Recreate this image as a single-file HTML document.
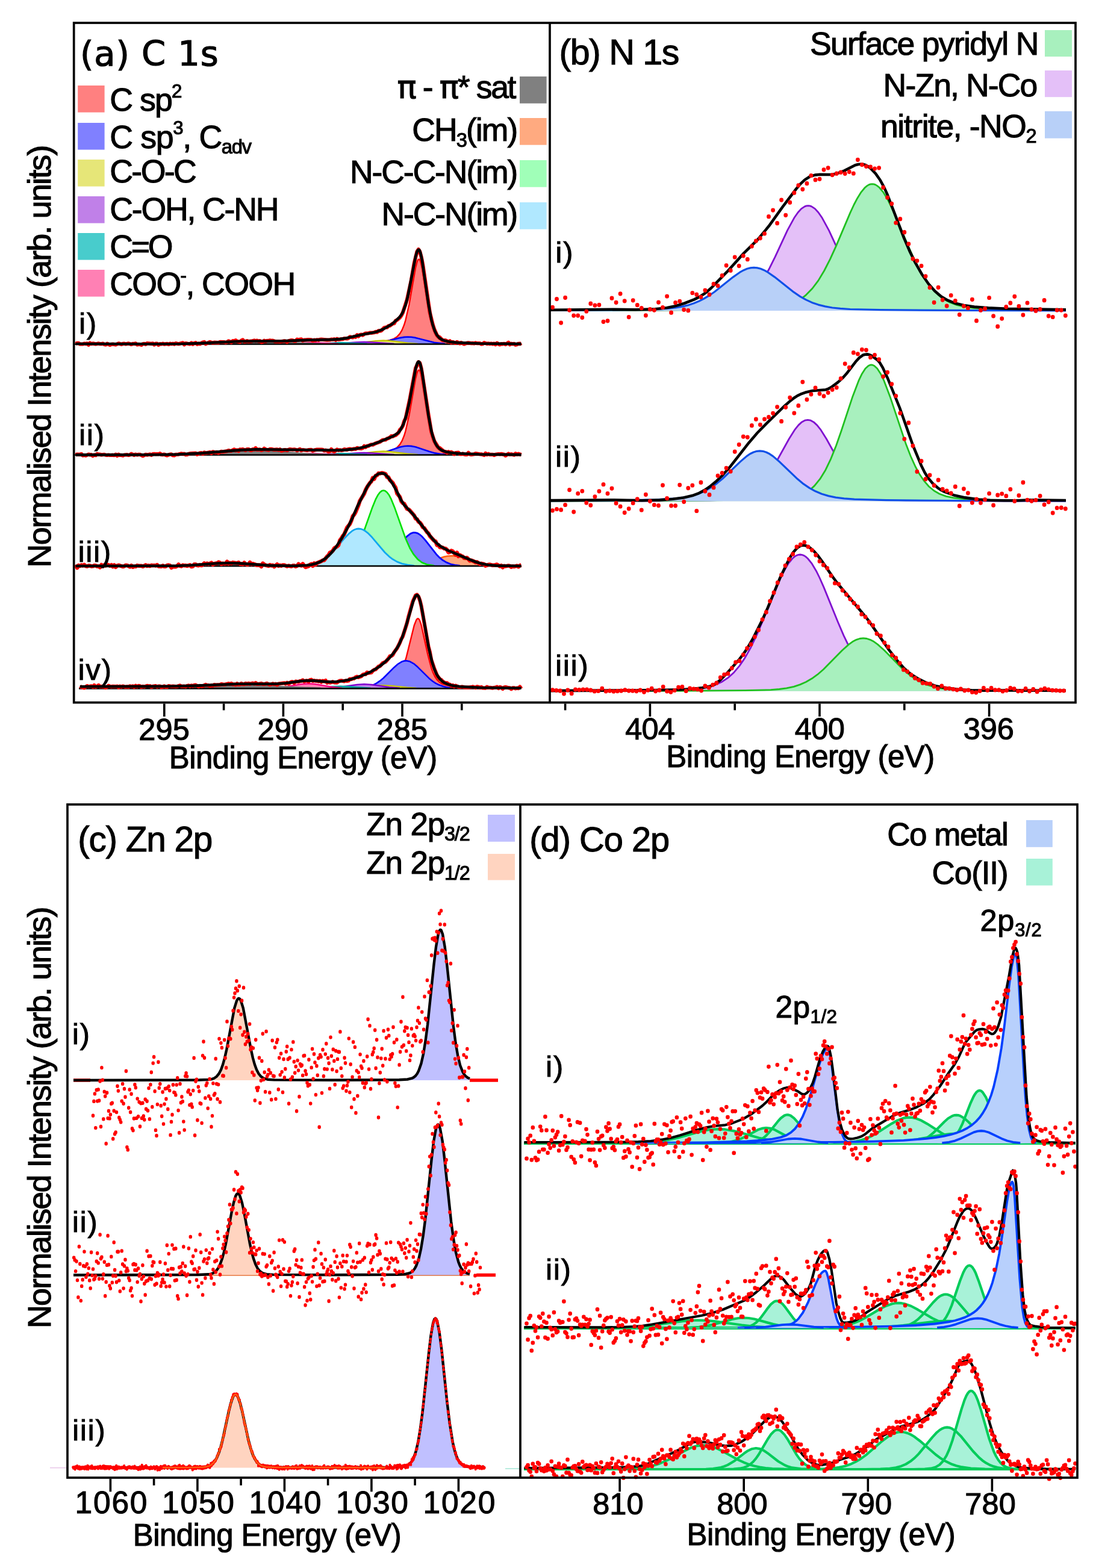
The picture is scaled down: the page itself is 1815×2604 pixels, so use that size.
<!DOCTYPE html>
<html><head><meta charset="utf-8"><title>XPS spectra</title>
<style>html,body{margin:0;padding:0;background:#fff;overflow:hidden;}svg{display:block;}</style></head>
<body><svg width="1815" height="2604" viewBox="0 0 1815 2604">
<rect width="1815" height="2604" fill="#fff"/>
<defs><clipPath id="ca"><rect x="124.5" y="40" width="786.5" height="1125"/></clipPath></defs>
<path d="M437.6 571.2 549 570.7 605.9 569.5 623.7 568.4 638 566.8 648.6 564.6 655.7 561.7 660.5 558.2 665.2 552.4 668.8 545.5 672.3 535.6 675.9 522.3 679.5 505.2 690.1 444.6 692.5 435.4 693.7 432.4 694.9 430.8 696.1 430.6 697.2 432 698.4 434.9 700.8 444.8 711.5 513.1 716.2 536.5 718.6 545 722.1 554.1 724.5 558.2 728.1 562.2 732.8 565.2 738.7 567 747 568.3 758.9 569.4 795.7 570.6 865.6 571.2 L865.6 571.5 L437.6 571.5Z" fill="#FF8080"/>
<path d="M530.1 570.9 590.5 570 626.1 568.2 638 566.8 647.4 564.9 654.6 562.3 659.3 559.3 664 554.1 667.6 548.1 671.2 539.3 673.5 531.6 679.5 505.2 690.1 444.6 692.5 435.4 693.7 432.4 694.9 430.8 696.1 430.6 697.2 432 698.4 434.9 700.8 444.8 710.3 506 715 531.5 719.8 548.5 722.1 554.1 725.7 559.8 729.3 563.2 732.8 565.2 738.7 567 745.9 568.2 772 570 815.8 570.9" fill="none" stroke="#FF0000" stroke-width="2.4" stroke-linejoin="round"/>
<path d="M608.3 571.2 621.4 570.5 632 569.1 642.7 566.9 664 561.1 671.2 559.9 677.1 559.5 683 559.8 690.1 560.9 712.7 567 723.3 569.2 734 570.5 747 571.2 L747 571.5 L608.3 571.5Z" fill="#8080FF"/>
<path d="M616.6 570.9 634.4 568.7 664 561.1 671.2 559.9 677.1 559.5 683 559.8 690.1 560.9 721 568.8 738.7 570.9" fill="none" stroke="#0000FF" stroke-width="2.6" stroke-linejoin="round"/>
<path d="M569.2 571.2 589.3 570.2 622.5 566.2 636.8 565.5 649.8 566.2 683 570.2 703.2 571.2 L703.2 571.5 L569.2 571.5Z" fill="#E6E678"/>
<path d="M579.9 570.8 595.3 569.6 623.7 566.1 636.8 565.5 648.6 566.1 677.1 569.6 693.7 570.9" fill="none" stroke="#C8C800" stroke-width="2.4" stroke-linejoin="round"/>
<path d="M543.1 571.2 604.8 568 666.4 571.2 L666.4 571.5 L543.1 571.5Z" fill="#C080E8"/>
<path d="M555 570.9 591.7 568.4 604.8 568 617.8 568.4 654.6 570.9" fill="none" stroke="#8000D0" stroke-width="2.4" stroke-linejoin="round"/>
<path d="M508.7 571.2 565.6 569 622.5 571.2 L622.5 571.5 L508.7 571.5Z" fill="#48CCCC"/>
<path d="M520.6 570.9 565.6 569 609.5 570.9" fill="none" stroke="#00A0A0" stroke-width="2.4" stroke-linejoin="round"/>
<path d="M461.3 571.2 518.2 569 575.1 571.2 L575.1 571.5 L461.3 571.5Z" fill="#FF80B4"/>
<path d="M473.1 570.9 518.2 569 562.1 570.9" fill="none" stroke="#FF0080" stroke-width="2.4" stroke-linejoin="round"/>
<path d="M281.1 571.2 319 570.6 389 568 418.6 567.5 449.4 568 519.4 570.6 557.3 571.2 L557.3 571.5 L281.1 571.5Z" fill="#808080"/>
<path d="M304.8 570.9 390.1 568 418.6 567.5 448.2 568 532.4 570.9" fill="none" stroke="#707070" stroke-width="2.4" stroke-linejoin="round"/>
<line x1="124" y1="571.5" x2="864" y2="571.5" stroke="#000" stroke-width="2.7"/>
<path d="M125.7 571 128.1 569.8 130.5 569.9 132.8 571.5 137.6 571.5 139.9 570.5 142.3 571.1 144.7 570.3 147.1 572.7 149.4 569.6 151.8 571.1 154.2 570.4 158.9 571.4 163.7 570.3 166 571.2 168.4 571.2 170.8 570.5 173.1 571.9 175.5 572.4 177.9 570.7 182.6 572.8 185 571.8 187.4 571.5 192.1 572.5 196.9 570.3 201.6 571.8 204 570.8 206.3 570.5 208.7 571.5 213.5 570.3 218.2 572 220.6 570.9 222.9 571 225.3 570.3 227.7 572.4 230.1 571.9 232.4 572 234.8 572.8 237.2 571.2 239.5 570.8 241.9 571.9 244.3 570 251.4 570.9 253.8 570.4 256.1 572.5 258.5 570.7 260.9 570.7 263.3 572.9 265.6 571 268 571.5 270.4 570.5 272.7 571.6 277.5 570.9 279.9 572 282.2 570.6 284.6 571.2 287 570.7 289.4 571.6 291.7 570.1 296.5 571.2 303.6 569.3 306 572.3 308.3 570 315.4 571.5 317.8 569.4 320.2 571.6 322.6 569.9 324.9 569.2 327.3 571.7 329.7 570.4 332 571.2 336.8 568.5 339.2 567.9 341.5 571.2 348.6 567.8 353.4 569.6 355.8 568.6 362.9 569.1 365.2 567.9 372.4 568.1 374.7 568.9 377.1 568.1 379.5 566.4 384.2 568.6 386.6 566 389 566.6 391.3 565.1 393.7 566.9 398.4 568.1 400.8 565.5 403.2 564.4 405.6 567.3 407.9 567.1 410.3 566 412.7 567.2 417.4 566.7 422.2 565.4 424.5 566.3 426.9 565.5 429.3 566.7 431.6 566.1 434 568.3 436.4 567.7 438.8 565.7 441.1 567 443.5 565.9 445.9 566 448.2 565.3 450.6 565.8 453 565.6 457.7 567.2 462.5 567 464.8 567.5 472 566.2 474.3 566.6 476.7 568 479.1 566.2 483.8 565 486.2 565.4 488.6 566.4 490.9 566.3 493.3 563.7 495.7 564.7 498 563.7 500.4 563.3 502.8 565.8 505.2 564.6 512.3 564.2 517 564.4 519.4 565.9 521.8 564.6 524.1 565.1 526.5 564.3 528.9 564.8 531.2 563.8 533.6 563.6 543.1 564.6 547.8 564.5 550.2 563.6 552.6 563.9 555 563.2 557.3 564.8 559.7 562.7 562.1 564 566.8 563.1 569.2 563.1 571.6 562 576.3 562.4 578.7 561.7 581 559.3 585.8 560.5 588.2 558.9 590.5 559.8 592.9 556.2 595.3 558.6 597.6 556.2 600 555.5 602.4 556.7 604.8 554.7 607.1 553.6 611.9 553.5 614.2 552.5 616.6 552.9 621.4 552.2 623.7 550.9 626.1 551.7 628.5 549.3 630.8 549.6 633.2 549.1 638 544.3 640.3 543.7 642.7 543.7 645.1 541.3 647.4 540.9 652.2 537.3 654.6 537.2 656.9 532.6 659.3 531.5 664 527.4 666.4 524.2 668.8 519.5 675.9 497.7 683 465.1 687.8 436.9 692.5 417.7 694.9 414.1 697.2 417.7 699.6 426.7 702 438.8 713.8 519 718.6 538.7 721 546.2 725.7 557 728.1 559.1 730.4 560.3 735.2 565.3 739.9 565.1 744.7 567.8 747 566.3 749.4 569.2 751.8 567.9 756.5 569.9 758.9 567.9 763.7 570.4 766 568.9 770.8 571.4 775.5 569.7 777.9 569.4 782.6 570.1 785 569.8 787.4 570.4 789.7 569.3 792.1 570.2 796.9 570 799.2 571.5 801.6 571.2 804 569.2 808.7 570.9 811.1 570.4 813.5 571.1 815.8 570.5 818.2 571.4 820.6 570.5 822.9 572.2 825.3 569.6 827.7 571.3 830.1 572.3 832.4 571.1 834.8 571.3 837.2 570.8 839.5 572 844.3 568.7 846.7 572.2 849 570.7 851.4 571.3 853.8 570.9 856.1 572.7 858.5 572.1 860.9 570.7 863.3 571.1 865.6 569.6" fill="none" stroke="#ff0000" stroke-width="6.2" stroke-linejoin="round"/>
<path d="M125.7 571 253.8 571.3 300 571 330.9 570.1 400.8 566.7 469.6 566.4 513.5 564.7 552.6 563.9 564.4 563.1 575.1 561.6 602.4 555.4 624.9 551.2 635.6 547 651 538.3 662.9 527.4 666.4 522.9 668.8 518.6 673.5 506.2 677.1 492.8 690.1 426 692.5 418 693.7 415.7 694.9 414.6 696.1 415 697.2 416.9 698.4 420.5 700.8 431.5 711.5 504.8 716.2 530.2 718.6 539.5 722.1 549.8 725.7 556.6 729.3 561 734 564.2 739.9 566.3 748.2 567.9 760.1 569.1 796.9 570.5 865.6 571.1" fill="none" stroke="#000" stroke-width="4.6" stroke-linejoin="round" stroke-linecap="butt"/>
<path d="M437.6 755.2 549 754.7 605.9 753.5 623.7 752.4 638 750.8 648.6 748.6 655.7 745.7 660.5 742.2 665.2 736.4 668.8 729.5 672.3 719.6 675.9 706.3 679.5 689.2 690.1 628.6 692.5 619.4 693.7 616.4 694.9 614.8 696.1 614.6 697.2 616 698.4 618.9 700.8 628.8 711.5 697.1 716.2 720.5 718.6 729 722.1 738.1 724.5 742.2 728.1 746.2 732.8 749.2 738.7 751 747 752.3 758.9 753.4 795.7 754.6 865.6 755.2 L865.6 755.5 L437.6 755.5Z" fill="#FF8080"/>
<path d="M530.1 754.9 590.5 754 626.1 752.2 638 750.8 647.4 748.9 654.6 746.3 659.3 743.3 664 738.1 667.6 732.1 671.2 723.3 673.5 715.6 679.5 689.2 690.1 628.6 692.5 619.4 693.7 616.4 694.9 614.8 696.1 614.6 697.2 616 698.4 618.9 700.8 628.8 710.3 690 715 715.5 719.8 732.5 722.1 738.1 725.7 743.8 729.3 747.2 732.8 749.2 738.7 751 745.9 752.2 772 754 815.8 754.9" fill="none" stroke="#FF0000" stroke-width="2.4" stroke-linejoin="round"/>
<path d="M605.9 755.2 620.2 754.4 632 752.6 642.7 749.7 664 742.5 671.2 741 677.1 740.5 683 740.9 690.1 742.3 712.7 749.8 723.3 752.6 735.2 754.4 749.4 755.2 L749.4 755.5 L605.9 755.5Z" fill="#8080FF"/>
<path d="M614.2 754.9 623.7 754 633.2 752.3 642.7 749.7 664 742.5 671.2 741 677.1 740.5 683 740.9 690.1 742.3 712.7 749.8 722.1 752.4 731.6 754 741.1 754.9" fill="none" stroke="#0000FF" stroke-width="2.6" stroke-linejoin="round"/>
<path d="M569.2 755.2 589.3 754.2 622.5 750.2 636.8 749.5 649.8 750.2 683 754.2 703.2 755.2 L703.2 755.5 L569.2 755.5Z" fill="#E6E678"/>
<path d="M579.9 754.8 595.3 753.6 623.7 750.1 636.8 749.5 648.6 750.1 677.1 753.6 693.7 754.9" fill="none" stroke="#C8C800" stroke-width="2.4" stroke-linejoin="round"/>
<path d="M543.1 755.2 604.8 752 666.4 755.2 L666.4 755.5 L543.1 755.5Z" fill="#C080E8"/>
<path d="M555 754.9 591.7 752.4 604.8 752 617.8 752.4 654.6 754.9" fill="none" stroke="#8000D0" stroke-width="2.4" stroke-linejoin="round"/>
<path d="M508.7 755.2 565.6 753 622.5 755.2 L622.5 755.5 L508.7 755.5Z" fill="#48CCCC"/>
<path d="M520.6 754.9 565.6 753 609.5 754.9" fill="none" stroke="#00A0A0" stroke-width="2.4" stroke-linejoin="round"/>
<path d="M461.3 755.2 518.2 753 575.1 755.2 L575.1 755.5 L461.3 755.5Z" fill="#FF80B4"/>
<path d="M473.1 754.9 518.2 753 562.1 754.9" fill="none" stroke="#FF0080" stroke-width="2.4" stroke-linejoin="round"/>
<path d="M268 755.2 315.4 754 389 749.4 418.6 748.5 448.2 749.3 522.9 754 570.4 755.2 L570.4 755.5 L268 755.5Z" fill="#808080"/>
<path d="M289.4 754.9 327.3 753.4 391.3 749.2 418.6 748.5 445.9 749.2 509.9 753.4 549 754.9" fill="none" stroke="#707070" stroke-width="2.4" stroke-linejoin="round"/>
<line x1="124" y1="755.5" x2="864" y2="755.5" stroke="#000" stroke-width="2.7"/>
<path d="M125.7 755.4 128.1 754.5 132.8 754.8 135.2 754 137.6 756.5 139.9 756 142.3 756.6 147.1 754.5 149.4 755.4 151.8 755 154.2 757.1 156.5 755.3 158.9 756.2 161.3 753.8 163.7 754.6 166 754.6 168.4 755.5 173.1 754.8 175.5 755.7 177.9 755.9 180.3 755.5 182.6 756 187.4 755.7 189.7 756.1 192.1 754.7 194.5 756.8 196.9 754.7 199.2 756 201.6 755.9 204 756.6 206.3 755.5 211.1 755.2 213.5 755.9 215.8 755.3 218.2 753.7 222.9 755.9 225.3 754.5 227.7 755.5 230.1 754.8 232.4 754.8 237.2 757.1 241.9 754.8 244.3 755.6 249 754.4 251.4 755.8 253.8 754.1 256.1 753.8 258.5 754.2 263.3 754.2 265.6 753.1 268 754.9 270.4 755.1 272.7 754.5 275.1 755.8 277.5 756.4 282.2 754.5 284.6 754.4 287 756.2 289.4 756.4 291.7 754.9 296.5 754.6 301.2 753.3 303.6 754.1 306 753.6 308.3 755.1 310.7 755 313.1 753.7 315.4 753.2 324.9 752.5 327.3 754.7 332 752.4 334.4 752.1 336.8 753.8 339.2 751.3 341.5 752.5 348.6 750.9 351 752.7 353.4 750.3 358.1 751.5 360.5 750.8 362.9 752.3 367.6 749.8 370 750.4 377.1 749.1 379.5 748 381.8 748.7 384.2 748.8 389 746.3 391.3 748.3 393.7 747.3 396.1 749.1 398.4 746.3 400.8 746.7 403.2 746 407.9 747.9 410.3 746 412.7 746 415 747.4 417.4 747.9 419.8 746.1 422.2 746.6 424.5 744.1 426.9 746.9 431.6 746.4 434 747.8 436.4 747.1 438.8 744.8 441.1 746.4 445.9 747.5 448.2 745.9 450.6 745.8 455.4 746.9 460.1 746.3 462.5 747.3 464.8 746.2 467.2 748.7 472 747.2 474.3 747 476.7 748 479.1 746.7 481.4 746.1 486.2 746.8 488.6 746.3 490.9 746.7 493.3 748.1 498 745.9 500.4 748.1 502.8 747 509.9 748 512.3 747.1 517 746.9 519.4 748.6 521.8 747.6 526.5 746.6 533.6 746.6 536 746.9 538.4 748.5 540.7 747.7 543.1 748.5 545.5 750 547.8 749.4 550.2 746 552.6 748.9 555 749.9 559.7 746.4 562.1 747.8 564.4 747.3 566.8 747.8 569.2 747.5 571.6 746.1 576.3 747 578.7 745.9 581 745.5 583.4 746.4 588.2 745.4 590.5 745.8 592.9 743.8 595.3 744.5 600 744.9 602.4 744 604.8 740.9 607.1 742.7 609.5 740.6 611.9 740.6 614.2 739.1 616.6 738.3 619 738.7 623.7 736.2 630.8 733.9 635.6 730.5 640.3 730.4 642.7 728.5 645.1 727.8 647.4 726.5 649.8 724.2 652.2 724.9 654.6 723.5 656.9 722.8 661.7 718.6 664 713.8 666.4 711.4 668.8 707.5 671.2 699.4 673.5 695.1 680.6 662.4 690.1 611.6 694.9 601.1 697.2 602.7 699.6 611.7 711.5 688.8 716.2 716.8 721 732.2 728.1 743.4 730.4 744 737.6 750.2 739.9 750 742.3 752 744.7 750.2 747 751.5 749.4 750.7 751.8 751.9 754.2 754.2 756.5 752.1 761.3 751.6 763.7 754.1 766 754.2 768.4 753.4 770.8 754.5 773.1 754.9 775.5 754.8 777.9 751.8 780.3 754.5 782.6 755 787.4 754.2 789.7 753.1 796.9 754.3 799.2 754.3 804 755.9 806.3 752.7 808.7 755 811.1 753.7 813.5 754.9 818.2 754.8 820.6 756 822.9 754.8 827.7 754 830.1 754.4 832.4 753.9 837.2 754.9 839.5 756.7 844.3 753.5 846.7 754.8 849 754.2 853.8 755.6 856.1 753.2 858.5 754.7 860.9 753.7 865.6 755.3" fill="none" stroke="#ff0000" stroke-width="6.2" stroke-linejoin="round"/>
<path d="M125.7 755.4 245.5 755.3 295.3 754.6 334.4 752.6 399.6 747.4 425.7 746.3 560.9 747.8 573.9 747.1 585.8 745.9 596.5 744.2 607.1 741.7 624.9 735.9 652.2 724.7 659.3 720.3 662.9 716.8 665.2 713.6 670 704.3 674.7 689.7 679.5 669 690.1 612.3 692.5 604.1 693.7 601.7 694.9 600.6 696.1 600.9 697.2 602.8 698.4 606.3 700.8 617.2 711.5 690.1 716.2 715.1 718.6 724.3 722.1 734.3 725.7 740.8 729.3 744.8 734 748 739.9 750.2 748.2 751.8 760.1 753.1 795.7 754.5 865.6 755.1" fill="none" stroke="#000" stroke-width="4.6" stroke-linejoin="round" stroke-linecap="butt"/>
<path d="M667.6 939.7 684.2 938.8 697.2 937 709.1 934 736.4 924.9 743.5 923.5 750.6 923 757.7 923.6 764.8 925.1 790.9 933.9 802.8 936.9 815.8 938.8 832.4 939.7 L832.4 940 L667.6 940Z" fill="#FFAA80"/>
<path d="M677.1 939.4 688.9 938.3 699.6 936.5 710.3 933.6 736.4 924.9 743.5 923.5 750.6 923 757.7 923.6 764.8 925.1 789.7 933.5 800.4 936.4 811.1 938.3 822.9 939.3" fill="none" stroke="#FF6010" stroke-width="2.6" stroke-linejoin="round"/>
<path d="M605.9 939.7 617.8 938.9 626.1 937.3 633.2 934.9 640.3 930.8 646.3 926.1 652.2 920 670 897.2 675.9 890.6 681.8 886.1 685.4 884.7 687.8 884.4 690.1 884.6 693.7 885.7 697.2 887.9 700.8 891 706.7 897.6 724.5 920.4 730.4 926.4 736.4 931.1 743.5 935 750.6 937.4 758.9 938.9 770.8 939.7 L770.8 940 L605.9 940Z" fill="#8080FF"/>
<path d="M613.1 939.3 621.4 938.4 628.5 936.7 635.6 933.7 641.5 930 646.3 926.1 652.2 920 670 897.2 675.9 890.6 681.8 886.1 685.4 884.7 687.8 884.4 690.1 884.6 693.7 885.7 697.2 887.9 700.8 891 706.7 897.6 724.5 920.4 730.4 926.4 735.2 930.3 741.1 933.9 748.2 936.8 755.4 938.4 763.7 939.4" fill="none" stroke="#0000FF" stroke-width="2.8" stroke-linejoin="round"/>
<path d="M546.7 939.7 560.9 938.3 565.6 937.2 570.4 935.4 575.1 932.7 578.7 930 585.8 922 591.7 912.5 598.8 897.2 604.8 881.7 617.8 844.1 623.7 829.4 627.3 822.6 630.8 817.7 634.4 814.9 636.8 814.4 639.1 814.9 642.7 817.7 646.3 822.6 649.8 829.4 655.7 844.1 668.8 881.7 674.7 897.2 681.8 912.5 687.8 922 694.9 930 698.4 932.7 703.2 935.4 707.9 937.2 712.7 938.3 726.9 939.7 L726.9 940 L546.7 940Z" fill="#A0FFB8"/>
<path d="M552.6 939.4 564.4 937.5 572.7 934.2 579.9 928.9 587 920.4 592.9 910.3 600 894.3 617.8 844.1 623.7 829.4 627.3 822.6 630.8 817.7 634.4 814.9 636.8 814.4 639.1 814.9 642.7 817.7 646.3 822.6 649.8 829.4 655.7 844.1 673.5 894.3 680.6 910.3 686.6 920.4 693.7 928.9 700.8 934.2 709.1 937.5 721 939.4" fill="none" stroke="#00E000" stroke-width="2.6" stroke-linejoin="round"/>
<path d="M494.5 939.7 508.7 938.9 519.4 937.3 528.9 934.3 537.2 930.1 544.3 924.9 551.4 918.3 558.5 910.4 572.7 893.2 579.9 885.8 584.6 881.9 588.2 879.8 591.7 878.5 595.3 878 598.8 878.3 602.4 879.5 605.9 881.4 610.7 885.1 617.8 892.3 633.2 910.9 640.3 918.7 647.4 925.3 654.6 930.3 662.9 934.5 672.3 937.3 683 939 696.1 939.7 L696.1 940 L494.5 940Z" fill="#B0E8FF"/>
<path d="M502.8 939.4 513.5 938.3 522.9 936.4 531.2 933.3 538.4 929.3 545.5 923.9 552.6 917.1 572.7 893.2 579.9 885.8 584.6 881.9 588.2 879.8 591.7 878.5 595.3 878 598.8 878.3 602.4 879.5 605.9 881.4 610.7 885.1 617.8 892.3 639.1 917.5 646.3 924.3 652.2 928.8 659.3 932.9 667.6 936.1 677.1 938.2 687.8 939.3" fill="none" stroke="#10A8F0" stroke-width="2.8" stroke-linejoin="round"/>
<path d="M289.4 939.7 315.4 938.9 360.5 935.6 379.5 935 398.4 935.6 443.5 938.9 469.6 939.7 L469.6 940 L289.4 940Z" fill="#808080"/>
<path d="M303.6 939.4 323.7 938.4 361.7 935.5 379.5 935 397.3 935.5 435.2 938.4 455.4 939.4" fill="none" stroke="#707070" stroke-width="2.4" stroke-linejoin="round"/>
<line x1="124" y1="940" x2="864" y2="940" stroke="#000" stroke-width="2.7"/>
<path d="M125.7 937.8 128.1 943 130.5 938.9 132.8 939.9 135.2 938.4 137.6 939.5 139.9 937.8 142.3 940 144.7 940.6 147.1 939.3 149.4 939.5 151.8 940.4 154.2 940.3 156.5 939.1 158.9 939.2 161.3 940.6 163.7 940.4 166 942.2 168.4 938 170.8 940.3 173.1 938.4 175.5 939.5 177.9 937.7 180.3 938.2 182.6 939.6 185 938.2 187.4 941.1 189.7 938.5 192.1 941.8 194.5 939.6 196.9 938.7 204 941 206.3 940.4 208.7 938.7 211.1 938.9 215.8 941.5 218.2 939.2 220.6 941.7 222.9 940.6 225.3 940.9 227.7 939.1 230.1 939.7 234.8 939.7 237.2 940.8 241.9 938.3 244.3 940 246.7 939.2 249 940.1 251.4 938.8 253.8 939.2 256.1 938.9 258.5 939.6 260.9 938 263.3 940.4 268 940.7 270.4 939.2 272.7 940.7 275.1 940.7 277.5 939 279.9 938.5 282.2 939.2 284.6 942.8 287 940.9 291.7 941.2 294.1 940.1 296.5 937.4 298.8 939.9 301.2 940.4 303.6 938.6 306 939.2 308.3 939.1 310.7 939.9 315.4 938.4 317.8 941.1 320.2 940.6 322.6 937.2 324.9 937.3 327.3 938.8 329.7 939.2 332 938 334.4 939.1 336.8 937.8 339.2 935.3 341.5 936.9 343.9 935.5 346.3 936.9 351 934.6 353.4 937.7 355.8 936.3 360.5 935.3 362.9 933.6 365.2 934.5 367.6 937 370 935.5 372.4 936.2 374.7 936.1 377.1 932.6 379.5 936.3 381.8 934.7 384.2 935.9 386.6 934.1 393.7 935.4 396.1 934.1 398.4 936.7 400.8 936.6 403.2 937.3 405.6 934.5 407.9 936.6 410.3 937.7 412.7 937.2 415 933.9 417.4 937.2 419.8 936.2 426.9 938.6 431.6 938.6 434 941 436.4 935.5 438.8 937.5 441.1 938.6 445.9 940 448.2 938 450.6 939.4 453 938.7 455.4 941.1 460.1 937.1 462.5 939.9 464.8 938.7 467.2 939.7 469.6 938.4 472 938.5 476.7 940.5 479.1 939.5 483.8 940.6 486.2 939.3 488.6 939.3 490.9 940.8 493.3 939.9 495.7 936.7 498 938.6 500.4 939.4 502.8 936.4 505.2 939.8 507.5 942 512.3 940.3 514.6 937.8 517 936.6 519.4 939.9 521.8 935.3 524.1 937.5 526.5 934.9 533.6 931.9 536 930.4 538.4 930.4 543.1 924.1 545.5 922 547.8 917.8 550.2 916.9 552.6 914.6 555 910.6 559.7 907.6 562.1 905.3 564.4 897.4 566.8 894.4 569.2 890.1 571.6 887.3 576.3 876 581 870.3 583.4 864.7 585.8 857.2 588.2 854.5 590.5 850.6 595.3 838.9 597.6 831.6 604.8 819.9 607.1 813.6 609.5 809.1 614.2 802 616.6 799.7 619 793.5 621.4 795.5 623.7 790 626.1 789.4 628.5 786 630.8 786.4 633.2 785.5 635.6 785.5 640.3 787.1 642.7 792.4 645.1 792.6 647.4 797.2 652.2 801.8 654.6 806.4 656.9 809.8 659.3 819.4 664 825.2 666.4 832.5 668.8 835.5 671.2 836.5 675.9 845.1 678.3 845.8 680.6 847.8 687.8 856.2 690.1 861.2 692.5 862.2 694.9 866.5 697.2 867.8 699.6 870.8 702 875.5 704.4 876.8 709.1 883.8 711.5 885.9 713.8 890.2 721 898 723.3 899 725.7 905.4 728.1 905 730.4 908.9 732.8 908.8 735.2 909.4 737.6 911 739.9 911.1 742.3 913.1 744.7 917.5 747 916.9 749.4 914.6 751.8 915.6 756.5 921.2 758.9 917.7 761.3 923.8 763.7 921.9 766 923.3 768.4 924 770.8 926.8 773.1 926.9 775.5 926.2 780.3 931.2 782.6 930.5 787.4 932.5 789.7 934.1 792.1 933.3 796.9 936.8 799.2 935.8 804 936.9 806.3 939.6 811.1 937.7 813.5 937.5 818.2 938.9 822.9 938.2 825.3 937.4 830.1 940.4 832.4 939.2 834.8 942.2 837.2 939.8 839.5 940.4 844.3 939.4 846.7 939.9 849 941.7 851.4 940.4 853.8 941 858.5 939.6 860.9 941.2 863.3 939.1 865.6 938.4" fill="none" stroke="#ff0000" stroke-width="6.5" stroke-linejoin="round"/>
<path d="M125.7 940 291.7 939.7 316.6 938.8 360.5 935.6 379.5 935 398.4 935.6 448.2 939.1 488.6 939.8 509.9 938.8 517 937.7 524.1 936 532.4 932.6 540.7 927.2 549 919.5 557.3 909.4 566.8 895.1 577.5 876 584.6 861.6 594.1 839.7 610.7 806.8 620.2 794.1 623.7 790.1 628.5 786.8 633.2 786 636.8 786.4 639.1 787.4 643.9 792.1 652.2 803.6 660.5 819 666.4 831.2 671.2 838.6 685.4 853.5 718.6 895.4 725.7 902.6 732.8 908.1 743.5 914 781.4 929.9 790.9 933.5 800.4 936.2 811.1 938.2 824.1 939.4 865.6 940" fill="none" stroke="#000" stroke-width="4.6" stroke-linejoin="round" stroke-linecap="butt"/>
<path d="M438.8 1143 544.3 1142.6 600 1141.5 619 1140.5 633.2 1139.2 642.7 1137.5 649.8 1135.2 654.6 1132.4 659.3 1128 664 1120.9 667.6 1113.3 671.2 1103.5 674.7 1091.4 687.8 1038.5 691.3 1029.6 692.5 1028.1 693.7 1027.3 694.9 1027.5 696.1 1028.8 697.2 1031.1 699.6 1038.2 711.5 1092.1 717.4 1112.7 719.8 1118.7 723.3 1125.5 726.9 1130.2 730.4 1133.4 735.2 1136 742.3 1138.1 751.8 1139.6 763.7 1140.7 800.4 1142.2 865.6 1142.9 L865.6 1143.3 L438.8 1143.3Z" fill="#FF8080"/>
<path d="M530.1 1142.7 589.3 1141.8 623.7 1140.2 635.6 1138.8 643.9 1137.2 649.8 1135.2 654.6 1132.4 658.1 1129.3 661.7 1124.8 665.2 1118.6 668.8 1110.3 674.7 1091.4 687.8 1038.5 691.3 1029.6 692.5 1028.1 693.7 1027.3 694.9 1027.5 696.1 1028.8 697.2 1031.1 699.6 1038.2 710.3 1087 716.2 1109.3 718.6 1115.9 722.1 1123.5 725.7 1128.9 729.3 1132.5 734 1135.5 738.7 1137.2 745.9 1138.8 756.5 1140.2 787.4 1141.8 839.5 1142.7" fill="none" stroke="#FF0000" stroke-width="2.4" stroke-linejoin="round"/>
<path d="M588.2 1143 600 1142.3 608.3 1141.1 615.4 1139.1 622.5 1136.1 628.5 1132.6 635.6 1127 654.6 1108.2 661.7 1102.1 668.8 1098.3 674.7 1097.3 680.6 1098.6 687.8 1102.7 693.7 1107.8 712.7 1126.7 719.8 1132.3 725.7 1135.9 732.8 1139 739.9 1141 748.2 1142.3 760.1 1143 L760.1 1143.3 L588.2 1143.3Z" fill="#8080FF"/>
<path d="M595.3 1142.7 604.8 1141.7 611.9 1140.2 619 1137.8 624.9 1134.8 630.8 1130.9 636.8 1126 654.6 1108.2 660.5 1103 667.6 1098.7 671.2 1097.6 674.7 1097.3 680.6 1098.6 687.8 1102.7 693.7 1107.8 712.7 1126.7 718.6 1131.5 723.3 1134.6 729.3 1137.6 736.4 1140.1 743.5 1141.6 753 1142.7" fill="none" stroke="#0000FF" stroke-width="2.6" stroke-linejoin="round"/>
<path d="M571.6 1143 590.5 1142.1 622.5 1138.9 636.8 1138.3 649.8 1138.9 683 1142.2 702 1143 L702 1143.3 L571.6 1143.3Z" fill="#E6E678"/>
<path d="M582.2 1142.6 596.5 1141.6 623.7 1138.8 636.8 1138.3 649.8 1138.9 675.9 1141.6 691.3 1142.7" fill="none" stroke="#C8C800" stroke-width="2.4" stroke-linejoin="round"/>
<path d="M536 1143 557.3 1141.8 590.5 1137.2 604.8 1136.3 619 1137.2 652.2 1141.8 673.5 1143 L673.5 1143.3 L536 1143.3Z" fill="#C080E8"/>
<path d="M545.5 1142.7 563.3 1141.2 592.9 1137 604.8 1136.3 616.6 1137 646.3 1141.2 664 1142.7" fill="none" stroke="#8000D0" stroke-width="2.4" stroke-linejoin="round"/>
<path d="M504 1143 522.9 1142.3 553.8 1140.1 565.6 1139.8 626.1 1143 L626.1 1143.3 L504 1143.3Z" fill="#48CCCC"/>
<path d="M515.8 1142.7 551.4 1140.2 565.6 1139.8 578.7 1140.2 615.4 1142.7" fill="none" stroke="#00A0A0" stroke-width="2.4" stroke-linejoin="round"/>
<path d="M445.9 1143 467.2 1141.6 499.2 1136.2 512.3 1135.3 525.3 1136.4 556.1 1141.6 577.5 1143 L577.5 1143.3 L445.9 1143.3Z" fill="#FF80B4"/>
<path d="M455.4 1142.7 472 1141 500.4 1136.1 512.3 1135.3 522.9 1136 551.4 1141 568 1142.6" fill="none" stroke="#FF0080" stroke-width="2.4" stroke-linejoin="round"/>
<path d="M273.9 1143 314.3 1142.3 385.4 1139.3 415 1138.8 444.7 1139.3 515.8 1142.3 556.1 1143 L556.1 1143.3 L273.9 1143.3Z" fill="#808080"/>
<path d="M297.7 1142.7 386.6 1139.3 415 1138.8 443.5 1139.3 532.4 1142.7" fill="none" stroke="#707070" stroke-width="2.4" stroke-linejoin="round"/>
<line x1="131" y1="1143.3" x2="864" y2="1143.3" stroke="#000" stroke-width="2.7"/>
<path d="M132.8 1139.6 135.2 1141.1 139.9 1142.5 144.7 1139.1 147.1 1140.2 151.8 1139.3 154.2 1141 156.5 1138 158.9 1141 161.3 1139.9 163.7 1138 166 1140.3 168.4 1140.1 170.8 1140.7 173.1 1139.9 175.5 1142.1 177.9 1140.8 180.3 1138.7 182.6 1140 185 1140.4 187.4 1139.9 192.1 1140.1 194.5 1139.7 196.9 1141.7 199.2 1139.7 201.6 1140.8 204 1139.5 208.7 1141.1 211.1 1140.3 213.5 1141.1 215.8 1139.3 218.2 1140.2 220.6 1139.4 222.9 1141.2 225.3 1138.7 227.7 1140.4 230.1 1138.9 232.4 1139.4 234.8 1141.2 237.2 1139.9 239.5 1140.6 244.3 1138.8 246.7 1139.5 249 1139.2 251.4 1141.2 253.8 1139.9 258.5 1139.1 260.9 1140.6 263.3 1139.5 265.6 1139.6 268 1141.4 270.4 1140.9 272.7 1139.5 275.1 1141 277.5 1141 279.9 1139.1 284.6 1140 287 1139.7 291.7 1140.2 294.1 1140 298.8 1138.3 301.2 1139.9 306 1139.6 308.3 1140.4 310.7 1139 313.1 1138.4 315.4 1139.9 317.8 1138.3 320.2 1139.5 322.6 1137.8 324.9 1137.7 329.7 1140.4 332 1138.8 334.4 1139.7 336.8 1139.5 341.5 1136.9 343.9 1138.1 346.3 1138.1 348.6 1139.4 351 1138.2 353.4 1138.8 355.8 1137 358.1 1137.8 360.5 1137.3 365.2 1137.2 367.6 1136 372.4 1137 379.5 1135.2 381.8 1136.2 384.2 1134.9 386.6 1136.7 389 1136.3 391.3 1137.3 393.7 1135.2 396.1 1136.8 398.4 1136.7 400.8 1135 403.2 1136.2 405.6 1136.4 407.9 1134.8 410.3 1135.8 412.7 1134.8 415 1136 417.4 1135 419.8 1134.7 422.2 1135.6 424.5 1134 426.9 1136 431.6 1135.7 434 1134.9 436.4 1136.1 438.8 1136.2 443.5 1134.8 445.9 1136.3 448.2 1137.1 453 1135.3 455.4 1136.4 457.7 1135.7 460.1 1137.4 462.5 1135.6 472 1134.2 474.3 1135.6 476.7 1133.8 479.1 1135.6 483.8 1132.4 486.2 1132.3 488.6 1134.3 490.9 1131.7 495.7 1132.3 498 1131.1 500.4 1130.8 502.8 1129.4 505.2 1131.8 507.5 1130.7 509.9 1130.4 512.3 1131.9 514.6 1129.2 517 1128.7 519.4 1130.9 521.8 1130.2 524.1 1130.9 526.5 1130.7 528.9 1131.7 531.2 1130.6 533.6 1132.7 536 1130.6 538.4 1131.7 540.7 1130 543.1 1133.9 545.5 1132.6 547.8 1133.7 552.6 1132.2 555 1133.3 559.7 1133.7 562.1 1131.7 564.4 1130.5 566.8 1130.3 571.6 1131.4 573.9 1130.4 576.3 1131 578.7 1130.5 581 1127.5 583.4 1128.1 585.8 1126.9 588.2 1126.8 590.5 1124.6 592.9 1123.7 595.3 1124.9 600 1123.1 602.4 1120.5 604.8 1119.6 607.1 1120 609.5 1116.6 611.9 1117.6 616.6 1117 619 1114.1 621.4 1112.3 623.7 1111.7 628.5 1106.9 630.8 1106.4 635.6 1101.1 640.3 1099.1 645.1 1093.6 647.4 1089.7 649.8 1089.4 652.2 1087.7 654.6 1083 659.3 1076.7 664 1067.3 666.4 1061.2 668.8 1057 675.9 1034.5 678.3 1024.4 685.4 999 690.1 988.8 692.5 987.6 694.9 990.6 697.2 996.8 699.6 1006.5 711.5 1074.2 713.8 1082.7 716.2 1095.7 721 1109.8 725.7 1121.7 730.4 1127.9 732.8 1129.1 735.2 1131.7 737.6 1133.2 739.9 1134.4 742.3 1134.2 744.7 1136.2 747 1136.7 749.4 1139 751.8 1138 754.2 1140.2 756.5 1138.6 761.3 1140.8 763.7 1141.3 766 1140.6 768.4 1140.6 770.8 1141.4 777.9 1141.7 782.6 1141.2 785 1140.4 789.7 1142.2 792.1 1140.3 794.5 1140.8 796.9 1142.1 799.2 1141 801.6 1142.5 806.3 1142.7 808.7 1140.7 811.1 1142 813.5 1141.9 818.2 1142.6 820.6 1141.9 822.9 1141.7 825.3 1140.6 827.7 1143.1 830.1 1141 832.4 1141.8 834.8 1144 837.2 1141.6 839.5 1141 844.3 1142.3 846.7 1142.4 849 1144.3 851.4 1142.3 853.8 1142.4 856.1 1143.5 858.5 1142.5 860.9 1143.2 863.3 1140.6 865.6 1143.8" fill="none" stroke="#ff0000" stroke-width="6.2" stroke-linejoin="round"/>
<path d="M132.8 1140.2 281.1 1139.8 321.4 1138.9 397.3 1135.8 457.7 1135.8 473.1 1134.8 499.2 1131.1 509.9 1130.2 520.6 1130.4 544.3 1132.4 557.3 1132.3 570.4 1130.8 583.4 1127.9 595.3 1124.2 605.9 1120.2 615.4 1115.8 623.7 1111.1 632 1105.4 639.1 1099.6 646.3 1092.9 653.4 1084.8 658.1 1078.2 661.7 1072.2 667.6 1059.4 673.5 1042.2 686.6 996.9 690.1 989.7 691.3 988.6 692.5 988.3 693.7 988.9 694.9 990.4 696.1 993 698.4 1001.2 702 1019 711.5 1073.4 717.4 1099.3 721 1110.4 724.5 1118.7 728.1 1124.7 732.8 1130.1 737.6 1133.6 744.7 1136.8 753 1138.9 763.7 1140.3 798 1142 865.6 1142.8" fill="none" stroke="#000" stroke-width="4.6" stroke-linejoin="round" stroke-linecap="butt"/>
<path d="M914 515.7 1086.4 515.2 1167.4 514.2 1186.4 513.3 1200.5 511.8 1212.5 509.4 1223 506 1233.6 500.7 1242.7 494.1 1251.9 485.1 1260.3 474.5 1268.8 461.6 1277.9 445.2 1287.1 426.6 1307.5 382.7 1318.8 361.8 1325.1 352.7 1330.7 346.6 1336.4 342.9 1339.2 341.9 1342 341.6 1344.8 341.9 1347.6 342.9 1353.3 346.6 1358.9 352.7 1365.2 361.8 1376.5 382.7 1396.9 426.6 1406.1 445.2 1415.2 461.6 1423.7 474.5 1432.1 485.1 1441.3 494.1 1450.4 500.7 1461 506 1471.5 509.4 1483.5 511.8 1497.6 513.3 1516.6 514.2 1597.5 515.2 1770 515.7 L1770 516 L914 516Z" fill="#E4C0F8"/>
<path d="M914 515.7 1086.4 515.2 1167.4 514.2 1186.4 513.3 1200.5 511.8 1212.5 509.4 1223 506 1233.6 500.7 1242.7 494.1 1251.9 485.1 1260.3 474.5 1268.8 461.6 1277.9 445.2 1287.1 426.6 1307.5 382.7 1318.8 361.8 1325.1 352.7 1330.7 346.6 1336.4 342.9 1339.2 341.9 1342 341.6 1344.8 341.9 1347.6 342.9 1353.3 346.6 1358.9 352.7 1365.2 361.8 1376.5 382.7 1396.9 426.6 1406.1 445.2 1415.2 461.6 1423.7 474.5 1432.1 485.1 1441.3 494.1 1450.4 500.7 1461 506 1471.5 509.4 1483.5 511.8 1497.6 513.3 1516.6 514.2 1597.5 515.2 1770 515.7" fill="none" stroke="#8010D0" stroke-width="2.8" stroke-linejoin="round"/>
<path d="M914 515.6 1130.8 514.9 1244.1 513.3 1269.5 512.3 1287.8 510.6 1302.6 507.9 1315.2 504 1327.2 498.1 1332.8 494.3 1338.5 489.8 1349 479 1358.9 465.9 1368.7 449.5 1378.6 430.2 1388.5 408.4 1411.7 353.6 1418 340 1423.7 329.2 1430 319.1 1436.3 311.5 1439.8 308.6 1442.7 306.9 1445.5 305.9 1448.3 305.6 1451.1 305.9 1453.9 306.9 1456.7 308.6 1460.3 311.5 1466.6 319.1 1473.6 330.5 1485.6 355.2 1507.4 406.7 1516.6 427.2 1525.7 445.6 1534.2 460.4 1541.9 471.9 1550.4 482.2 1558.8 490.4 1567.3 496.8 1577.8 502.5 1589.1 506.6 1602.5 509.6 1618 511.6 1637.7 512.8 1665.1 513.7 1770 514.9 L1770 516 L914 516Z" fill="#A8F0BE"/>
<path d="M914 515.6 1130.8 514.9 1244.1 513.3 1269.5 512.3 1287.8 510.6 1302.6 507.9 1315.2 504 1327.2 498.1 1332.8 494.3 1338.5 489.8 1349 479 1358.9 465.9 1368.7 449.5 1378.6 430.2 1388.5 408.4 1411.7 353.6 1418 340 1423.7 329.2 1430 319.1 1436.3 311.5 1439.8 308.6 1442.7 306.9 1445.5 305.9 1448.3 305.6 1451.1 305.9 1453.9 306.9 1456.7 308.6 1460.3 311.5 1466.6 319.1 1473.6 330.5 1485.6 355.2 1507.4 406.7 1516.6 427.2 1525.7 445.6 1534.2 460.4 1541.9 471.9 1550.4 482.2 1558.8 490.4 1567.3 496.8 1577.8 502.5 1589.1 506.6 1602.5 509.6 1618 511.6 1637.7 512.8 1665.1 513.7 1770 514.9" fill="none" stroke="#20C020" stroke-width="2.8" stroke-linejoin="round"/>
<path d="M914 515.5 1020.3 514.9 1078.7 514 1110.4 512.2 1122.3 510.9 1133.6 508.9 1142.8 506.7 1151.9 503.7 1160.4 500.3 1168.8 496 1177.3 491 1186.4 484.7 1217.4 460.1 1228.6 452.2 1235 448.7 1240.6 446.3 1246.2 444.9 1251.9 444.4 1257.5 444.9 1263.1 446.3 1268.8 448.7 1275.1 452.2 1286.4 460.1 1318.1 485.2 1328.6 492.3 1338.5 497.9 1348.3 502.4 1358.9 506.1 1369.4 508.8 1381.4 510.9 1394.8 512.4 1410.3 513.4 1458.9 514.6 1564.5 515.4 1751.7 515.7 L1751.7 516 L914 516Z" fill="#B8D0F8"/>
<path d="M914 515.5 1020.3 514.9 1078.7 514 1110.4 512.2 1122.3 510.9 1133.6 508.9 1142.8 506.7 1151.9 503.7 1160.4 500.3 1168.8 496 1177.3 491 1186.4 484.7 1217.4 460.1 1228.6 452.2 1235 448.7 1240.6 446.3 1246.2 444.9 1251.9 444.4 1257.5 444.9 1263.1 446.3 1268.8 448.7 1275.1 452.2 1286.4 460.1 1318.1 485.2 1328.6 492.3 1338.5 497.9 1348.3 502.4 1358.9 506.1 1370.2 508.9 1382.1 511 1395.5 512.4 1411.7 513.5 1462.4 514.7 1572.9 515.4 1770 515.8" fill="none" stroke="#1050E8" stroke-width="3.2" stroke-linejoin="round"/>
<path d="M914 514.8 1019.6 513.8 1054.8 514.3 1087.8 513.2 1106.9 511.2 1120.2 508.6 1137.1 503.5 1153.3 497.1 1161.1 493.1 1168.8 488.3 1174.4 484.1 1180.8 478.5 1207.5 451.2 1235 420.6 1258.2 398 1276.5 375.8 1299 344.3 1322.3 313.5 1329.3 305.3 1336.4 298.6 1344.8 293.3 1353.3 290.6 1361.7 289.7 1380.7 290 1388.5 288.6 1401.8 283.6 1420.1 274.3 1425.1 273 1430 272.5 1433.5 272.9 1437.7 274.3 1441.3 276.3 1445.5 279.5 1453.9 288.1 1461.7 299.3 1468 310.9 1473.6 323.2 1501.1 395.1 1511 418 1520.1 436.7 1530.7 455.2 1541.9 471.5 1552.5 483.6 1563 492.4 1573.6 498.7 1585.6 503.4 1600.4 507.1 1618 509.6 1641.2 511.4 1672.2 512.8 1770 514.4" fill="none" stroke="#000" stroke-width="4.6" stroke-linejoin="round" stroke-linecap="butt"/>
<path d="M917.5 510.2v0.4M924.5 496.4v0.4M931.6 535.9v0.4M938.6 494.2v0.4M945.6 514.9v0.4M952.7 523.9v0.4M959.7 523.9v0.4M966.8 527.2v0.4M973.8 516.8v0.4M980.8 504v0.4M987.9 507v0.4M994.9 506.2v0.4M1002 534.1v0.4M1009 532.6v0.4M1016 495v0.4M1023.1 502.1v0.4M1030.1 487.7v0.4M1037.2 499.6v0.4M1044.2 526.4v0.4M1051.2 498.7v0.4M1058.3 506.5v0.4M1065.3 511.4v0.4M1072.4 523.6v0.4M1079.4 513.5v0.4M1086.4 514.9v0.4M1093.5 501.9v0.4M1100.5 510.3v0.4M1107.6 491.8v0.4M1114.6 519v0.4M1121.6 502.4v0.4M1128.7 500.1v0.4M1135.7 514.2v0.4M1142.8 515.5v0.4M1149.8 486.3v0.4M1156.8 489v0.4M1163.9 493.2v0.4M1170.9 481.9v0.4M1178 489v0.4M1185 471.3v0.4M1192 474.3v0.4M1199.1 457.5v0.4M1206.1 440.7v0.4M1213.2 449v0.4M1220.2 426.8v0.4M1227.2 441.4v0.4M1234.3 424.6v0.4M1241.3 430.5v0.4M1248.4 408.8v0.4M1255.4 399.8v0.4M1262.4 395.4v0.4M1269.5 387.8v0.4M1276.5 359.5v0.4M1283.6 348.9v0.4M1290.6 370.5v0.4M1297.6 331.9v0.4M1304.7 357.2v0.4M1311.7 336v0.4M1318.8 320v0.4M1325.8 307.7v0.4M1332.8 314.1v0.4M1339.9 304.5v0.4M1346.9 291.3v0.4M1354 298.5v0.4M1361 297.2v0.4M1368 281.6v0.4M1375.1 278.7v0.4M1382.1 290.4v0.4M1389.2 288v0.4M1396.2 286v0.4M1403.2 288.2v0.4M1410.3 285.2v0.4M1417.3 287.8v0.4M1424.4 265.1v0.4M1431.4 273.3v0.4M1438.4 276.1v0.4M1445.5 276.9v0.4M1452.5 279.9v0.4M1459.6 278.6v0.4M1466.6 311.2v0.4M1473.6 327.8v0.4M1480.7 338.2v0.4M1487.7 369.8v0.4M1494.8 363.5v0.4M1501.8 385.5v0.4M1508.8 404.8v0.4M1515.9 429.6v0.4M1522.9 432.9v0.4M1530 441.3v0.4M1537 458.6v0.4M1544 477.4v0.4M1551.1 502.2v0.4M1558.1 477.1v0.4M1565.2 497.9v0.4M1572.2 507.9v0.4M1579.2 490.3v0.4M1586.3 499.4v0.4M1593.3 522.4v0.4M1600.4 508.1v0.4M1607.4 511.3v0.4M1614.4 497.1v0.4M1621.5 532.5v0.4M1628.5 515v0.4M1635.6 512.5v0.4M1642.6 494.3v0.4M1649.6 524.7v0.4M1656.7 542v0.4M1663.7 528.9v0.4M1670.8 509.4v0.4M1677.8 503v0.4M1684.8 492.1v0.4M1691.9 508.3v0.4M1698.9 522.9v0.4M1706 502.8v0.4M1713 513.6v0.4M1720 516v0.4M1727.1 513.5v0.4M1734.1 498.5v0.4M1741.2 524.7v0.4M1748.2 526.3v0.4M1755.2 514.8v0.4M1762.3 514.9v0.4M1769.3 523.9v0.4" stroke="#f00" stroke-width="6.8" stroke-linecap="round" fill="none"/>
<path d="M972.4 832 1120.2 831.6 1186.4 830.8 1202.6 830 1215.3 828.7 1225.8 826.8 1235 824 1243.4 820.3 1251.9 815 1259.6 808.4 1267.4 800.2 1275.1 790 1283.6 777 1310.3 728.7 1320.2 713.1 1325.8 706.1 1331.4 700.9 1336.4 698.2 1341.3 697.3 1346.2 698.2 1351.1 700.9 1356.8 706.1 1362.4 713.1 1372.3 728.7 1399 777 1407.5 790 1415.2 800.2 1423 808.4 1430.7 815 1439.1 820.3 1447.6 824 1456.7 826.8 1467.3 828.7 1480 830 1496.2 830.8 1562.3 831.6 1710.2 832 L1710.2 832.3 L972.4 832.3Z" fill="#E4C0F8"/>
<path d="M914 832.1 1092.8 831.8 1178.7 831 1197 830.4 1210.3 829.4 1221.6 827.7 1231.5 825.2 1241.3 821.3 1250.5 816 1258.9 809.1 1266.7 801 1274.4 791 1282.9 778.1 1310.3 728.7 1320.2 713.1 1325.8 706.1 1331.4 700.9 1336.4 698.2 1341.3 697.3 1346.2 698.2 1351.1 700.9 1356.8 706.1 1362.4 713.1 1372.3 728.7 1399.7 778.1 1408.2 791 1415.9 801 1423.7 809.1 1432.1 816 1441.3 821.3 1451.1 825.2 1461 827.7 1472.2 829.4 1486.3 830.4 1504.6 831 1591.2 831.8 1770 832.1" fill="none" stroke="#8010D0" stroke-width="2.8" stroke-linejoin="round"/>
<path d="M914 832 1144.2 831.4 1261 829.9 1287.8 828.9 1306.1 827.4 1320.2 824.9 1331.4 821.2 1337.1 818.5 1342.7 815 1347.6 811.2 1352.6 806.6 1361.7 795.4 1370.9 780.4 1379.3 762.9 1388.5 740 1396.9 716 1415.9 658.4 1425.8 632.4 1431.4 620.7 1437 612 1442 607.5 1444.8 606.2 1446.9 605.9 1449 606.2 1451.8 607.5 1456.7 612 1462.4 620.7 1468 632.4 1477.9 658.4 1504.6 738.1 1512.4 758 1520.1 775 1527.1 787.8 1534.9 799.2 1542.6 808 1551.1 815 1560.2 820.3 1570.8 824.1 1582.8 826.7 1598.2 828.4 1620.1 829.5 1653.9 830.4 1770 831.5 L1770 832.3 L914 832.3Z" fill="#A8F0BE"/>
<path d="M914 832 1144.2 831.4 1261 829.9 1287.8 828.9 1306.1 827.4 1320.2 824.9 1331.4 821.2 1337.1 818.5 1342.7 815 1347.6 811.2 1352.6 806.6 1361.7 795.4 1370.9 780.4 1379.3 762.9 1388.5 740 1396.9 716 1415.9 658.4 1425.8 632.4 1431.4 620.7 1437 612 1442 607.5 1444.8 606.2 1446.9 605.9 1449 606.2 1451.8 607.5 1456.7 612 1462.4 620.7 1468 632.4 1477.9 658.4 1504.6 738.1 1512.4 758 1520.1 775 1527.1 787.8 1534.9 799.2 1542.6 808 1551.1 815 1560.2 820.3 1570.8 824.1 1582.8 826.7 1598.2 828.4 1620.1 829.5 1653.9 830.4 1770 831.5" fill="none" stroke="#20C020" stroke-width="2.8" stroke-linejoin="round"/>
<path d="M914 831.6 1023.8 830.9 1088.6 829.8 1122.3 827.8 1135 826.2 1146.3 824 1156.1 821.2 1165.3 817.8 1173.7 813.7 1182.2 808.6 1190.6 802.6 1199.8 795 1229.4 766.6 1239.9 757.6 1245.5 753.8 1251.2 751 1256.8 749.3 1261.7 748.8 1266.7 749.3 1272.3 751 1277.9 753.8 1283.6 757.6 1294.1 766.6 1324.4 795.6 1334.2 803.7 1344.1 810.4 1354 815.8 1364.5 820.3 1375.8 823.6 1387.8 826.1 1401.8 827.8 1418.7 829.1 1472.2 830.6 1580.6 831.5 1770 832 L1770 832.3 L914 832.3Z" fill="#B8D0F8"/>
<path d="M914 831.6 1023.8 830.9 1088.6 829.8 1122.3 827.8 1135 826.2 1146.3 824 1156.1 821.2 1165.3 817.8 1173.7 813.7 1182.2 808.6 1190.6 802.6 1199.8 795 1229.4 766.6 1239.9 757.6 1245.5 753.8 1251.2 751 1256.8 749.3 1261.7 748.8 1266.7 749.3 1272.3 751 1277.9 753.8 1283.6 757.6 1294.1 766.6 1324.4 795.6 1334.2 803.7 1344.1 810.4 1354 815.8 1364.5 820.3 1375.8 823.6 1387.8 826.1 1401.8 827.8 1418.7 829.1 1472.2 830.6 1580.6 831.5 1770 832" fill="none" stroke="#1050E8" stroke-width="3.2" stroke-linejoin="round"/>
<path d="M914 831.1 1019.6 830.2 1066 831.3 1095.6 830.4 1117.4 828.8 1135 826.5 1149.8 823.1 1161.1 818.8 1170.2 813.9 1179.4 807.6 1188.5 800.1 1198.4 790.7 1213.2 774.2 1243.4 735.4 1257.5 719 1273 703.1 1303.3 673.7 1312.4 665.6 1318.8 660.7 1324.4 657.1 1329.3 654.7 1337.1 651.8 1349 649 1370.9 647.2 1375.1 645.9 1380 643.3 1392 634.4 1400.4 626.5 1406.8 619.2 1420.8 600.8 1427.2 593.9 1432.8 589.8 1436.3 588.7 1439.8 588.4 1442.7 588.8 1446.2 590.2 1456.7 597.5 1461 602.3 1465.9 610.6 1473.6 627.2 1494.1 677.5 1515.9 739.5 1530 773.5 1535.6 784.8 1541.2 793.7 1549 802.9 1557.4 810.3 1563 814 1568.7 816.9 1583.5 822.2 1602.5 826.4 1625.7 829.5 1644 830.8 1667.2 831.3 1689.8 831.2 1710.2 830.4 1770 831" fill="none" stroke="#000" stroke-width="4.6" stroke-linejoin="round" stroke-linecap="butt"/>
<path d="M917.5 847.7v0.4M924.5 845.3v0.4M931.6 846.5v0.4M938.6 838.3v0.4M945.6 813.4v0.4M952.7 849.9v0.4M959.7 819.3v0.4M966.8 815.4v0.4M973.8 834.8v0.4M980.8 838.9v0.4M987.9 824.7v0.4M994.9 815.7v0.4M1002 804.3v0.4M1009 819.4v0.4M1016 810.9v0.4M1023.1 835.5v0.4M1030.1 840.8v0.4M1037.2 851.2v0.4M1044.2 844.6v0.4M1051.2 835.3v0.4M1058.3 828.7v0.4M1065.3 846.8v0.4M1072.4 821.2v0.4M1079.4 832.1v0.4M1086.4 838.3v0.4M1093.5 839.4v0.4M1100.5 805.6v0.4M1107.6 827.4v0.4M1114.6 839.7v0.4M1121.6 839.6v0.4M1128.7 805.2v0.4M1135.7 833.1v0.4M1142.8 810.4v0.4M1149.8 805.8v0.4M1156.8 848.3v0.4M1163.9 801v0.4M1170.9 815.7v0.4M1178 821.5v0.4M1185 809.5v0.4M1192 789.9v0.4M1199.1 785.3v0.4M1206.1 777.1v0.4M1213.2 782.7v0.4M1220.2 749.9v0.4M1227.2 738.1v0.4M1234.3 724.9v0.4M1241.3 725.9v0.4M1248.4 706.5v0.4M1255.4 696v0.4M1262.4 705.1v0.4M1269.5 695.8v0.4M1276.5 692.5v0.4M1283.6 686.1v0.4M1290.6 675.6v0.4M1297.6 699.5v0.4M1304.7 676.1v0.4M1311.7 660.1v0.4M1318.8 685.8v0.4M1325.8 673.5v0.4M1332.8 634.1v0.4M1339.9 663.4v0.4M1346.9 654.7v0.4M1354 643.8v0.4M1361 653.6v0.4M1368 657.7v0.4M1375.1 651.9v0.4M1382.1 646.9v0.4M1389.2 643.4v0.4M1396.2 628.3v0.4M1403.2 603.9v0.4M1410.3 610.1v0.4M1417.3 585.5v0.4M1424.4 587.6v0.4M1431.4 580.3v0.4M1438.4 581.2v0.4M1445.5 593.3v0.4M1452.5 589.3v0.4M1459.6 596.6v0.4M1466.6 625.1v0.4M1473.6 618.1v0.4M1480.7 637.6v0.4M1487.7 657.3v0.4M1494.8 685.9v0.4M1501.8 728.8v0.4M1508.8 702v0.4M1515.9 740.1v0.4M1522.9 783v0.4M1530 765.5v0.4M1537 795.5v0.4M1544 788.9v0.4M1551.1 806v0.4M1558.1 797v0.4M1565.2 812.2v0.4M1572.2 814.9v0.4M1579.2 818.9v0.4M1586.3 808v0.4M1593.3 840v0.4M1600.4 811.7v0.4M1607.4 818.7v0.4M1614.4 834.7v0.4M1621.5 828.9v0.4M1628.5 834.9v0.4M1635.6 829.4v0.4M1642.6 819.3v0.4M1649.6 838.9v0.4M1656.7 822v0.4M1663.7 819.8v0.4M1670.8 823.5v0.4M1677.8 812.4v0.4M1684.8 832v0.4M1691.9 822.7v0.4M1698.9 801v0.4M1706 830.1v0.4M1713 831.9v0.4M1720 830.3v0.4M1727.1 823.4v0.4M1734.1 837.9v0.4M1741.2 833.5v0.4M1748.2 851.7v0.4M1755.2 843.3v0.4M1762.3 843v0.4M1769.3 844.7v0.4" stroke="#f00" stroke-width="6.8" stroke-linecap="round" fill="none"/>
<path d="M914 1147.3 1073.1 1146.5 1115.3 1145.9 1140.6 1145 1159.7 1143.5 1174.4 1141.2 1187.1 1137.6 1198.4 1132.5 1208.9 1125.6 1218.8 1116.7 1227.9 1105.9 1237.1 1092.4 1247 1074.7 1256.8 1054.1 1266.7 1031 1289.2 975.4 1296.2 959.5 1301.9 948.2 1308.9 936.2 1315.9 927.5 1319.5 924.4 1322.3 922.6 1325.8 921.3 1328.6 921 1331.4 921.3 1335 922.6 1337.8 924.4 1341.3 927.5 1348.3 936.2 1355.4 948.2 1361 959.5 1368 975.4 1391.3 1032.7 1401.1 1055.6 1411 1076.1 1420.8 1093.5 1430 1106.8 1439.8 1118.1 1449.7 1126.7 1460.3 1133.3 1471.5 1138.1 1484.9 1141.6 1500.4 1143.8 1520.1 1145.2 1596.1 1146.6 1770 1147.3 L1770 1147.8 L914 1147.8Z" fill="#E4C0F8"/>
<path d="M914 1147.3 1073.1 1146.5 1115.3 1145.9 1140.6 1145 1159.7 1143.5 1174.4 1141.2 1187.1 1137.6 1198.4 1132.5 1208.9 1125.6 1218.8 1116.7 1227.9 1105.9 1237.1 1092.4 1247 1074.7 1256.8 1054.1 1266.7 1031 1289.2 975.4 1296.2 959.5 1301.9 948.2 1308.9 936.2 1315.9 927.5 1319.5 924.4 1322.3 922.6 1325.8 921.3 1328.6 921 1331.4 921.3 1335 922.6 1337.8 924.4 1341.3 927.5 1348.3 936.2 1355.4 948.2 1361 959.5 1368 975.4 1391.3 1032.7 1401.1 1055.6 1411 1076.1 1420.8 1093.5 1430 1106.8 1439.8 1118.1 1449.7 1126.7 1460.3 1133.3 1471.5 1138.1 1484.9 1141.6 1500.4 1143.8 1520.1 1145.2 1596.1 1146.6 1770 1147.3" fill="none" stroke="#8010D0" stroke-width="2.8" stroke-linejoin="round"/>
<path d="M1016 1147.5 1173 1147.2 1253.3 1146.5 1288.5 1145 1301.2 1143.6 1311.7 1141.8 1322.3 1139.1 1331.4 1135.8 1340.6 1131.4 1349.7 1125.9 1358.9 1119 1368 1111 1398.3 1080.2 1409.6 1070.1 1415.9 1065.6 1422.2 1062.3 1427.9 1060.5 1433.5 1059.9 1439.1 1060.5 1444.8 1062.3 1451.1 1065.6 1457.4 1070.1 1468.7 1080.2 1498.3 1110.4 1507.4 1118.5 1515.9 1124.9 1523.6 1129.8 1532.1 1134.3 1540.5 1137.7 1549.7 1140.5 1560.2 1142.8 1571.5 1144.3 1601.1 1146.2 1654.6 1146.9 1770 1147.4 L1770 1147.8 L1016 1147.8Z" fill="#A8F0BE"/>
<path d="M914 1147.6 1126.6 1147.3 1237.1 1146.7 1280 1145.6 1294.1 1144.5 1306.1 1142.9 1318.1 1140.3 1328.6 1136.9 1338.5 1132.5 1348.3 1126.8 1357.5 1120.2 1367.3 1111.7 1398.3 1080.2 1409.6 1070.1 1415.9 1065.6 1422.2 1062.3 1427.9 1060.5 1433.5 1059.9 1439.1 1060.5 1444.8 1062.3 1451.1 1065.6 1457.4 1070.1 1468.7 1080.2 1498.3 1110.4 1507.4 1118.5 1515.9 1124.9 1523.6 1129.8 1532.1 1134.3 1540.5 1137.7 1549.7 1140.5 1560.2 1142.8 1571.5 1144.3 1601.1 1146.2 1654.6 1146.9 1770 1147.4" fill="none" stroke="#20C020" stroke-width="2.8" stroke-linejoin="round"/>
<path d="M914 1147.1 1077.3 1146.3 1130.8 1145.2 1150.5 1144.1 1166 1142.3 1180.1 1139.4 1186.4 1136.6 1195.6 1129.8 1206.8 1118.5 1227.9 1094.7 1234.3 1086.4 1240.6 1077.1 1250.5 1060.1 1266 1029.4 1275.1 1008.9 1294.8 960.8 1310.3 928.5 1316.6 918.1 1322.3 911.4 1325.8 908.5 1328.6 906.8 1331.4 905.7 1334.2 905.4 1339.2 906.4 1344.8 909.5 1351.1 914.9 1357.5 922 1365.2 932.3 1382.8 958.1 1391.3 969.5 1430 1015.4 1442 1030.3 1476.5 1079.6 1492.6 1100.4 1500.4 1108.9 1508.1 1116 1515.9 1121.8 1525 1127.3 1539.1 1134.2 1553.9 1139.2 1571.5 1142.6 1594 1145.2 1613 1146.3 1634.9 1146.7 1679.9 1146.4 1770 1147" fill="none" stroke="#000" stroke-width="4.6" stroke-linejoin="round" stroke-linecap="butt"/>
<path d="M917.5 1145.7v0.4M923.8 1146.4v0.4M930.2 1147v0.4M936.5 1151.9v0.4M942.8 1145.9v0.4M949.2 1151.5v0.4M955.5 1144.8v0.4M961.8 1145.4v0.4M968.2 1144.9v0.4M974.5 1144.9v0.4M980.8 1146v0.4M987.2 1147.8v0.4M993.5 1147.3v0.4M999.8 1143.2v0.4M1006.2 1147.8v0.4M1012.5 1147v0.4M1018.9 1148v0.4M1025.2 1147.5v0.4M1031.5 1147v0.4M1037.9 1145.7v0.4M1044.2 1146.9v0.4M1050.5 1147v0.4M1056.9 1147.6v0.4M1063.2 1146v0.4M1069.5 1149.1v0.4M1075.9 1146v0.4M1082.2 1143.2v0.4M1088.6 1147.7v0.4M1094.9 1146v0.4M1101.2 1140.3v0.4M1107.6 1147.8v0.4M1113.9 1149.1v0.4M1120.2 1146.3v0.4M1126.6 1141.2v0.4M1132.9 1140.5v0.4M1139.2 1147.3v0.4M1145.6 1143v0.4M1151.9 1143.8v0.4M1158.2 1144.5v0.4M1164.6 1146.6v0.4M1170.9 1139v0.4M1177.3 1141.8v0.4M1183.6 1137.2v0.4M1189.9 1134v0.4M1196.3 1124.9v0.4M1202.6 1120.2v0.4M1208.9 1118.5v0.4M1215.3 1109.4v0.4M1221.6 1099.6v0.4M1227.9 1097.4v0.4M1234.3 1087.1v0.4M1240.6 1076.4v0.4M1247 1069.9v0.4M1253.3 1057.3v0.4M1259.6 1046v0.4M1266 1028.6v0.4M1272.3 1016.5v0.4M1278.6 998.1v0.4M1285 984v0.4M1291.3 967.5v0.4M1297.6 954.5v0.4M1304 939.2v0.4M1310.3 928.5v0.4M1316.6 920v0.4M1323 908v0.4M1329.3 904.1v0.4M1335.7 900.3v0.4M1342 907.8v0.4M1348.3 913.4v0.4M1354.7 921.6v0.4M1361 931.8v0.4M1367.3 938v0.4M1373.7 943.3v0.4M1380 955.8v0.4M1386.3 968.3v0.4M1392.7 969.8v0.4M1399 980.2v0.4M1405.4 987.2v0.4M1411.7 994.7v0.4M1418 1001.4v0.4M1424.4 1007.5v0.4M1430.7 1019.8v0.4M1437 1024.3v0.4M1443.4 1033.1v0.4M1449.7 1038.3v0.4M1456 1052.2v0.4M1462.4 1055.7v0.4M1468.7 1067.1v0.4M1475 1073.8v0.4M1481.4 1087.6v0.4M1487.7 1092.5v0.4M1494.1 1101.1v0.4M1500.4 1112v0.4M1506.7 1115.2v0.4M1513.1 1120.6v0.4M1519.4 1126v0.4M1525.7 1129.2v0.4M1532.1 1134v0.4M1538.4 1134.8v0.4M1544.7 1135.4v0.4M1551.1 1139.9v0.4M1557.4 1143.3v0.4M1563.8 1138.8v0.4M1570.1 1143v0.4M1576.4 1143.1v0.4M1582.8 1144.4v0.4M1589.1 1145.7v0.4M1595.4 1143.8v0.4M1601.8 1146.7v0.4M1608.1 1145.8v0.4M1614.4 1149.3v0.4M1620.8 1149.9v0.4M1627.1 1147.3v0.4M1633.4 1142.3v0.4M1639.8 1146.2v0.4M1646.1 1142.4v0.4M1652.5 1145.6v0.4M1658.8 1145.6v0.4M1665.1 1147.8v0.4M1671.5 1146.4v0.4M1677.8 1142.3v0.4M1684.1 1143.6v0.4M1690.5 1147.7v0.4M1696.8 1147.4v0.4M1703.1 1143.4v0.4M1709.5 1147.6v0.4M1715.8 1144.4v0.4M1722.2 1148.5v0.4M1728.5 1145.2v0.4M1734.8 1143.2v0.4M1741.2 1144.8v0.4M1747.5 1146.1v0.4M1753.8 1146.4v0.4M1760.2 1146.9v0.4M1766.5 1146.8v0.4" stroke="#f00" stroke-width="6.8" stroke-linecap="round" fill="none"/>
<line x1="122" y1="1794" x2="150" y2="1794" stroke="#f00" stroke-width="5.5"/>
<line x1="780" y1="1794" x2="827" y2="1794" stroke="#f00" stroke-width="5.5"/>
<path d="M607.5 1793.7 661.3 1793.2 678.6 1792.2 683.8 1790.9 687.8 1788.6 691.3 1785.1 694.5 1779.9 697.4 1772.8 700.3 1762.9 705.5 1735.9 711 1693.8 720.2 1604.4 723.7 1574.9 727.4 1552.4 729.5 1546 731.2 1544 732.1 1544.3 732.9 1545.4 735 1551.3 738.7 1572.7 742.2 1601.8 752.9 1703.8 756.6 1732.2 760.1 1752.4 764.1 1769.2 768.5 1780.4 771.1 1784.7 773.7 1787.6 776.6 1789.8 780 1791.3 L780 1794 L607.5 1794Z" fill="#C0C0FF"/>
<path d="M309.8 1793.7 339.6 1793.4 350.3 1792.4 354.3 1791.3 357.8 1789.4 360.7 1786.9 363.6 1783.1 366.2 1778.3 368.8 1771.8 373.7 1754.7 378 1734.1 386.7 1686.5 390.2 1670.8 393.4 1661.3 395.1 1658.7 396.5 1658 398 1658.7 399.7 1661.3 402.9 1670.8 406.4 1686.5 415 1734.1 419.4 1754.7 424.3 1771.8 426.9 1778.3 429.5 1783.1 432.4 1786.9 435.3 1789.4 438.7 1791.3 442.8 1792.4 453.5 1793.4 483.2 1793.7 L483.2 1794 L309.8 1794Z" fill="#FFD4C0"/>
<path d="M122 1794 331.2 1793.5 347.4 1792.9 351.7 1792.1 355.5 1790.7 359.8 1787.7 363.6 1783 367.1 1776.3 370.2 1767.5 373.1 1757 376.3 1742.9 389.3 1674.2 393.1 1661.9 394.8 1659 396.5 1658 398.3 1659 400 1661.9 403.8 1674.2 416.8 1742.9 419.9 1757 422.8 1767.5 426 1776.3 429.5 1783 433.2 1787.7 437.9 1790.8 444.5 1792.7 455.2 1793.4 555.2 1793.8 663 1793.2 676.6 1792.5 684.1 1790.7 687.3 1789 690.2 1786.5 692.8 1783 695.1 1778.6 699.4 1766.2 703.2 1749.4 706.6 1728.2 710.1 1701.3 720.5 1601.7 724 1572.7 727.7 1551.2 729.5 1546 731.2 1544 732.1 1544.3 732.9 1545.4 735 1551.2 738.7 1572.7 742.2 1601.7 752.9 1703.8 756.6 1732.2 760.1 1752.4 764.1 1769.2 768.5 1780.4 771.1 1784.7 773.7 1787.6 776.6 1789.8 780 1791.3" fill="none" stroke="#000" stroke-width="4.4" stroke-linejoin="round" stroke-linecap="butt"/>
<path d="M154.5 1852.2v1M155.9 1828.4v1M157.4 1815.9v1M158.8 1872.6v1M160.3 1809.8v1M161.7 1828.1v1M163.2 1808.9v1M164.6 1827.2v1M166.1 1795v1M167.5 1870.5v1M168.9 1772.6v1M170.4 1793.1v1M171.8 1857.9v1M173.3 1812.4v1M174.7 1820v1M176.2 1898.7v1M177.6 1814.3v1M179.1 1856.6v1M180.5 1844.4v1M182 1856.9v1M183.4 1850.5v1M184.8 1832.4v1M186.3 1831.3v1M187.7 1890.8v1M189.2 1844.2v1M190.6 1882.8v1M192.1 1880v1M193.5 1846.6v1M195 1803.2v1M196.4 1811.1v1M197.8 1855.4v1M199.3 1859.1v1M200.7 1863.1v1M202.2 1828.1v1M203.6 1799.4v1M205.1 1832.3v1M206.5 1807.8v1M208 1821.3v1M209.4 1778.3v1M210.9 1904.6v1M212.3 1908.9v1M213.7 1839.2v1M215.2 1809v1M216.6 1846.5v1M218.1 1816.3v1M219.5 1873.7v1M221 1876.7v1M222.4 1857v1M223.9 1800.7v1M225.3 1805.8v1M226.7 1856.4v1M228.2 1824.1v1M229.6 1853.8v1M231.1 1829.6v1M232.5 1870.3v1M234 1831.7v1M235.4 1856.4v1M236.9 1831.3v1M238.3 1853v1M239.8 1859v1M241.2 1825.2v1M242.6 1841.3v1M244.1 1828.2v1M245.5 1843.9v1M247 1806.6v1M248.4 1857.9v1M249.9 1800.7v1M251.3 1780.3v1M252.8 1837.8v1M254.2 1765.1v1M255.6 1754.8v1M257.1 1811.7v1M258.5 1876.4v1M260 1885.5v1M261.4 1833.6v1M262.9 1763.2v1M264.3 1806.3v1M265.8 1799.5v1M267.2 1835.7v1M268.7 1853.3v1M270.1 1813v1M271.5 1866.1v1M273 1833.1v1M274.4 1807.5v1M275.9 1824.5v1M277.3 1806.7v1M278.8 1841.5v1M280.2 1803.8v1M281.7 1810.6v1M283.1 1884.4v1M284.5 1862.4v1M286 1850.8v1M287.4 1801v1M288.9 1813.6v1M290.3 1814.1v1M291.8 1817.9v1M293.2 1801.1v1M294.7 1789.8v1M296.1 1843.6v1M297.6 1880.8v1M299 1799.4v1M300.4 1830.7v1M301.9 1821v1M303.3 1828.7v1M304.8 1862.1v1M306.2 1876.1v1M307.7 1786.6v1M309.1 1781.6v1M310.6 1787.1v1M312 1812.7v1M313.4 1810.2v1M314.9 1834.6v1M316.3 1816.7v1M317.8 1833.2v1M319.2 1837.9v1M320.7 1810.6v1M322.1 1756.5v1M323.6 1885v1M325 1795.2v1M326.5 1792.2v1M327.9 1859.8v1M329.3 1804.5v1M330.8 1811.7v1M332.2 1831.6v1M333.7 1832.4v1M335.1 1864.6v1M336.6 1752.6v1M338 1729.3v1M339.5 1756.2v1M340.9 1822.9v1M342.3 1802v1M343.8 1798.3v1M345.2 1840.1v1M346.7 1819.9v1M348.1 1791.4v1M349.6 1824.5v1M351 1870.8v1M352.5 1852.6v1M353.9 1798.6v1M355.4 1818.1v1M356.8 1815.6v1M358.2 1757.7v1M359.7 1799.5v1M361.1 1824.7v1M362.6 1800.6v1M364 1724.6v1M365.5 1829.7v1M366.9 1731.6v1M368.4 1739.4v1M369.8 1785.9v1M371.2 1786.2v1M372.7 1726.5v1M374.1 1756.4v1M375.6 1772.8v1M377 1695.9v1M378.5 1736.6v1M379.9 1724v1M381.4 1723.9v1M382.8 1724.7v1M384.3 1704.4v1M385.7 1709.5v1M387.1 1677.9v1M388.6 1656.1v1M390 1649v1M391.5 1640.9v1M392.9 1628.7v1M394.4 1644.7v1M395.8 1678.4v1M397.3 1637.2v1M398.7 1706.2v1M400.1 1684.1v1M401.6 1661.3v1M403 1718.3v1M404.5 1639.7v1M405.9 1713.2v1M407.4 1733.8v1M408.8 1721.2v1M410.3 1729.3v1M411.7 1716.2v1M413.2 1727.6v1M414.6 1700.1v1M416 1742.4v1M417.5 1738.7v1M418.9 1780.5v1M420.4 1740.1v1M421.8 1784.9v1M423.3 1827v1M424.7 1726.3v1M426.2 1806.1v1M427.6 1810.2v1M429 1805.6v1M430.5 1756.3v1M431.9 1831.2v1M433.4 1794.1v1M434.8 1761.5v1M436.3 1716.2v1M437.7 1792.2v1M439.2 1780.3v1M440.6 1812.8v1M442.1 1712.4v1M443.5 1787v1M444.9 1784.1v1M446.4 1776.3v1M447.8 1813.9v1M449.3 1781.2v1M450.7 1825.8v1M452.2 1727.5v1M453.6 1786.2v1M455.1 1786.8v1M456.5 1739v1M457.9 1824.6v1M459.4 1730.6v1M460.8 1726.3v1M462.3 1808.7v1M463.7 1756.2v1M465.2 1784.6v1M466.6 1749.3v1M468.1 1779.6v1M469.5 1813.5v1M471 1758.5v1M472.4 1789v1M473.8 1774.7v1M475.3 1746v1M476.7 1737.4v1M478.2 1758.5v1M479.6 1832.3v1M481.1 1756.2v1M482.5 1792v1M484 1742.6v1M485.4 1788.2v1M486.8 1729.9v1M488.3 1762.7v1M489.7 1781.2v1M491.2 1770.7v1M492.6 1844.7v1M494.1 1760.6v1M495.5 1777.1v1M497 1820.7v1M498.4 1766.6v1M499.9 1769.8v1M501.3 1768.4v1M502.7 1785.4v1M504.2 1752.9v1M505.6 1752.4v1M507.1 1777.9v1M508.5 1783.5v1M510 1797.6v1M511.4 1802.7v1M512.9 1759.3v1M514.3 1800.9v1M515.7 1832.1v1M517.2 1772.4v1M518.6 1741.4v1M520.1 1791.1v1M521.5 1750v1M523 1764v1M524.4 1817.6v1M525.9 1769.7v1M527.3 1785.2v1M528.8 1756.7v1M530.2 1871.3v1M531.6 1751.4v1M533.1 1754.6v1M534.5 1814.6v1M536 1742.8v1M537.4 1786.7v1M538.9 1774.7v1M540.3 1750.1v1M541.8 1732.8v1M543.2 1775.1v1M544.6 1756.5v1M546.1 1765.2v1M547.5 1807.4v1M549 1722.1v1M550.4 1753.2v1M551.9 1775.7v1M553.3 1742.3v1M554.8 1761.4v1M556.2 1800.8v1M557.7 1744.7v1M559.1 1778.5v1M560.5 1758.4v1M562 1746.3v1M563.4 1746.5v1M564.9 1712.9v1M566.3 1773.4v1M567.8 1786.6v1M569.2 1806.6v1M570.7 1803v1M572.1 1756.3v1M573.5 1765v1M575 1811.3v1M576.4 1802.2v1M577.9 1796v1M579.3 1724.1v1M580.8 1813.6v1M582.2 1767v1M583.7 1838.5v1M585.1 1788.1v1M586.6 1730v1M588 1824.8v1M589.4 1738.4v1M590.9 1847.7v1M592.3 1777.8v1M593.8 1819.5v1M595.2 1780.6v1M596.7 1788.5v1M598.1 1750.6v1M599.6 1770.1v1M601 1773.2v1M602.4 1798v1M603.9 1761.5v1M605.3 1805.5v1M606.8 1799.1v1M608.2 1797.7v1M609.7 1754v1M611.1 1692.2v1M612.6 1775.1v1M614 1702.9v1M615.5 1807.7v1M616.9 1791.8v1M618.3 1750.8v1M619.8 1746.7v1M621.2 1740.4v1M622.7 1710.2v1M624.1 1773.5v1M625.6 1726.3v1M627 1755.5v1M628.5 1855.2v1M629.9 1798.5v1M631.3 1780.8v1M632.8 1757.1v1M634.2 1741.2v1M635.7 1769.3v1M637.1 1711.4v1M638.6 1792.7v1M640 1757.8v1M641.5 1723v1M642.9 1795.7v1M644.4 1709.3v1M645.8 1719.4v1M647.2 1758.6v1M648.7 1751.8v1M650.1 1754.3v1M651.6 1749.8v1M653 1705.2v1M654.5 1730.8v1M655.9 1798.2v1M657.4 1803.6v1M658.8 1726v1M660.2 1838.6v1M661.7 1803v1M663.1 1767.9v1M664.6 1746.2v1M666 1696.3v1M667.5 1737.9v1M668.9 1655.2v1M670.4 1735.3v1M671.8 1711.7v1M673.3 1705.4v1M674.7 1744.9v1M676.1 1706.4v1M677.6 1718.4v1M679 1730.4v1M680.5 1760.4v1M681.9 1752.2v1M683.4 1707.9v1M684.8 1736.1v1M686.3 1719.4v1M687.7 1717.9v1M689.1 1720.5v1M690.6 1727.6v1M692 1705.5v1M693.5 1694.4v1M694.9 1672.9v1M696.4 1698.6v1M697.8 1729.5v1M699.3 1727.7v1M700.7 1680.1v1M702.2 1746.5v1M703.6 1709.3v1M705 1654.5v1M706.5 1690.9v1M707.9 1693.1v1M709.4 1627.4v1M710.8 1730.9v1M712.3 1647.3v1M713.7 1647.5v1M715.2 1636.9v1M716.6 1586v1M718 1558.4v1M719.5 1557.8v1M720.9 1560.3v1M722.4 1557v1M723.8 1561.9v1M725.3 1546.6v1M726.7 1582.2v1M728.2 1548.4v1M729.6 1516.5v1M731.1 1534.6v1M732.5 1512v1M733.9 1578v1M735.4 1558.7v1M736.8 1578.9v1M738.3 1535v1M739.7 1581.9v1M741.2 1596.1v1M742.6 1635.9v1M744.1 1631.4v1M745.5 1661.1v1M746.9 1664v1M748.4 1599.7v1M749.8 1710.9v1M751.3 1698.7v1M752.7 1731.2v1M754.2 1676.6v1M755.6 1758.1v1M757.1 1765.7v1M758.5 1736.2v1M760 1702.9v1M761.4 1756.2v1M762.8 1789v1M764.3 1860.2v1M765.7 1865.9v1M767.2 1788v1M768.6 1788v1M770.1 1751.5v1M771.5 1778.9v1M773 1806.7v1M774.4 1755.3v1M775.8 1741.5v1M777.3 1826.8v1M778.7 1772.7v1" stroke="#f00" stroke-width="5.4" stroke-linecap="round" fill="none"/>
<line x1="791" y1="2117.5" x2="823" y2="2117.5" stroke="#f00" stroke-width="5.5"/>
<line x1="122" y1="2117.5" x2="780" y2="2117.5" stroke="#E06020" stroke-width="2.4"/>
<path d="M603.8 2117.2 656.9 2116.8 674.6 2115.8 679.8 2114.4 683.8 2112.2 687.3 2108.8 690.5 2103.7 693.3 2096.7 696.2 2086.9 701.4 2060.4 706.9 2018.6 716.5 1926.6 719.9 1897.3 723.7 1875.3 725.7 1869.2 726.6 1867.9 727.4 1867.5 728.3 1867.9 729.2 1869.2 730.9 1874.2 734.7 1895.2 738.1 1923.9 749.1 2028.5 753.2 2058.5 756.9 2079.4 761.3 2095.9 763.6 2101.8 766.2 2106.7 768.8 2110.1 771.9 2112.8 775.4 2114.5 780 2115.7 L780 2117.5 L603.8 2117.5Z" fill="#C0C0FF"/>
<path d="M308.4 2117.2 337.9 2116.9 348.6 2116 352.6 2114.8 356.1 2113 359.3 2110.2 361.9 2106.8 364.7 2101.5 367.3 2095 372.3 2077.7 376.6 2057.1 385.3 2009.6 388.7 1994.2 391.9 1985 393.6 1982.6 395.1 1982 396.5 1982.8 398 1985 401.2 1994.2 404.6 2009.6 413.3 2057.1 417.6 2077.7 422.5 2095 425.1 2101.5 428 2106.8 430.6 2110.2 433.8 2113 437.3 2114.8 441.3 2116 452 2116.9 481.5 2117.2 L481.5 2117.5 L308.4 2117.5Z" fill="#FFD4C0"/>
<path d="M122 2117.5 330.1 2117 346 2116.3 350.3 2115.6 354.1 2114.2 358.4 2111.1 362.1 2106.4 365.6 2099.5 368.8 2090.6 371.7 2080.1 374.9 2065.8 384.4 2014.1 387.9 1997.6 391.3 1986.2 393.1 1983.1 394.8 1982 396.5 1982.8 398.3 1985.6 402 1997.6 405.5 2014.1 415 2065.8 418.2 2080.1 421.1 2090.6 424.3 2099.5 427.7 2106.3 431.5 2111.1 436.1 2114.3 442.8 2116.2 453.5 2116.9 552.6 2117.3 659.5 2116.7 672.8 2116 680.3 2114.2 683.5 2112.4 686.4 2109.8 688.7 2106.7 691 2102.4 695.4 2090.2 699.1 2073.7 702.6 2052.7 706.1 2026 716.5 1926.6 720.2 1895.2 724 1874.2 725.7 1869.2 726.6 1867.9 727.4 1867.5 728.3 1867.9 729.2 1869.2 730.9 1874.2 734.7 1895.2 738.1 1923.9 749.1 2028.5 753.2 2058.5 756.9 2079.4 761.3 2095.9 763.6 2101.8 766.2 2106.7 768.8 2110.1 771.9 2112.8 775.4 2114.5 780 2115.7" fill="none" stroke="#000" stroke-width="4.4" stroke-linejoin="round" stroke-linecap="butt"/>
<path d="M122.7 2088.1v1M124.2 2091.9v1M125.6 2110.6v1M127 2094.3v1M128.5 2125.6v1M129.9 2153.9v1M131.4 2069.7v1M132.8 2098.5v1M134.3 2159.6v1M135.7 2135.4v1M137.2 2124.8v1M138.6 2101.8v1M140 2078.1v1M141.5 2102.6v1M142.9 2120.3v1M144.4 2098.7v1M145.8 2115.3v1M147.3 2105.6v1M148.7 2125.9v1M150.2 2138.9v1M151.6 2079.2v1M153.1 2117.6v1M154.5 2107.1v1M155.9 2124.4v1M157.4 2123v1M158.8 2118.4v1M160.3 2094.2v1M161.7 2080.7v1M163.2 2096.9v1M164.6 2123.2v1M166.1 2050v1M167.5 2089.8v1M168.9 2087.3v1M170.4 2123.1v1M171.8 2115.8v1M173.3 2095.3v1M174.7 2151.7v1M176.2 2128.5v1M177.6 2100.4v1M179.1 2051.8v1M180.5 2099.8v1M182 2134.8v1M183.4 2139.2v1M184.8 2086.4v1M186.3 2129.4v1M187.7 2118.2v1M189.2 2062.8v1M190.6 2108.5v1M192.1 2118.5v1M193.5 2128.7v1M195 2078.2v1M196.4 2078.3v1M197.8 2126.1v1M199.3 2143.9v1M200.7 2112.8v1M202.2 2076.9v1M203.6 2099v1M205.1 2139.1v1M206.5 2101.9v1M208 2091.5v1M209.4 2110.7v1M210.9 2106v1M212.3 2109.9v1M213.7 2122v1M215.2 2125.8v1M216.6 2142.8v1M218.1 2138.7v1M219.5 2151.6v1M221 2099.4v1M222.4 2098.5v1M223.9 2108.7v1M225.3 2099.7v1M226.7 2108.9v1M228.2 2128.6v1M229.6 2105.9v1M231.1 2118.3v1M232.5 2115.5v1M234 2160.7v1M235.4 2123.5v1M236.9 2100.7v1M238.3 2119.2v1M239.8 2131.3v1M241.2 2150v1M242.6 2127.2v1M244.1 2077v1M245.5 2125.9v1M247 2085.7v1M248.4 2122.4v1M249.9 2085.5v1M251.3 2123.7v1M252.8 2101.6v1M254.2 2095.2v1M255.6 2095.9v1M257.1 2133.2v1M258.5 2118.7v1M260 2131.3v1M261.4 2113.5v1M262.9 2118.1v1M264.3 2116.3v1M265.8 2095.5v1M267.2 2135.3v1M268.7 2129.3v1M270.1 2124.2v1M271.5 2115.9v1M273 2129.4v1M274.4 2097.8v1M275.9 2136.1v1M277.3 2067.5v1M278.8 2108.7v1M280.2 2081.6v1M281.7 2135.8v1M283.1 2117.3v1M284.5 2106.5v1M286 2067.1v1M287.4 2106.8v1M288.9 2073.5v1M290.3 2126.1v1M291.8 2073v1M293.2 2125.3v1M294.7 2151.7v1M296.1 2156.4v1M297.6 2104.2v1M299 2114.3v1M300.4 2103.2v1M301.9 2110.9v1M303.3 2097.4v1M304.8 2070v1M306.2 2113.9v1M307.7 2102.3v1M309.1 2118.3v1M310.6 2150.5v1M312 2115.6v1M313.4 2072.8v1M314.9 2128.3v1M316.3 2053.4v1M317.8 2095v1M319.2 2097.4v1M320.7 2085.8v1M322.1 2107.8v1M323.6 2107.1v1M325 2076v1M326.5 2125.3v1M327.9 2111.4v1M329.3 2136.3v1M330.8 2105.2v1M332.2 2049.7v1M333.7 2079.3v1M335.1 2130.1v1M336.6 2149.9v1M338 2094.2v1M339.5 2090.8v1M340.9 2122v1M342.3 2075.6v1M343.8 2097.2v1M345.2 2090v1M346.7 2088.7v1M348.1 2080.5v1M349.6 2116.4v1M351 2121.9v1M352.5 2073.6v1M353.9 2107.9v1M355.4 2131.7v1M356.8 2094.5v1M358.2 2112.1v1M359.7 2092.8v1M361.1 2045.1v1M362.6 2056.7v1M364 2102.8v1M365.5 2116.2v1M366.9 2086.6v1M368.4 2102.1v1M369.8 2072.6v1M371.2 2066.2v1M372.7 2053.1v1M374.1 2059.6v1M375.6 2079v1M377 2047.8v1M378.5 2036.1v1M379.9 2025.2v1M381.4 1999.9v1M382.8 2031.3v1M384.3 2008.1v1M385.7 2008.2v1M387.1 2005.5v1M388.6 1975.2v1M390 1990.9v1M391.5 1945.7v1M392.9 2014.7v1M394.4 1949.2v1M395.8 1977.2v1M397.3 1994.7v1M398.7 1975.1v1M400.1 1980v1M401.6 1971.3v1M403 1972.7v1M404.5 2013v1M405.9 2007.7v1M407.4 2009.8v1M408.8 2020.3v1M410.3 2037.9v1M411.7 2015.3v1M413.2 2042.1v1M414.6 2079.9v1M416 2056.6v1M417.5 2073.2v1M418.9 2079.9v1M420.4 2062.6v1M421.8 2070.9v1M423.3 2082.2v1M424.7 2082.8v1M426.2 2076.1v1M427.6 2110.6v1M429 2097.3v1M430.5 2073.3v1M431.9 2116v1M433.4 2114.4v1M434.8 2119.1v1M436.3 2081.8v1M437.7 2117.5v1M439.2 2082.1v1M440.6 2117v1M442.1 2103.1v1M443.5 2100.6v1M444.9 2120.6v1M446.4 2132v1M447.8 2085.7v1M449.3 2118v1M450.7 2096.5v1M452.2 2093.1v1M453.6 2143.3v1M455.1 2079.5v1M456.5 2105.8v1M457.9 2116.3v1M459.4 2118v1M460.8 2120.6v1M462.3 2103v1M463.7 2059.1v1M465.2 2111.4v1M466.6 2135.6v1M468.1 2115.1v1M469.5 2058.7v1M471 2106.9v1M472.4 2062.1v1M473.8 2127.1v1M475.3 2127.4v1M476.7 2136.4v1M478.2 2131.7v1M479.6 2110.6v1M481.1 2106.3v1M482.5 2151.6v1M484 2134.3v1M485.4 2128.8v1M486.8 2119.2v1M488.3 2077.3v1M489.7 2073.9v1M491.2 2100.1v1M492.6 2092.3v1M494.1 2130.7v1M495.5 2103.1v1M497 2153.5v1M498.4 2113.2v1M499.9 2104.8v1M501.3 2091.9v1M502.7 2115.2v1M504.2 2115.2v1M505.6 2136.7v1M507.1 2167v1M508.5 2128.6v1M510 2159.4v1M511.4 2123v1M512.9 2121.1v1M514.3 2147.2v1M515.7 2157.7v1M517.2 2118.2v1M518.6 2128.1v1M520.1 2103.5v1M521.5 2092.6v1M523 2074.9v1M524.4 2090.3v1M525.9 2135.6v1M527.3 2115.1v1M528.8 2062.9v1M530.2 2134.2v1M531.6 2121.9v1M533.1 2081.4v1M534.5 2098.7v1M536 2127.9v1M537.4 2104.6v1M538.9 2127.3v1M540.3 2091.2v1M541.8 2115.6v1M543.2 2111.5v1M544.6 2107.7v1M546.1 2160.2v1M547.5 2116.2v1M549 2102.5v1M550.4 2110.4v1M551.9 2124.8v1M553.3 2113.8v1M554.8 2076.5v1M556.2 2095.4v1M557.7 2126.8v1M559.1 2085.7v1M560.5 2104.3v1M562 2123.2v1M563.4 2154.1v1M564.9 2097.4v1M566.3 2138.1v1M567.8 2102.9v1M569.2 2084.5v1M570.7 2094.4v1M572.1 2140v1M573.5 2133.1v1M575 2094.9v1M576.4 2084.6v1M577.9 2110.4v1M579.3 2114.2v1M580.8 2066.5v1M582.2 2070.2v1M583.7 2103.8v1M585.1 2118.7v1M586.6 2094.1v1M588 2139.3v1M589.4 2104.6v1M590.9 2103.6v1M592.3 2079.9v1M593.8 2096.1v1M595.2 2153v1M596.7 2064.5v1M598.1 2095.2v1M599.6 2157.4v1M601 2146.3v1M602.4 2091.9v1M603.9 2139.9v1M605.3 2088.3v1M606.8 2133v1M608.2 2145.6v1M609.7 2068.5v1M611.1 2064.6v1M612.6 2112.8v1M614 2066.2v1M615.5 2096.3v1M616.9 2092.1v1M618.3 2108.3v1M619.8 2087v1M621.2 2066.9v1M622.7 2065.8v1M624.1 2050.5v1M625.6 2055.9v1M627 2083.4v1M628.5 2110.7v1M629.9 2077.2v1M631.3 2081.5v1M632.8 2106.7v1M634.2 2124v1M635.7 2115.6v1M637.1 2132.8v1M638.6 2116.6v1M640 2090.1v1M641.5 2063.9v1M642.9 2091v1M644.4 2106.3v1M645.8 2104.2v1M647.2 2096.6v1M648.7 2062.5v1M650.1 2089.1v1M651.6 2135v1M653 2092v1M654.5 2133.9v1M655.9 2109.1v1M657.4 2089.6v1M658.8 2113.2v1M660.2 2095v1M661.7 2063.1v1M663.1 2111.3v1M664.6 2066v1M666 2070v1M667.5 2074.5v1M668.9 2111.3v1M670.4 2064.3v1M671.8 2080.7v1M673.3 2072.1v1M674.7 2088.2v1M676.1 2058.5v1M677.6 2119.6v1M679 2077.9v1M680.5 2068.1v1M681.9 2030.4v1M683.4 2120.6v1M684.8 2110.6v1M686.3 2086.9v1M687.7 2073.9v1M689.1 2095.8v1M690.6 2059.1v1M692 2077v1M693.5 2065.8v1M694.9 2092.3v1M696.4 2049.5v1M697.8 2049.7v1M699.3 2014.4v1M700.7 2021.2v1M702.2 2000.1v1M703.6 2013.9v1M705 2024.4v1M706.5 1986.9v1M707.9 2015.2v1M709.4 2000.3v1M710.8 1974.1v1M712.3 1936.8v1M713.7 1920.1v1M715.2 1951.8v1M716.6 1917.2v1M718 1882.5v1M719.5 1896.3v1M720.9 1904.4v1M722.4 1871.7v1M723.8 1847v1M725.3 1870.8v1M726.7 1868.4v1M728.2 1832.2v1M729.6 1853.8v1M731.1 1884.6v1M732.5 1864v1M733.9 1867.4v1M735.4 1900.4v1M736.8 1905.1v1M738.3 1908.5v1M739.7 1930.6v1M741.2 1925.7v1M742.6 1943.3v1M744.1 1964.1v1M745.5 1967.4v1M746.9 2012.6v1M748.4 2034.3v1M749.8 2056.9v1M751.3 2053.7v1M752.7 2074.5v1M754.2 2066.8v1M755.6 2050.6v1M757.1 2046.3v1M758.5 2068.4v1M760 2075.2v1M761.4 2085.7v1M762.8 2084.4v1M764.3 2109.9v1M765.7 2115.5v1M767.2 2130.7v1M768.6 2112.6v1M770.1 2099.3v1M771.5 2111.5v1M773 2104.7v1M774.4 2065.8v1M775.8 2100v1M777.3 2097v1M778.7 2110.6v1M780.2 2098.5v1M781.6 2135.7v1M783.1 2098.4v1M784.5 2095.4v1M786 2090.4v1M787.4 2147.6v1M788.9 2117.9v1M790.3 2081.3v1M791.7 2095.3v1M793.2 2146.3v1M794.6 2133.7v1M796.1 2140.9v1M797.5 2104.6v1" stroke="#f00" stroke-width="5.4" stroke-linecap="round" fill="none"/>
<path d="M598.7 2437.1 652.4 2436.6 669.8 2435.6 675 2434.3 679 2432.1 682.5 2428.7 685.7 2423.6 688.6 2416.8 691.5 2407.2 694.4 2394.3 697 2379.4 702.4 2337.8 711.7 2249.8 715.4 2218.5 719.2 2197.1 721.2 2191.1 723 2189.4 724.4 2190.5 726.1 2194.9 729.6 2212.5 733.4 2242 742.3 2327.5 746.7 2363.5 751.6 2394.3 754.2 2406.1 756.8 2415.1 759.7 2422.5 762.6 2427.5 766 2431.4 770.1 2434 774.4 2435.3 780.2 2436.1 804.7 2436.8 L804.7 2437.4 L598.7 2437.4Z" fill="#C0C0FF"/>
<path d="M303.9 2437.1 331.9 2436.8 342.6 2435.9 347 2434.7 350.4 2432.9 353.6 2430.3 356.5 2426.9 359.4 2422.1 362 2416.4 367.2 2400.5 371.5 2382.9 380.5 2341.4 384.3 2327 387.7 2318.3 389.5 2316.1 391.2 2315.4 392.6 2316.1 394.4 2318.3 397.8 2327 401.6 2341.4 410.6 2382.9 414.9 2400.5 420.1 2416.4 422.7 2422.1 425.6 2426.9 428.5 2430.3 431.7 2432.9 435.1 2434.7 439.5 2435.9 450.1 2436.8 478.2 2437.1 L478.2 2437.4 L303.9 2437.4Z" fill="#FFD4C0"/>
<path d="M121.3 2437.4 324.1 2437 339.7 2436.3 344.4 2435.4 348.1 2434.1 352.8 2431.1 356.5 2426.9 360 2420.9 363.4 2412.6 366.6 2402.6 369.8 2390.4 379.9 2343.8 383.4 2329.9 387.1 2319.3 389.2 2316.3 390.9 2315.4 392.6 2316 394.7 2318.8 398.7 2329.9 402.2 2343.8 412.3 2390.4 415.8 2403.6 418.9 2413.3 422.4 2421.5 425.9 2427.2 429.9 2431.6 434.5 2434.4 441.5 2436.1 452.7 2436.8 555.9 2437.2 655.3 2436.6 668.1 2435.9 675.3 2434.2 678.5 2432.5 681.3 2430 683.9 2426.7 686.3 2422.5 690.6 2410.4 694.4 2394.2 697.8 2373.7 701.6 2345.2 712 2247.2 715.4 2218.5 719.2 2197 721.2 2191 723 2189.4 724.4 2190.5 726.1 2194.9 729.6 2212.5 733.4 2242 742.3 2327.5 746.7 2363.5 751.6 2394.2 754.2 2406.1 756.8 2415.1 759.7 2422.5 762.6 2427.5 766 2431.4 770.1 2433.9 774.4 2435.3 780.2 2436.1 804.7 2436.8" fill="none" stroke="#000" stroke-width="4.4" stroke-linejoin="round" stroke-linecap="butt"/>
<path d="M121.3 2436.3v0.8M122.1 2437.9v0.8M123 2436v0.8M123.9 2436.9v0.8M124.7 2439.5v0.8M125.6 2435.4v0.8M126.5 2437.1v0.8M127.3 2436v0.8M128.2 2434v0.8M129.1 2436.5v0.8M129.9 2438.7v0.8M130.8 2438v0.8M131.7 2435.3v0.8M132.5 2439.3v0.8M133.4 2436.5v0.8M134.3 2436.4v0.8M135.1 2438.8v0.8M136 2436.7v0.8M136.9 2436.1v0.8M137.7 2438.2v0.8M138.6 2437.7v0.8M139.5 2436.1v0.8M140.3 2439v0.8M141.2 2438.4v0.8M142.1 2435.4v0.8M142.9 2436.8v0.8M143.8 2439.2v0.8M144.7 2436.9v0.8M145.5 2433.8v0.8M146.4 2439.4v0.8M147.3 2435.6v0.8M148.1 2435.7v0.8M149 2437.2v0.8M149.9 2436v0.8M150.7 2438v0.8M151.6 2434.5v0.8M152.5 2434.2v0.8M153.3 2438.4v0.8M154.2 2437.3v0.8M155.1 2436.7v0.8M155.9 2438v0.8M156.8 2436.4v0.8M157.7 2438.6v0.8M158.5 2436v0.8M159.4 2437.4v0.8M160.3 2437v0.8M161.1 2436.2v0.8M162 2435.5v0.8M162.9 2438.5v0.8M163.7 2435.7v0.8M164.6 2435.5v0.8M165.5 2437.1v0.8M166.3 2434.5v0.8M167.2 2438.2v0.8M168.1 2437.8v0.8M168.9 2436.3v0.8M169.8 2438v0.8M170.7 2434.7v0.8M171.6 2436.6v0.8M172.4 2434.2v0.8M173.3 2438.6v0.8M174.2 2438.5v0.8M175 2434.8v0.8M175.9 2438.6v0.8M176.8 2435.2v0.8M177.6 2438.2v0.8M178.5 2436.5v0.8M179.4 2435.1v0.8M180.2 2437v0.8M181.1 2438.8v0.8M182 2437.7v0.8M182.8 2435.1v0.8M183.7 2436.6v0.8M184.6 2435.8v0.8M185.4 2436.8v0.8M186.3 2436.5v0.8M187.2 2437.2v0.8M188 2438.6v0.8M188.9 2436.1v0.8M189.8 2436.6v0.8M190.6 2440.1v0.8M191.5 2436.9v0.8M192.4 2435.4v0.8M193.2 2433.8v0.8M194.1 2439.1v0.8M195 2436.7v0.8M195.8 2436v0.8M196.7 2435.7v0.8M197.6 2438v0.8M198.4 2436.1v0.8M199.3 2437.6v0.8M200.2 2437v0.8M201 2437.8v0.8M201.9 2436.4v0.8M202.8 2437.5v0.8M203.6 2436.4v0.8M204.5 2437.1v0.8M205.4 2435.5v0.8M206.2 2434.2v0.8M207.1 2437v0.8M208 2438.1v0.8M208.8 2437.3v0.8M209.7 2437.8v0.8M210.6 2439.6v0.8M211.4 2436.9v0.8M212.3 2437.7v0.8M213.2 2435.5v0.8M214 2437.1v0.8M214.9 2435.4v0.8M215.8 2435.7v0.8M216.6 2437.7v0.8M217.5 2437.4v0.8M218.4 2437.8v0.8M219.2 2437.6v0.8M220.1 2435.6v0.8M221 2437.7v0.8M221.8 2437.6v0.8M222.7 2438.2v0.8M223.6 2434.7v0.8M224.4 2437.5v0.8M225.3 2437.2v0.8M226.2 2438.3v0.8M227 2436.6v0.8M227.9 2438.2v0.8M228.8 2438v0.8M229.6 2440.2v0.8M230.5 2439.6v0.8M231.4 2436.6v0.8M232.2 2435.7v0.8M233.1 2439.6v0.8M234 2436.7v0.8M234.8 2436.6v0.8M235.7 2432.9v0.8M236.6 2438.5v0.8M237.4 2438v0.8M238.3 2438.6v0.8M239.2 2435.6v0.8M240 2435.3v0.8M240.9 2437.4v0.8M241.8 2434.5v0.8M242.6 2433.6v0.8M243.5 2437.7v0.8M244.4 2436v0.8M245.2 2437.2v0.8M246.1 2437.9v0.8M247 2437.7v0.8M247.8 2437.3v0.8M248.7 2439v0.8M249.6 2437v0.8M250.4 2435.6v0.8M251.3 2438.4v0.8M252.2 2437.7v0.8M253 2438.4v0.8M253.9 2436.3v0.8M254.8 2437.1v0.8M255.6 2435.4v0.8M256.5 2437.4v0.8M257.4 2439.2v0.8M258.3 2436v0.8M259.1 2437.4v0.8M260 2435.1v0.8M260.9 2435.7v0.8M261.7 2440.9v0.8M262.6 2440v0.8M263.5 2436.8v0.8M264.3 2438.1v0.8M265.2 2440.5v0.8M266.1 2437.7v0.8M266.9 2434.8v0.8M267.8 2435.9v0.8M268.7 2438.3v0.8M269.5 2436.4v0.8M270.4 2435.2v0.8M271.3 2437.2v0.8M272.1 2434v0.8M273 2438v0.8M273.9 2433.5v0.8M274.7 2434.4v0.8M275.6 2436v0.8M276.5 2436.5v0.8M277.3 2436.8v0.8M278.2 2438.3v0.8M279.1 2435.3v0.8M279.9 2434.8v0.8M280.8 2435.6v0.8M281.7 2436.4v0.8M282.5 2436.7v0.8M283.4 2438.3v0.8M284.3 2437.9v0.8M285.1 2439.1v0.8M286 2436v0.8M286.9 2438.3v0.8M287.7 2435.5v0.8M288.6 2437.9v0.8M289.5 2434.5v0.8M290.3 2434.3v0.8M291.2 2434.3v0.8M292.1 2435v0.8M292.9 2437.3v0.8M293.8 2437.3v0.8M294.7 2438v0.8M295.5 2436.2v0.8M296.4 2434.1v0.8M297.3 2438.5v0.8M298.1 2432.9v0.8M299 2437.7v0.8M299.9 2438.6v0.8M300.7 2436.2v0.8M301.6 2435v0.8M302.5 2437.3v0.8M303.3 2438.4v0.8M304.2 2433.9v0.8M305.1 2438.5v0.8M305.9 2435.1v0.8M306.8 2436.5v0.8M307.7 2437.3v0.8M308.5 2436.6v0.8M309.4 2438.4v0.8M310.3 2438.5v0.8M311.1 2436.2v0.8M312 2438.3v0.8M312.9 2437.9v0.8M313.7 2434.3v0.8M314.6 2433.8v0.8M315.5 2434.9v0.8M316.3 2435.2v0.8M317.2 2437v0.8M318.1 2436.5v0.8M318.9 2437.8v0.8M319.8 2440.6v0.8M320.7 2436.3v0.8M321.5 2436.2v0.8M322.4 2435v0.8M323.3 2438.5v0.8M324.1 2434.7v0.8M325 2437.4v0.8M325.9 2438.5v0.8M326.7 2436.9v0.8M327.6 2435v0.8M328.5 2436.5v0.8M329.3 2435.8v0.8M330.2 2437.9v0.8M331.1 2435.7v0.8M331.9 2434.8v0.8M332.8 2437.8v0.8M333.7 2435.7v0.8M334.5 2438.4v0.8M335.4 2435.9v0.8M336.3 2438.6v0.8M337.1 2435.5v0.8M338 2436.1v0.8M338.9 2437.8v0.8M339.7 2435.3v0.8M340.6 2437.4v0.8M341.5 2435.5v0.8M342.3 2437v0.8M343.2 2434.5v0.8M344.1 2436v0.8M345 2432.6v0.8M345.8 2433.9v0.8M346.7 2433.5v0.8M347.6 2436.1v0.8M348.4 2436.9v0.8M349.3 2434.4v0.8M350.2 2429.8v0.8M351 2433.6v0.8M351.9 2429.5v0.8M352.8 2428.7v0.8M353.6 2430.8v0.8M354.5 2429.3v0.8M355.4 2425.9v0.8M356.2 2427.3v0.8M357.1 2426.3v0.8M358 2425.2v0.8M358.8 2422.6v0.8M359.7 2421.3v0.8M360.6 2417.3v0.8M361.4 2417v0.8M362.3 2413.4v0.8M363.2 2413.1v0.8M364 2406.5v0.8M364.9 2408.1v0.8M365.8 2405.4v0.8M366.6 2403.4v0.8M367.5 2401.7v0.8M368.4 2397.2v0.8M369.2 2392v0.8M370.1 2390.3v0.8M371 2383.7v0.8M371.8 2383.8v0.8M372.7 2380v0.8M373.6 2372.8v0.8M374.4 2368.6v0.8M375.3 2366.9v0.8M376.2 2359.2v0.8M377 2354.6v0.8M377.9 2352.1v0.8M378.8 2350.7v0.8M379.6 2342.7v0.8M380.5 2341.4v0.8M381.4 2337.5v0.8M382.2 2333v0.8M383.1 2331.6v0.8M384 2325.1v0.8M384.8 2325.7v0.8M385.7 2320.6v0.8M386.6 2318.9v0.8M387.4 2315.5v0.8M388.3 2316.1v0.8M389.2 2314.5v0.8M390 2315.8v0.8M390.9 2315.3v0.8M391.8 2316v0.8M392.6 2314.4v0.8M393.5 2317.6v0.8M394.4 2315.4v0.8M395.2 2319.7v0.8M396.1 2323.4v0.8M397 2324.9v0.8M397.8 2324.6v0.8M398.7 2330.2v0.8M399.6 2331.7v0.8M400.4 2338.5v0.8M401.3 2338.9v0.8M402.2 2342.1v0.8M403 2346.5v0.8M403.9 2350v0.8M404.8 2356.9v0.8M405.6 2362.1v0.8M406.5 2365.7v0.8M407.4 2366.4v0.8M408.2 2371.2v0.8M409.1 2374.6v0.8M410 2380.7v0.8M410.8 2382.4v0.8M411.7 2389.9v0.8M412.6 2390.4v0.8M413.4 2396.2v0.8M414.3 2398.5v0.8M415.2 2400v0.8M416 2402.6v0.8M416.9 2407.1v0.8M417.8 2410.1v0.8M418.6 2409.9v0.8M419.5 2412.7v0.8M420.4 2417.6v0.8M421.2 2418v0.8M422.1 2420.7v0.8M423 2420.5v0.8M423.8 2422.9v0.8M424.7 2424.3v0.8M425.6 2426.1v0.8M426.4 2428.3v0.8M427.3 2426.7v0.8M428.2 2428.8v0.8M429 2433.9v0.8M429.9 2431.6v0.8M430.8 2431.3v0.8M431.7 2433.4v0.8M432.5 2434.3v0.8M433.4 2434.3v0.8M434.3 2433.1v0.8M435.1 2435.5v0.8M436 2433.8v0.8M436.9 2432.5v0.8M437.7 2433.3v0.8M438.6 2433.5v0.8M439.5 2435.6v0.8M440.3 2433.5v0.8M441.2 2435.5v0.8M442.1 2434.2v0.8M442.9 2437.5v0.8M443.8 2433.8v0.8M444.7 2436.8v0.8M445.5 2435.9v0.8M446.4 2434.3v0.8M447.3 2436.1v0.8M448.1 2436.9v0.8M449 2436.4v0.8M449.9 2434.4v0.8M450.7 2434.4v0.8M451.6 2435.2v0.8M452.5 2437.3v0.8M453.3 2436.9v0.8M454.2 2435.3v0.8M455.1 2435.1v0.8M455.9 2437.5v0.8M456.8 2437.5v0.8M457.7 2435.3v0.8M458.5 2434.7v0.8M459.4 2436.3v0.8M460.3 2438.3v0.8M461.1 2433.9v0.8M462 2436.4v0.8M462.9 2435.7v0.8M463.7 2439.9v0.8M464.6 2437.6v0.8M465.5 2436.8v0.8M466.3 2436v0.8M467.2 2437.9v0.8M468.1 2439v0.8M468.9 2439.2v0.8M469.8 2437.2v0.8M470.7 2436.1v0.8M471.5 2436.2v0.8M472.4 2439.4v0.8M473.3 2437.8v0.8M474.1 2436.8v0.8M475 2435.1v0.8M475.9 2435.8v0.8M476.7 2436.3v0.8M477.6 2439.3v0.8M478.5 2435v0.8M479.3 2436.8v0.8M480.2 2436.4v0.8M481.1 2437.8v0.8M481.9 2437v0.8M482.8 2437.3v0.8M483.7 2437.4v0.8M484.5 2438.1v0.8M485.4 2435.7v0.8M486.3 2435.3v0.8M487.1 2437.6v0.8M488 2438.1v0.8M488.9 2438v0.8M489.7 2437.2v0.8M490.6 2434.5v0.8M491.5 2437v0.8M492.3 2433.9v0.8M493.2 2438.8v0.8M494.1 2438.5v0.8M494.9 2438v0.8M495.8 2438.1v0.8M496.7 2436.3v0.8M497.5 2434v0.8M498.4 2437.9v0.8M499.3 2436.2v0.8M500.1 2434.7v0.8M501 2433v0.8M501.9 2436.4v0.8M502.7 2435.2v0.8M503.6 2434.7v0.8M504.5 2436.6v0.8M505.3 2435.9v0.8M506.2 2437.3v0.8M507.1 2438.2v0.8M507.9 2437.7v0.8M508.8 2434.9v0.8M509.7 2434.6v0.8M510.5 2436.4v0.8M511.4 2438.7v0.8M512.3 2434.8v0.8M513.1 2436.8v0.8M514 2434.4v0.8M514.9 2436.6v0.8M515.7 2438.6v0.8M516.6 2437.2v0.8M517.5 2437.8v0.8M518.4 2434.2v0.8M519.2 2440.3v0.8M520.1 2437.7v0.8M521 2437.2v0.8M521.8 2440v0.8M522.7 2436.1v0.8M523.6 2435.8v0.8M524.4 2435.4v0.8M525.3 2435.4v0.8M526.2 2436.9v0.8M527 2435.3v0.8M527.9 2437.5v0.8M528.8 2436.7v0.8M529.6 2436.4v0.8M530.5 2436.6v0.8M531.4 2435.9v0.8M532.2 2437.8v0.8M533.1 2436.9v0.8M534 2437.7v0.8M534.8 2436.6v0.8M535.7 2436.3v0.8M536.6 2437.9v0.8M537.4 2434.5v0.8M538.3 2433.7v0.8M539.2 2435.9v0.8M540 2436.6v0.8M540.9 2437.7v0.8M541.8 2437v0.8M542.6 2437.1v0.8M543.5 2435.6v0.8M544.4 2436.7v0.8M545.2 2435.6v0.8M546.1 2435.8v0.8M547 2437.5v0.8M547.8 2438.8v0.8M548.7 2438.6v0.8M549.6 2438.4v0.8M550.4 2436.8v0.8M551.3 2434.9v0.8M552.2 2438.2v0.8M553 2435.7v0.8M553.9 2437v0.8M554.8 2434.7v0.8M555.6 2433.2v0.8M556.5 2435v0.8M557.4 2436.2v0.8M558.2 2435.9v0.8M559.1 2434.6v0.8M560 2437.1v0.8M560.8 2437.9v0.8M561.7 2436.4v0.8M562.6 2434.1v0.8M563.4 2437.8v0.8M564.3 2434.9v0.8M565.2 2435.3v0.8M566 2437v0.8M566.9 2437.9v0.8M567.8 2439.2v0.8M568.6 2438.5v0.8M569.5 2436.4v0.8M570.4 2435.5v0.8M571.2 2437.7v0.8M572.1 2437.6v0.8M573 2437.9v0.8M573.8 2432.8v0.8M574.7 2438.9v0.8M575.6 2439v0.8M576.4 2435v0.8M577.3 2438.4v0.8M578.2 2435.1v0.8M579 2438v0.8M579.9 2435.1v0.8M580.8 2434.5v0.8M581.6 2437.4v0.8M582.5 2436.7v0.8M583.4 2438.3v0.8M584.2 2435.3v0.8M585.1 2437.2v0.8M586 2438.2v0.8M586.8 2436v0.8M587.7 2436.1v0.8M588.6 2436.8v0.8M589.4 2437.4v0.8M590.3 2435.2v0.8M591.2 2437.8v0.8M592 2438.1v0.8M592.9 2437.1v0.8M593.8 2435.9v0.8M594.6 2437.3v0.8M595.5 2437.7v0.8M596.4 2438.3v0.8M597.2 2438v0.8M598.1 2437.8v0.8M599 2433.6v0.8M599.8 2439.6v0.8M600.7 2437.4v0.8M601.6 2436.6v0.8M602.4 2438.1v0.8M603.3 2438.6v0.8M604.2 2435.8v0.8M605.1 2434.5v0.8M605.9 2434.9v0.8M606.8 2436.7v0.8M607.7 2437.4v0.8M608.5 2435.6v0.8M609.4 2439.3v0.8M610.3 2438v0.8M611.1 2434.3v0.8M612 2436v0.8M612.9 2436.4v0.8M613.7 2437v0.8M614.6 2437.3v0.8M615.5 2438v0.8M616.3 2435.7v0.8M617.2 2435.8v0.8M618.1 2435.8v0.8M618.9 2440.5v0.8M619.8 2434.6v0.8M620.7 2435.2v0.8M621.5 2434.1v0.8M622.4 2437.5v0.8M623.3 2440.1v0.8M624.1 2438.7v0.8M625 2438v0.8M625.9 2433.4v0.8M626.7 2437.8v0.8M627.6 2437.3v0.8M628.5 2434.9v0.8M629.3 2435.1v0.8M630.2 2435v0.8M631.1 2437.3v0.8M631.9 2433.5v0.8M632.8 2435.9v0.8M633.7 2437.8v0.8M634.5 2435.8v0.8M635.4 2438.7v0.8M636.3 2438.5v0.8M637.1 2437.5v0.8M638 2438.3v0.8M638.9 2437.2v0.8M639.7 2437.5v0.8M640.6 2437.2v0.8M641.5 2437.8v0.8M642.3 2434.6v0.8M643.2 2438v0.8M644.1 2437.2v0.8M644.9 2437.8v0.8M645.8 2437.3v0.8M646.7 2438.4v0.8M647.5 2432.9v0.8M648.4 2436.7v0.8M649.3 2435v0.8M650.1 2436.8v0.8M651 2438.3v0.8M651.9 2437.1v0.8M652.7 2437.3v0.8M653.6 2438.2v0.8M654.5 2436v0.8M655.3 2433.6v0.8M656.2 2435.8v0.8M657.1 2434.4v0.8M657.9 2434v0.8M658.8 2439.1v0.8M659.7 2433v0.8M660.5 2438.1v0.8M661.4 2433v0.8M662.3 2435.5v0.8M663.1 2434.9v0.8M664 2432.3v0.8M664.9 2434v0.8M665.7 2438.2v0.8M666.6 2438.5v0.8M667.5 2437.4v0.8M668.3 2433.8v0.8M669.2 2434.8v0.8M670.1 2433.7v0.8M670.9 2434.3v0.8M671.8 2432.9v0.8M672.7 2436.3v0.8M673.5 2437.3v0.8M674.4 2435.2v0.8M675.3 2432.5v0.8M676.1 2435v0.8M677 2436.7v0.8M677.9 2433.3v0.8M678.7 2430.8v0.8M679.6 2430.6v0.8M680.5 2431v0.8M681.3 2430.4v0.8M682.2 2432v0.8M683.1 2427.6v0.8M683.9 2423.3v0.8M684.8 2425.7v0.8M685.7 2420.7v0.8M686.5 2423.5v0.8M687.4 2420.2v0.8M688.3 2418.1v0.8M689.1 2414.9v0.8M690 2415v0.8M690.9 2407.2v0.8M691.8 2406.3v0.8M692.6 2405.7v0.8M693.5 2397.3v0.8M694.4 2393.8v0.8M695.2 2391.5v0.8M696.1 2384.7v0.8M697 2377.9v0.8M697.8 2372.4v0.8M698.7 2366.9v0.8M699.6 2362.1v0.8M700.4 2353.9v0.8M701.3 2345.3v0.8M702.2 2336.5v0.8M703 2331.4v0.8M703.9 2323.2v0.8M704.8 2314.9v0.8M705.6 2308.6v0.8M706.5 2302.6v0.8M707.4 2292.2v0.8M708.2 2283.1v0.8M709.1 2274v0.8M710 2266v0.8M710.8 2258.9v0.8M711.7 2250.6v0.8M712.6 2242.3v0.8M713.4 2235.9v0.8M714.3 2228.7v0.8M715.2 2223.5v0.8M716 2215.2v0.8M716.9 2208.9v0.8M717.8 2205.1v0.8M718.6 2200.2v0.8M719.5 2196.1v0.8M720.4 2195.2v0.8M721.2 2192.4v0.8M722.1 2191.6v0.8M723 2189v0.8M723.8 2191.9v0.8M724.7 2191.3v0.8M725.6 2196.7v0.8M726.4 2193.5v0.8M727.3 2198.9v0.8M728.2 2205.4v0.8M729 2209.2v0.8M729.9 2211.6v0.8M730.8 2220.6v0.8M731.6 2229.8v0.8M732.5 2234.6v0.8M733.4 2242.9v0.8M734.2 2249.1v0.8M735.1 2257.7v0.8M736 2268.8v0.8M736.8 2274.2v0.8M737.7 2281.5v0.8M738.6 2289.3v0.8M739.4 2299.5v0.8M740.3 2305.4v0.8M741.2 2314.3v0.8M742 2323.4v0.8M742.9 2330v0.8M743.8 2343.9v0.8M744.6 2345.4v0.8M745.5 2352.1v0.8M746.4 2361.2v0.8M747.2 2366.1v0.8M748.1 2374.5v0.8M749 2379.4v0.8M749.8 2384.7v0.8M750.7 2391v0.8M751.6 2394.3v0.8M752.4 2401.1v0.8M753.3 2402.4v0.8M754.2 2403.1v0.8M755 2406.1v0.8M755.9 2412.1v0.8M756.8 2412v0.8M757.6 2416.7v0.8M758.5 2421.6v0.8M759.4 2422.5v0.8M760.2 2423.4v0.8M761.1 2425v0.8M762 2425.3v0.8M762.8 2428.7v0.8M763.7 2429.4v0.8M764.6 2428v0.8M765.4 2430.3v0.8M766.3 2430.7v0.8M767.2 2432.1v0.8M768 2431.4v0.8M768.9 2431.8v0.8M769.8 2434.7v0.8M770.6 2432v0.8M771.5 2435.2v0.8M772.4 2433.9v0.8M773.2 2435.1v0.8M774.1 2433.8v0.8M775 2434.6v0.8M775.8 2434.3v0.8M776.7 2435.1v0.8M777.6 2435.6v0.8M778.5 2435.2v0.8M779.3 2435.6v0.8M780.2 2437v0.8M781.1 2438.3v0.8M781.9 2435v0.8M782.8 2433.8v0.8M783.7 2437.5v0.8M784.5 2435.2v0.8M785.4 2437v0.8M786.3 2435.8v0.8M787.1 2434.7v0.8M788 2435.5v0.8M788.9 2436.5v0.8M789.7 2439.3v0.8M790.6 2436.5v0.8M791.5 2436.3v0.8M792.3 2434.3v0.8M793.2 2437.4v0.8M794.1 2436.4v0.8M794.9 2436v0.8M795.8 2434.3v0.8M796.7 2438.2v0.8M797.5 2435v0.8M798.4 2436.5v0.8M799.3 2437.4v0.8M800.1 2438.6v0.8M801 2437.9v0.8M801.9 2435.1v0.8M802.7 2437.3v0.8M803.6 2438v0.8M804.5 2437.1v0.8" stroke="#f00" stroke-width="4.2" stroke-linecap="round" fill="none"/>
<path d="M270.1 2437.3 321.3 2437 337.7 2436.5 342.9 2435.8 347 2434.7 350.4 2432.9 353.6 2430.3 356.5 2426.9 359.4 2422.1 364.6 2409.2 370.1 2389.2 379.6 2345.2 383.4 2329.9 387.4 2318.8 389.5 2316.1 391.2 2315.4 392.9 2316.3 394.9 2319.4 398.7 2329.9 402.2 2343.9 412.3 2390.4 415.5 2402.6 418.6 2412.6 421.8 2420.3 425.3 2426.5 429 2430.9 433.4 2433.9 437.1 2435.3 441.5 2436.2 455.9 2436.9 639.7 2437.4" fill="none" stroke="#FF5A10" stroke-width="2.6"/>
<path d="M1045.1 1898.5 1076.5 1897.4 1101.2 1894.6 1122.9 1890.2 1167.7 1877.9 1180.6 1875.7 1192.4 1875.1 1204.3 1875.7 1217.2 1877.9 1262 1890.1 1284.1 1894.7 1308.9 1897.4 1340.3 1898.5 L1340.3 1898.8 L1045.1 1898.8Z" fill="#A8F2D8"/>
<path d="M1190.4 1898.5 1207.9 1897.3 1215.1 1896.1 1221.8 1894.3 1234.2 1889.3 1258.9 1876.1 1265.6 1873.9 1272.3 1873.1 1279 1873.8 1286.2 1876.1 1310.9 1889.4 1323.3 1894.3 1330 1896.1 1337.2 1897.3 1354.7 1898.5 L1354.7 1898.8 L1190.4 1898.8Z" fill="#A8F2D8"/>
<path d="M1236.7 1898.5 1246 1897.9 1253.2 1896.6 1259.9 1894.3 1265.6 1891.2 1270.8 1887.2 1275.9 1882.1 1291.4 1862.7 1296.5 1857 1302.2 1852.7 1304.8 1851.7 1307.3 1851.3 1309.9 1851.6 1312.5 1852.5 1318.2 1856.6 1323.3 1862.2 1339.3 1882.2 1344.4 1887.3 1349.6 1891.3 1355.3 1894.4 1361.4 1896.5 1368.6 1897.8 1377.9 1898.5 L1377.9 1898.8 L1236.7 1898.8Z" fill="#A8F2D8"/>
<path d="M1383.6 1898.5 1400.6 1897.9 1413.5 1896.6 1424.8 1894.6 1435.1 1891.7 1444.4 1888 1453.7 1883.2 1481 1865.8 1490.2 1860.7 1500.6 1856.8 1509.8 1855.6 1519.1 1856.8 1529.4 1860.6 1538.7 1865.7 1566.5 1883.4 1575.8 1888.1 1585.1 1891.8 1595.4 1894.7 1606.7 1896.7 1619.6 1897.9 1636.1 1898.5 L1636.1 1898.8 L1383.6 1898.8Z" fill="#A8F2D8"/>
<path d="M1444.4 1898.5 1474.3 1897.6 1498 1895.8 1519.6 1892.8 1565.5 1884.5 1578.4 1883.1 1590.7 1882.6 1603.1 1883.1 1616.5 1884.5 1662.3 1892.8 1684 1895.8 1707.7 1897.6 1737.1 1898.5 L1737.1 1898.8 L1444.4 1898.8Z" fill="#A8F2D8"/>
<path d="M1500.6 1898.5 1511.9 1897.9 1521.2 1896.5 1528.9 1894.4 1536.1 1891.3 1542.3 1887.5 1549 1882.1 1568.1 1863 1574.7 1857.1 1581.4 1853.2 1585.1 1852.1 1588.1 1851.8 1591.2 1852.1 1594.8 1853.3 1601.5 1857.3 1608.2 1863.2 1626.8 1881.8 1633.5 1887.2 1639.7 1891.1 1646.9 1894.3 1654.6 1896.5 1663.9 1897.9 1675.7 1898.5 L1675.7 1898.8 L1500.6 1898.8Z" fill="#A8F2D8"/>
<path d="M1557.7 1898.5 1568.1 1897.5 1575.3 1895.4 1581.4 1891.7 1587.1 1886 1592.3 1878.3 1597.4 1868.1 1611.8 1831.6 1617 1820.4 1619.6 1816.2 1622.2 1813.1 1624.7 1811.4 1626.8 1811 1628.9 1811.6 1631.4 1813.5 1634 1816.8 1636.6 1821.2 1641.2 1831.4 1655.6 1867.8 1660.8 1878.1 1665.9 1885.8 1671.6 1891.6 1677.8 1895.3 1685 1897.5 1695.3 1898.5 L1695.3 1898.8 L1557.7 1898.8Z" fill="#A8F2D8"/>
<path d="M870.4 1898.8 1032.2 1898.7 1058.5 1898.2 1078 1897.2 1094 1895.6 1109 1893.2 1126 1889.4 1167.2 1878 1180.1 1875.8 1192.4 1875.1 1204.3 1875.7 1217.2 1877.9 1229 1880.8 1260.4 1889.7 1279.5 1893.9 1299.1 1896.6 1321.2 1898 1376.4 1898.8 1785.5 1898.8" fill="none" stroke="#00CC5A" stroke-width="4.2" stroke-linejoin="round"/>
<path d="M870.4 1898.8 1167.2 1898.8 1198.6 1898.2 1212.5 1896.6 1223.9 1893.6 1234.7 1889.1 1258.9 1876.1 1265.6 1873.9 1272.3 1873.1 1279 1873.8 1286.2 1876.1 1310.4 1889.1 1321.8 1893.8 1334.1 1896.8 1349.1 1898.3 1382 1898.8 1785.5 1898.8" fill="none" stroke="#00CC5A" stroke-width="4.2" stroke-linejoin="round"/>
<path d="M870.4 1898.8 1218.7 1898.8 1235.2 1898.6 1245.5 1897.9 1252.2 1896.9 1257.9 1895.2 1263 1892.8 1267.7 1889.8 1272.3 1885.8 1276.9 1880.9 1291.4 1862.7 1296.5 1857 1302.2 1852.7 1304.8 1851.7 1307.3 1851.3 1309.9 1851.6 1313 1852.8 1318.7 1857.1 1323.8 1862.8 1338.2 1881.1 1342.9 1885.9 1347.5 1889.9 1352.7 1893.1 1357.8 1895.4 1363.5 1897 1370.7 1898.1 1398 1898.8 1785.5 1898.8" fill="none" stroke="#00CC5A" stroke-width="4.2" stroke-linejoin="round"/>
<path d="M870.4 1898.8 1354.2 1898.8 1383.1 1898.6 1401.1 1897.8 1411.9 1896.8 1421.7 1895.3 1430.5 1893.2 1438.7 1890.4 1446.5 1887 1454.7 1882.6 1480.5 1866.1 1489.7 1860.9 1500 1856.9 1505.2 1855.9 1509.8 1855.6 1514.5 1855.9 1519.6 1856.9 1529.9 1860.8 1539.7 1866.3 1563.4 1881.6 1577.3 1888.8 1589.7 1893.2 1603.1 1896.2 1619.1 1897.9 1640.7 1898.6 1785.5 1898.8" fill="none" stroke="#00CC5A" stroke-width="4.2" stroke-linejoin="round"/>
<path d="M870.4 1898.8 1394.9 1898.8 1453.7 1898.4 1478.9 1897.4 1500 1895.5 1520.1 1892.7 1565 1884.6 1578.4 1883.1 1590.7 1882.6 1602.6 1883 1615.5 1884.4 1666.5 1893.4 1693.8 1896.7 1727.8 1898.4 1785.5 1898.8" fill="none" stroke="#00CC5A" stroke-width="4.2" stroke-linejoin="round"/>
<path d="M870.4 1898.8 1473.2 1898.8 1507.8 1898.2 1516.5 1897.3 1524.3 1895.8 1531 1893.7 1537.7 1890.4 1543.3 1886.7 1549.5 1881.7 1568.1 1863 1574.2 1857.5 1581.4 1853.2 1585.1 1852.1 1588.1 1851.8 1591.2 1852.1 1594.8 1853.3 1602.1 1857.7 1608.2 1863.2 1625.2 1880.4 1634.5 1888 1643.3 1892.9 1653.1 1896.1 1664.4 1897.9 1679.3 1898.6 1785.5 1898.8" fill="none" stroke="#00CC5A" stroke-width="4.2" stroke-linejoin="round"/>
<path d="M870.4 1898.8 1537.7 1898.8 1555.2 1898.6 1564.4 1898.1 1572.2 1896.5 1578.4 1893.8 1583.5 1889.9 1588.7 1883.9 1593.3 1876.4 1597.9 1866.9 1611.8 1831.6 1616.5 1821.4 1619.1 1816.9 1621.6 1813.6 1624.2 1811.6 1626.8 1811 1629.4 1811.8 1631.9 1814.1 1637.1 1822.2 1641.7 1832.7 1654.1 1864.3 1661.3 1879 1664.4 1883.8 1668 1888.2 1671.6 1891.6 1675.7 1894.3 1679.9 1896.2 1684 1897.3 1695.8 1898.6 1785.5 1898.8" fill="none" stroke="#00CC5A" stroke-width="4.2" stroke-linejoin="round"/>
<path d="M870.4 1898.5 1092 1898 1202.2 1896.6 1238.3 1895.4 1265.1 1893.7 1284.7 1891.3 1298.6 1888.2 1308.4 1884 1316.6 1878.1 1323.8 1870 1330.5 1859 1336.7 1845.4 1342.9 1828.2 1359.9 1769.6 1364.5 1755.5 1367.1 1749.3 1369.7 1744.7 1372.3 1742 1374.3 1741.3 1375.3 1742 1376.9 1745.4 1380 1760.2 1390.8 1845.5 1393.9 1864.6 1396.5 1876.5 1400.1 1887.6 1403.7 1893.7 1405.7 1895.7 1408.3 1897.2 1414.5 1898.5 L1414.5 1898.8 L870.4 1898.8Z" fill="#C4C6FA"/>
<path d="M1045.1 1898.2 1169.8 1897.3 1239.8 1895.3 1264.1 1893.7 1282.6 1891.6 1296 1888.9 1305.8 1885.4 1313.5 1880.7 1320.2 1874.5 1326.4 1866.2 1332.6 1854.9 1337.7 1842.8 1343.4 1826.6 1359.4 1771.3 1364.5 1755.5 1367.1 1749.3 1369.7 1744.7 1372.3 1742 1374.3 1741.3 1375.3 1742 1376.9 1745.4 1380 1760.2 1390.3 1841.8 1393.4 1861.8 1396 1874.4 1399 1885 1402.1 1891.6 1404.2 1894.3 1406.3 1896.1 1411.4 1898.1" fill="none" stroke="#0040FF" stroke-width="3.8" stroke-linejoin="round"/>
<path d="M870.4 1898.5 1271.8 1897.8 1376.9 1897 1449.5 1895.7 1503.1 1893.6 1542.3 1890.5 1557.7 1888.5 1571.1 1886 1583 1883.1 1593.3 1879.6 1603.1 1875.2 1611.8 1869.9 1619.6 1863.6 1626.3 1856.4 1632.5 1847.8 1637.6 1838.7 1642.8 1827 1647.4 1813.8 1654.1 1788.5 1660.3 1756.5 1666.5 1714.2 1679.3 1609.6 1683 1590.6 1684.5 1586.2 1686 1584.4 1686.6 1584.4 1687.1 1585.2 1687.6 1586.8 1688.6 1592.6 1691.2 1620.4 1701 1795.6 1703.6 1831.4 1706.1 1857.8 1709.2 1878.2 1710.8 1884.7 1712.8 1890.6 1714.9 1894.3 1717 1896.4 1719.5 1897.8 1723.1 1898.5 L1723.1 1898.8 L870.4 1898.8Z" fill="#B8D0FC"/>
<path d="M1144.5 1898.2 1382.6 1896.9 1451.1 1895.6 1500.6 1893.8 1538.7 1890.9 1553.6 1889.1 1567 1886.9 1578.9 1884.2 1589.2 1881.1 1597.9 1877.7 1606.2 1873.5 1613.9 1868.4 1620.6 1862.6 1626.8 1855.8 1631.9 1848.6 1637.1 1839.7 1641.7 1829.6 1645.9 1818.6 1650 1805.1 1656.7 1776.3 1662.9 1740.2 1667.5 1706.2 1676.3 1632.6 1679.9 1606.2 1683 1590.6 1684.5 1586.2 1686 1584.4 1686.6 1584.4 1687.1 1585.2 1687.6 1586.8 1688.6 1592.6 1691.2 1620.4 1700.5 1787.3 1703 1825 1705.6 1853.3 1708.7 1875.5 1711.8 1888 1713.4 1891.7 1715.4 1894.9 1717.5 1896.8 1720.6 1898.1" fill="none" stroke="#0040FF" stroke-width="3.8" stroke-linejoin="round"/>
<path d="M1255.3 1898.5 1276.4 1897.1 1307.3 1891.8 1319.7 1890.8 1332.1 1891.8 1363 1897.1 1384.1 1898.5 L1384.1 1898.8 L1255.3 1898.8Z" fill="#B8D0FC"/>
<path d="M1264.1 1898.2 1281.1 1896.5 1308.9 1891.5 1319.7 1890.8 1330.5 1891.5 1358.3 1896.5 1375.3 1898.2" fill="none" stroke="#0040FF" stroke-width="3.8" stroke-linejoin="round"/>
<path d="M1556.7 1898.5 1572.2 1897.4 1584 1895 1594.8 1891 1617 1880.4 1623.2 1878.6 1629.4 1878 1635.5 1878.7 1641.7 1880.5 1663.9 1891.1 1674.7 1895.1 1686.6 1897.4 1702 1898.5 L1702 1898.8 L1556.7 1898.8Z" fill="#B8D0FC"/>
<path d="M1564.4 1898.2 1575.8 1896.9 1585.6 1894.6 1595.4 1890.8 1617 1880.4 1623.2 1878.6 1629.4 1878 1635.5 1878.7 1641.7 1880.5 1663.4 1890.9 1672.6 1894.5 1682.4 1896.8 1694.3 1898.2" fill="none" stroke="#0040FF" stroke-width="3.8" stroke-linejoin="round"/>
<path d="M870.4 1897.1 1032.2 1896.9 1060 1896.2 1080.6 1895 1098.7 1892.7 1114.6 1889.5 1129.1 1885.5 1158.9 1876 1172.9 1872.4 1186.3 1870 1204.3 1868.3 1215.1 1865.6 1233.7 1858.4 1247.6 1850.2 1266.1 1836.3 1272.8 1830.1 1282.6 1819.8 1287.2 1815.7 1293.9 1811.2 1301.2 1807.5 1307.3 1806.1 1313 1807 1325.4 1812.7 1331 1816.5 1333.6 1817.5 1336.7 1817 1339.8 1815 1342.4 1812.3 1344.9 1808.5 1349.6 1798.6 1353.2 1787.8 1360.9 1760.8 1366.1 1746.9 1370.2 1739.8 1372.3 1737.9 1374.3 1737.2 1375.3 1737.9 1376.9 1741.2 1379.5 1752.8 1382.6 1774.4 1390.8 1843.2 1394.4 1863 1398 1875.2 1400.6 1881.3 1403.2 1885.9 1405.7 1888.9 1408.8 1890.9 1412.4 1891.4 1417.1 1891 1423.8 1889.5 1430.5 1887.3 1435.6 1884.3 1448.5 1873.9 1483.6 1852.8 1494.4 1848 1512.9 1842.4 1522.2 1838.7 1533.5 1832.7 1543.3 1825.6 1550.5 1817.6 1560.8 1804 1575.8 1781 1585.1 1767.7 1592.3 1755 1601 1735.7 1604.1 1730.1 1617 1714.8 1619.6 1712.3 1622.2 1710.6 1624.7 1709.7 1631.4 1708.9 1634.5 1709.5 1637.1 1710.6 1644.3 1716 1646.9 1717.2 1649.5 1717 1652 1714.8 1654.6 1710.9 1657.7 1704.1 1662.3 1689 1675.7 1619.8 1681.4 1586.7 1684 1577.4 1685.5 1574.8 1686.6 1574.4 1688.1 1577.3 1689.7 1582.5 1692.2 1602.7 1704.6 1821 1708.2 1859 1710.3 1872.3 1712.8 1883.2 1714.9 1888.2 1717.5 1891.5 1721.1 1894 1726.2 1895.5 1733.4 1896.5 1743.2 1897.2 1785.5 1898.1" fill="none" stroke="#000" stroke-width="4.2" stroke-linejoin="round" stroke-linecap="butt"/>
<path d="M874.5 1923.9v0.4M876.6 1890.9v0.4M878.6 1897v0.4M880.7 1885.8v0.4M882.8 1926v0.4M884.8 1872.4v0.4M886.9 1894.7v0.4M889 1922.5v0.4M891 1926.7v0.4M893.1 1925.5v0.4M895.1 1912.6v0.4M897.2 1870.7v0.4M899.3 1877.1v0.4M901.3 1908.7v0.4M903.4 1908.8v0.4M905.4 1854.3v0.4M907.5 1876.9v0.4M909.6 1914.4v0.4M911.6 1900.1v0.4M913.7 1906.2v0.4M915.7 1893.4v0.4M917.8 1877.4v0.4M919.9 1902.8v0.4M921.9 1888.7v0.4M924 1884.3v0.4M926.1 1879.5v0.4M928.1 1910.6v0.4M930.2 1901.7v0.4M932.2 1853.4v0.4M934.3 1900.9v0.4M936.4 1896.1v0.4M938.4 1887.1v0.4M940.5 1909.5v0.4M942.5 1905.4v0.4M944.6 1859.9v0.4M946.7 1868.3v0.4M948.7 1921.1v0.4M950.8 1895.4v0.4M952.8 1925.2v0.4M954.9 1930.5v0.4M957 1896.7v0.4M959 1863.3v0.4M961.1 1898.6v0.4M963.1 1864.5v0.4M965.2 1920.1v0.4M967.3 1893.8v0.4M969.3 1895v0.4M971.4 1894.9v0.4M973.5 1875v0.4M975.5 1884.2v0.4M977.6 1908.9v0.4M979.6 1926.5v0.4M981.7 1909v0.4M983.8 1897.3v0.4M985.8 1908.9v0.4M987.9 1930.4v0.4M989.9 1935.6v0.4M992 1879v0.4M994.1 1891.2v0.4M996.1 1909.7v0.4M998.2 1887.1v0.4M1000.2 1885.9v0.4M1002.3 1901.5v0.4M1004.4 1906.2v0.4M1006.4 1871.5v0.4M1008.5 1878v0.4M1010.6 1865.3v0.4M1012.6 1874.5v0.4M1014.7 1891.1v0.4M1016.7 1906.6v0.4M1018.8 1904.3v0.4M1020.9 1909.8v0.4M1022.9 1895.3v0.4M1025 1892.1v0.4M1027 1871v0.4M1029.1 1867v0.4M1031.2 1897.1v0.4M1033.2 1888.1v0.4M1035.3 1922.5v0.4M1037.3 1911.5v0.4M1039.4 1920.5v0.4M1041.5 1893.8v0.4M1043.5 1908.3v0.4M1045.6 1913.5v0.4M1047.6 1897.1v0.4M1049.7 1937.6v0.4M1051.8 1898.5v0.4M1053.8 1886.3v0.4M1055.9 1869.1v0.4M1058 1922v0.4M1060 1905.6v0.4M1062.1 1941.3v0.4M1064.1 1866.9v0.4M1066.2 1900.4v0.4M1068.3 1891v0.4M1070.3 1929.4v0.4M1072.4 1901.4v0.4M1074.4 1909.3v0.4M1076.5 1922.4v0.4M1078.6 1921.5v0.4M1080.6 1916.5v0.4M1082.7 1914.5v0.4M1084.7 1933.9v0.4M1086.8 1866.1v0.4M1088.9 1895.6v0.4M1090.9 1892.3v0.4M1093 1892.4v0.4M1095.1 1900.3v0.4M1097.1 1896.9v0.4M1099.2 1883.1v0.4M1101.2 1900.8v0.4M1103.3 1866.7v0.4M1105.4 1898.9v0.4M1107.4 1868.5v0.4M1109.5 1913.3v0.4M1111.5 1886.6v0.4M1113.6 1877.3v0.4M1115.7 1863.1v0.4M1117.7 1862v0.4M1119.8 1911.9v0.4M1121.8 1904.3v0.4M1123.9 1855.5v0.4M1126 1897.1v0.4M1128 1921.3v0.4M1130.1 1863.5v0.4M1132.2 1874v0.4M1134.2 1912.5v0.4M1136.3 1898.5v0.4M1138.3 1857.2v0.4M1140.4 1894v0.4M1142.5 1895.7v0.4M1144.5 1891.9v0.4M1146.6 1854.1v0.4M1148.6 1917.7v0.4M1150.7 1874v0.4M1152.8 1879.3v0.4M1154.8 1871.3v0.4M1156.9 1865.1v0.4M1158.9 1879.6v0.4M1161 1867.1v0.4M1163.1 1869.5v0.4M1165.1 1847.9v0.4M1167.2 1926.4v0.4M1169.2 1879.9v0.4M1171.3 1874.1v0.4M1173.4 1904.2v0.4M1175.4 1844.9v0.4M1177.5 1862.6v0.4M1179.6 1909.5v0.4M1181.6 1878.4v0.4M1183.7 1857.1v0.4M1185.7 1869.3v0.4M1187.8 1887.1v0.4M1189.9 1857.9v0.4M1191.9 1863.7v0.4M1194 1889.8v0.4M1196 1874.7v0.4M1198.1 1841.7v0.4M1200.2 1843.9v0.4M1202.2 1889.5v0.4M1204.3 1882.2v0.4M1206.3 1838.2v0.4M1208.4 1855.1v0.4M1210.5 1866.1v0.4M1212.5 1873.3v0.4M1214.6 1861.7v0.4M1216.7 1845.4v0.4M1218.7 1914.6v0.4M1220.8 1845.2v0.4M1222.8 1882.5v0.4M1224.9 1890.1v0.4M1227 1875.4v0.4M1229 1883.8v0.4M1231.1 1881.2v0.4M1233.1 1857.6v0.4M1235.2 1866.7v0.4M1237.3 1835.2v0.4M1239.3 1888.3v0.4M1241.4 1837v0.4M1243.4 1878.6v0.4M1245.5 1847.8v0.4M1247.6 1857.1v0.4M1249.6 1828.3v0.4M1251.7 1874.3v0.4M1253.7 1843.8v0.4M1255.8 1810.4v0.4M1257.9 1814.9v0.4M1259.9 1846.5v0.4M1262 1822.6v0.4M1264.1 1813.9v0.4M1266.1 1824.3v0.4M1268.2 1807.6v0.4M1270.2 1810v0.4M1272.3 1877.9v0.4M1274.4 1813.4v0.4M1276.4 1771.2v0.4M1278.5 1830.8v0.4M1280.5 1827.1v0.4M1282.6 1817.3v0.4M1284.7 1833.7v0.4M1286.7 1821.8v0.4M1288.8 1815.3v0.4M1290.8 1768.2v0.4M1292.9 1815.6v0.4M1295 1796.8v0.4M1297 1812.3v0.4M1299.1 1827.3v0.4M1301.2 1820.5v0.4M1303.2 1829.8v0.4M1305.3 1775.1v0.4M1307.3 1810.1v0.4M1309.4 1836.5v0.4M1311.5 1805.7v0.4M1313.5 1761.1v0.4M1315.6 1801v0.4M1317.6 1808.5v0.4M1319.7 1802.5v0.4M1321.8 1818.3v0.4M1323.8 1833.4v0.4M1325.9 1783.3v0.4M1327.9 1869v0.4M1330 1826.4v0.4M1332.1 1835.6v0.4M1334.1 1821.2v0.4M1336.2 1832.2v0.4M1338.3 1791v0.4M1340.3 1780.4v0.4M1342.4 1808.2v0.4M1344.4 1834.7v0.4M1346.5 1819.8v0.4M1348.6 1807.5v0.4M1350.6 1812.6v0.4M1352.7 1812.3v0.4M1354.7 1749.8v0.4M1356.8 1757.8v0.4M1358.9 1783.6v0.4M1360.9 1774.6v0.4M1363 1753.2v0.4M1365 1758.9v0.4M1367.1 1735.8v0.4M1369.2 1729.4v0.4M1371.2 1737.6v0.4M1373.3 1749.8v0.4M1375.3 1741.8v0.4M1377.4 1765.9v0.4M1379.5 1757.7v0.4M1381.5 1738.8v0.4M1383.6 1791.2v0.4M1385.7 1789.6v0.4M1387.7 1798.3v0.4M1389.8 1806.9v0.4M1391.8 1873.8v0.4M1393.9 1864.2v0.4M1396 1879.5v0.4M1398 1847.5v0.4M1400.1 1857.5v0.4M1402.1 1905.8v0.4M1404.2 1898.5v0.4M1406.3 1881.4v0.4M1408.3 1846.2v0.4M1410.4 1898.8v0.4M1412.4 1864.4v0.4M1414.5 1909.2v0.4M1416.6 1917.4v0.4M1418.6 1872.4v0.4M1420.7 1906.9v0.4M1422.8 1923.6v0.4M1424.8 1861.4v0.4M1426.9 1874.9v0.4M1428.9 1915.7v0.4M1431 1868v0.4M1433.1 1876.3v0.4M1435.1 1872.2v0.4M1437.2 1906.3v0.4M1439.2 1890.3v0.4M1441.3 1926.3v0.4M1443.4 1924.5v0.4M1445.4 1858.3v0.4M1447.5 1884.7v0.4M1449.5 1868.6v0.4M1451.6 1876.9v0.4M1453.7 1882.4v0.4M1455.7 1880.9v0.4M1457.8 1857.6v0.4M1459.8 1872.5v0.4M1461.9 1899.8v0.4M1464 1840v0.4M1466 1832.9v0.4M1468.1 1845.3v0.4M1470.2 1828.3v0.4M1472.2 1855.5v0.4M1474.3 1857.7v0.4M1476.3 1832.1v0.4M1478.4 1843.9v0.4M1480.5 1880.6v0.4M1482.5 1857.1v0.4M1484.6 1850.2v0.4M1486.6 1803v0.4M1488.7 1849.1v0.4M1490.8 1866.1v0.4M1492.8 1872.2v0.4M1494.9 1851.2v0.4M1496.9 1861.1v0.4M1499 1849v0.4M1501.1 1867.9v0.4M1503.1 1880.7v0.4M1505.2 1850.9v0.4M1507.3 1836.5v0.4M1509.3 1841v0.4M1511.4 1876.5v0.4M1513.4 1849v0.4M1515.5 1824.3v0.4M1517.6 1834.6v0.4M1519.6 1854.1v0.4M1521.7 1849.3v0.4M1523.7 1848.3v0.4M1525.8 1832.7v0.4M1527.9 1844.4v0.4M1529.9 1825.2v0.4M1532 1830.2v0.4M1534 1829.3v0.4M1536.1 1814.1v0.4M1538.2 1811.4v0.4M1540.2 1837.1v0.4M1542.3 1833.1v0.4M1544.4 1804.7v0.4M1546.4 1829.3v0.4M1548.5 1847.4v0.4M1550.5 1830.6v0.4M1552.6 1838.5v0.4M1554.7 1813.3v0.4M1556.7 1807.6v0.4M1558.8 1777.8v0.4M1560.8 1794.9v0.4M1562.9 1788v0.4M1565 1765.6v0.4M1567 1778.5v0.4M1569.1 1810.8v0.4M1571.1 1790.1v0.4M1573.2 1799.5v0.4M1575.3 1786.3v0.4M1577.3 1753.1v0.4M1579.4 1720.6v0.4M1581.4 1755.5v0.4M1583.5 1764.9v0.4M1585.6 1782.9v0.4M1587.6 1757.8v0.4M1589.7 1726.1v0.4M1591.8 1773.3v0.4M1593.8 1742.8v0.4M1595.9 1729.6v0.4M1597.9 1722.1v0.4M1600 1686v0.4M1602.1 1733.4v0.4M1604.1 1724.7v0.4M1606.2 1750v0.4M1608.2 1735.2v0.4M1610.3 1743.1v0.4M1612.4 1718.6v0.4M1614.4 1708.5v0.4M1616.5 1700.5v0.4M1618.5 1696v0.4M1620.6 1722.6v0.4M1622.7 1732.4v0.4M1624.7 1731.7v0.4M1626.8 1715.6v0.4M1628.9 1718.7v0.4M1630.9 1734.8v0.4M1633 1700.5v0.4M1635 1733.8v0.4M1637.1 1713.4v0.4M1639.2 1725v0.4M1641.2 1706.3v0.4M1643.3 1704.7v0.4M1645.3 1736.2v0.4M1647.4 1708.4v0.4M1649.5 1674.6v0.4M1651.5 1705.8v0.4M1653.6 1734.7v0.4M1655.6 1664.5v0.4M1657.7 1722.5v0.4M1659.8 1684.7v0.4M1661.8 1710.2v0.4M1663.9 1669.3v0.4M1665.9 1673.7v0.4M1668 1651.5v0.4M1670.1 1644.5v0.4M1672.1 1655.5v0.4M1674.2 1644.9v0.4M1676.3 1624.8v0.4M1678.3 1596.8v0.4M1680.4 1589.4v0.4M1682.4 1574.2v0.4M1684.5 1568.6v0.4M1686.6 1564v0.4M1688.6 1584.3v0.4M1690.7 1595.8v0.4M1692.7 1617.1v0.4M1694.8 1633.3v0.4M1696.9 1689.1v0.4M1698.9 1722v0.4M1701 1739v0.4M1703 1802.6v0.4M1705.1 1836.9v0.4M1707.2 1865.4v0.4M1709.2 1849.4v0.4M1711.3 1858.5v0.4M1713.4 1882.6v0.4M1715.4 1896v0.4M1717.5 1893.5v0.4M1719.5 1884.9v0.4M1721.6 1871.5v0.4M1723.7 1915.6v0.4M1725.7 1911.5v0.4M1727.8 1876.3v0.4M1729.8 1877.6v0.4M1731.9 1895.2v0.4M1734 1899.3v0.4M1736 1874.8v0.4M1738.1 1893.7v0.4M1740.1 1934.2v0.4M1742.2 1920v0.4M1744.3 1881.3v0.4M1746.3 1900.6v0.4M1748.4 1887.9v0.4M1750.5 1934.8v0.4M1752.5 1872.4v0.4M1754.6 1891.9v0.4M1756.6 1901.7v0.4M1758.7 1895.7v0.4M1760.8 1904.5v0.4M1762.8 1902.5v0.4M1764.9 1947.3v0.4M1766.9 1920v0.4M1769 1874.1v0.4M1771.1 1902.5v0.4M1773.1 1917.3v0.4M1775.2 1887.2v0.4M1777.2 1865.2v0.4M1779.3 1898.4v0.4M1781.4 1879.8v0.4M1783.4 1912v0.4M1785.5 1937.2v0.4" stroke="#f00" stroke-width="6.6" stroke-linecap="round" fill="none"/>
<path d="M1011.6 2205.2 1039.9 2204.5 1063.6 2203 1085.3 2200.6 1132.1 2194.1 1146.1 2192.9 1158.9 2192.5 1171.8 2192.9 1185.7 2194.1 1232.6 2200.6 1254.3 2203 1278 2204.5 1306.3 2205.2 L1306.3 2205.5 L1011.6 2205.5Z" fill="#A8F2D8"/>
<path d="M1133.7 2205.2 1154.3 2204.3 1170.8 2202.4 1185.7 2199.2 1217.7 2190.5 1227 2189 1235.2 2188.5 1243.4 2189 1252.7 2190.5 1284.7 2199.2 1299.6 2202.4 1316.1 2204.3 1336.7 2205.2 L1336.7 2205.5 L1133.7 2205.5Z" fill="#A8F2D8"/>
<path d="M1228 2205.2 1236.2 2204.6 1242.4 2203.4 1248.1 2201.3 1253.2 2198.2 1257.9 2194.3 1262.5 2189.3 1275.9 2171.1 1280.5 2165.6 1285.2 2161.9 1287.8 2160.8 1289.8 2160.5 1291.9 2160.7 1294.5 2161.7 1299.6 2165.7 1304.2 2171.2 1317.6 2189.4 1322.3 2194.4 1326.9 2198.3 1332.1 2201.4 1337.2 2203.3 1343.4 2204.5 1351.6 2205.2 L1351.6 2205.5 L1228 2205.5Z" fill="#A8F2D8"/>
<path d="M1360.4 2205.2 1377.4 2204.6 1390.8 2203.5 1402.7 2201.5 1413.5 2198.7 1422.8 2195.3 1432.5 2190.8 1461.4 2173.8 1471.2 2168.8 1482 2165.1 1491.8 2163.9 1501.6 2165.1 1512.4 2168.8 1522.2 2173.8 1551 2190.8 1560.8 2195.3 1570.1 2198.7 1580.9 2201.5 1592.8 2203.5 1606.2 2204.6 1623.2 2205.2 L1623.2 2205.5 L1360.4 2205.5Z" fill="#A8F2D8"/>
<path d="M1427.9 2205.2 1455.2 2204.6 1478.4 2203.2 1500 2201.1 1546.4 2195.3 1560.3 2194.2 1573.2 2193.9 1586.1 2194.2 1600 2195.3 1646.4 2201.1 1668 2203.2 1691.2 2204.6 1718.5 2205.2 L1718.5 2205.5 L1427.9 2205.5Z" fill="#A8F2D8"/>
<path d="M1478.4 2205.2 1490.8 2204.5 1500.6 2203 1508.8 2200.5 1516.5 2196.6 1523.2 2191.9 1529.9 2185.7 1549.5 2163 1556.2 2156.2 1559.8 2153.3 1563.4 2151.2 1567 2149.9 1570.1 2149.5 1573.2 2149.8 1576.8 2151 1580.4 2153 1584 2155.8 1590.7 2162.6 1610.8 2185.8 1617.5 2192 1624.2 2196.7 1631.9 2200.5 1640.2 2203 1650 2204.5 1662.3 2205.2 L1662.3 2205.5 L1478.4 2205.5Z" fill="#A8F2D8"/>
<path d="M1538.7 2205.2 1549.5 2204.1 1557.2 2201.5 1560.8 2199.3 1563.9 2196.7 1569.6 2189.9 1574.7 2180.9 1579.9 2169 1594.3 2126.8 1599.5 2113.5 1602.1 2108.4 1604.6 2104.6 1607.2 2102.2 1609.8 2101.5 1611.8 2102.1 1614.4 2104.2 1617 2107.9 1619.6 2112.9 1624.7 2125.9 1639.7 2169.6 1644.8 2181.3 1650 2190.2 1655.6 2196.9 1658.7 2199.4 1662.3 2201.6 1670.1 2204.1 1680.9 2205.2 L1680.9 2205.5 L1538.7 2205.5Z" fill="#A8F2D8"/>
<path d="M870.4 2205.5 996.1 2205.4 1041.5 2204.4 1059.5 2203.3 1076.5 2201.7 1135.2 2193.8 1147.6 2192.8 1158.9 2192.5 1171.8 2192.9 1185.7 2194.1 1231.6 2200.5 1251.7 2202.8 1272.3 2204.2 1296.5 2205.1 1355.3 2205.5 1785.5 2205.5" fill="none" stroke="#00CC5A" stroke-width="4.2" stroke-linejoin="round"/>
<path d="M870.4 2205.5 1107.9 2205.5 1145.5 2204.9 1160.5 2203.8 1173.9 2201.8 1186.8 2199 1217.2 2190.6 1226.4 2189 1235.2 2188.5 1243.4 2189 1252.7 2190.5 1284.1 2199.1 1298.1 2202.1 1313 2204.1 1331 2205.1 1372.3 2205.5 1785.5 2205.5" fill="none" stroke="#00CC5A" stroke-width="4.2" stroke-linejoin="round"/>
<path d="M870.4 2205.5 1210.5 2205.5 1234.7 2204.8 1240.9 2203.8 1246 2202.2 1250.7 2199.9 1254.8 2197.1 1258.9 2193.3 1263 2188.7 1275.4 2171.8 1280 2166.2 1285.2 2161.9 1287.8 2160.8 1289.8 2160.5 1291.9 2160.7 1294.5 2161.7 1299.6 2165.7 1304.2 2171.2 1317.1 2188.8 1321.2 2193.4 1325.4 2197.2 1330 2200.3 1334.6 2202.4 1340.3 2204 1346.5 2204.9 1371.2 2205.5 1785.5 2205.5" fill="none" stroke="#00CC5A" stroke-width="4.2" stroke-linejoin="round"/>
<path d="M870.4 2205.5 1331.6 2205.5 1360.9 2205.2 1379.5 2204.5 1390.8 2203.5 1400.6 2201.9 1409.4 2199.9 1418.1 2197.1 1426.4 2193.8 1434.6 2189.7 1460.9 2174.1 1470.7 2169 1481.5 2165.2 1486.6 2164.2 1491.8 2163.9 1496.9 2164.2 1502.1 2165.2 1512.9 2169 1522.7 2174.1 1548 2189.1 1562.4 2196 1575.3 2200.2 1589.7 2203 1606.7 2204.7 1629.4 2205.3 1785.5 2205.5" fill="none" stroke="#00CC5A" stroke-width="4.2" stroke-linejoin="round"/>
<path d="M870.4 2205.5 1432.5 2205.2 1457.8 2204.5 1479.4 2203.1 1500 2201.1 1546.4 2195.3 1560.3 2194.2 1573.2 2193.9 1585.6 2194.2 1598.5 2195.2 1652 2201.7 1681.4 2204.1 1718.5 2205.2 1785.5 2205.5" fill="none" stroke="#00CC5A" stroke-width="4.2" stroke-linejoin="round"/>
<path d="M870.4 2205.5 1452.6 2205.5 1475.3 2205.3 1488.2 2204.7 1497.5 2203.6 1505.2 2201.8 1511.9 2199.1 1518.6 2195.3 1524.8 2190.6 1531 2184.6 1549.5 2163 1556.2 2156.2 1559.8 2153.3 1563.4 2151.2 1567 2149.9 1570.1 2149.5 1573.7 2149.9 1577.3 2151.2 1580.9 2153.4 1584.5 2156.3 1591.2 2163.1 1608.8 2183.7 1618.5 2192.8 1627.8 2198.7 1638.1 2202.5 1650 2204.5 1665.9 2205.3 1785.5 2205.5" fill="none" stroke="#00CC5A" stroke-width="4.2" stroke-linejoin="round"/>
<path d="M870.4 2205.5 1519.1 2205.5 1536.6 2205.3 1546.4 2204.6 1554.1 2202.8 1560.3 2199.7 1566 2194.6 1571.1 2187.5 1575.8 2178.8 1580.4 2167.7 1594.3 2126.8 1599.5 2113.5 1602.1 2108.4 1604.6 2104.6 1607.2 2102.2 1609.8 2101.5 1612.4 2102.4 1614.9 2104.8 1617.5 2108.8 1620.1 2114 1625.2 2127.4 1638.1 2165.5 1645.3 2182.4 1648.9 2188.7 1652.6 2193.7 1656.2 2197.4 1660.3 2200.5 1664.4 2202.5 1669 2203.9 1681.4 2205.3 1785.5 2205.5" fill="none" stroke="#00CC5A" stroke-width="4.2" stroke-linejoin="round"/>
<path d="M1143 2205.2 1232.1 2204.8 1280.5 2204 1300.6 2202.5 1307.3 2201.2 1313 2199.3 1318.2 2196.6 1323.3 2192.6 1327.9 2187.5 1332.1 2181.7 1336.2 2174.6 1340.8 2165.1 1354.7 2131.6 1359.9 2120.7 1365 2113.2 1367.6 2111.2 1370.2 2110.5 1371.2 2111 1372.8 2113.6 1375.3 2122.2 1384.6 2171.5 1387.2 2182.7 1389.8 2191.2 1392.9 2198 1396 2201.9 1399.6 2204.2 1404.7 2205.2 L1404.7 2205.5 L1143 2205.5Z" fill="#C4C6FA"/>
<path d="M1224.9 2204.9 1271.3 2204.2 1295 2203.2 1302.2 2202.3 1308.4 2201 1313.5 2199.1 1318.2 2196.6 1322.3 2193.5 1325.9 2190 1333.1 2180.1 1341.3 2163.9 1354.2 2132.8 1359.4 2121.7 1362.5 2116.4 1365 2113.2 1367.6 2111.2 1370.2 2110.5 1371.2 2111 1372.8 2113.6 1375.3 2122.2 1384.6 2171.5 1389.3 2189.7 1391.8 2196.1 1394.9 2200.9 1398 2203.4 1402.1 2204.9" fill="none" stroke="#0040FF" stroke-width="3.8" stroke-linejoin="round"/>
<path d="M991 2205.2 1321.8 2204.6 1410.4 2203.9 1472.2 2202.8 1518.1 2201.1 1552.1 2198.5 1577.3 2194.9 1587.6 2192.6 1596.9 2189.7 1605.7 2186.2 1613.4 2181.9 1620.1 2177.1 1626.3 2171.3 1631.4 2165.1 1636.6 2157.1 1641.2 2148 1645.3 2137.9 1651 2119.8 1656.7 2095.4 1662.9 2060.1 1674.2 1983.6 1677.8 1967.6 1679.3 1964 1680.9 1962.7 1681.9 1964.2 1683 1969.3 1685 1989.5 1693.3 2123.7 1695.3 2150.4 1697.9 2174.7 1700.5 2189.9 1703 2198.3 1704.6 2201.2 1706.7 2203.4 1708.7 2204.6 1711.8 2205.2 L1711.8 2205.5 L991 2205.5Z" fill="#B8D0FC"/>
<path d="M1236.2 2204.9 1424.3 2203.7 1479.9 2202.6 1520.6 2201 1552.1 2198.5 1576.3 2195.1 1586.1 2193 1594.8 2190.4 1602.6 2187.6 1609.8 2184.1 1616.5 2179.9 1622.2 2175.4 1627.3 2170.2 1631.9 2164.4 1636.6 2157.1 1640.7 2149.1 1644.3 2140.6 1647.9 2130.3 1653.6 2109.6 1659.3 2081.8 1663.9 2053.4 1672.1 1996.2 1675.2 1978.1 1678.3 1966.2 1679.9 1963.3 1680.9 1962.7 1681.9 1964.2 1683 1969.3 1685 1989.5 1693.3 2123.7 1697.4 2170.7 1700 2187.5 1702.5 2197 1705.6 2202.5 1707.7 2204.1 1709.7 2204.9" fill="none" stroke="#0040FF" stroke-width="3.8" stroke-linejoin="round"/>
<path d="M1245.5 2205.2 1265.6 2204.2 1298.1 2200.2 1311.5 2199.5 1324.9 2200.2 1357.3 2204.2 1377.4 2205.2 L1377.4 2205.5 L1245.5 2205.5Z" fill="#B8D0FC"/>
<path d="M1255.3 2204.9 1271.3 2203.6 1299.1 2200.1 1311.5 2199.5 1323.8 2200.1 1351.6 2203.6 1367.6 2204.9" fill="none" stroke="#0040FF" stroke-width="3.8" stroke-linejoin="round"/>
<path d="M1548 2205.2 1562.9 2204.4 1575.3 2202.5 1586.6 2199.5 1610.3 2191.2 1617 2189.8 1623.7 2189.3 1629.9 2189.8 1636.6 2191.2 1660.3 2199.4 1671.6 2202.5 1684 2204.4 1698.9 2205.2 L1698.9 2205.5 L1548 2205.5Z" fill="#B8D0FC"/>
<path d="M1556.2 2204.9 1567.5 2203.8 1577.3 2202 1587.1 2199.3 1610.3 2191.2 1617 2189.8 1623.7 2189.3 1630.4 2189.9 1637.1 2191.3 1659.8 2199.3 1669.6 2202 1679.3 2203.8 1690.7 2204.9" fill="none" stroke="#0040FF" stroke-width="3.8" stroke-linejoin="round"/>
<path d="M870.4 2204.1 1006.4 2204.4 1031.7 2204 1052.8 2203 1065.7 2202 1078.6 2200.2 1165.1 2184.8 1182.1 2180.7 1200.7 2174.8 1236.2 2159.6 1245.5 2153.9 1255.8 2146 1266.1 2137.2 1282.1 2122 1285.7 2119.7 1288.8 2118.8 1293.4 2119.3 1298.1 2122 1302.2 2126.1 1313 2140.2 1321.2 2149.3 1325.9 2152.7 1327.9 2153.2 1330 2153 1333.6 2151.2 1336.7 2148.5 1339.8 2144.5 1342.9 2139.3 1346.5 2131.1 1353.7 2103.9 1357.8 2093 1361.4 2085.6 1364.5 2080.9 1367.6 2077.7 1370.7 2076 1372.3 2076.8 1373.8 2079.3 1377.4 2091.7 1381 2111.2 1388.7 2163.9 1391.8 2177.5 1395.4 2189.3 1398 2194.5 1399 2195.7 1400.6 2196.4 1406.8 2196.6 1415.5 2194.6 1420.7 2192.7 1424.3 2190.7 1438.7 2179.8 1474.8 2157.3 1488.2 2151.4 1509.3 2145.2 1518.1 2141.8 1527.3 2136.7 1535.6 2129.9 1541.8 2123 1549.5 2112.7 1561.4 2093.5 1569.6 2078.1 1574.2 2068.4 1589.2 2030.7 1593.3 2021.4 1599 2012.2 1601.5 2009.4 1604.1 2007.6 1607.2 2006.7 1610.3 2007.4 1612.9 2009.6 1616 2013.9 1620.6 2023.2 1633.5 2053.3 1639.2 2064.7 1642.8 2070.6 1644.8 2072.8 1646.9 2073.8 1649.5 2073.3 1651.5 2071.8 1653.6 2069.1 1655.6 2064.9 1659.3 2052.9 1663.4 2031.1 1672.1 1975 1675.2 1962.6 1680.9 1945.6 1681.9 1943.7 1683 1945.2 1685.5 1953.9 1687.1 1964.2 1688.1 1975.6 1694.3 2093.3 1698.4 2150.5 1701.5 2176.3 1703.6 2185.7 1705.6 2192.2 1708.2 2197.5 1710.8 2200.4 1713.4 2201.4 1719.5 2202.7 1729.8 2204 1741.7 2204.8 1785.5 2205.4" fill="none" stroke="#000" stroke-width="4.2" stroke-linejoin="round" stroke-linecap="butt"/>
<path d="M874.5 2197.7v0.4M876.6 2224.6v0.4M878.6 2188.8v0.4M880.7 2185v0.4M882.8 2242.8v0.4M884.8 2229.8v0.4M886.9 2201.2v0.4M889 2210.1v0.4M891 2204.1v0.4M893.1 2220.9v0.4M895.1 2186.2v0.4M897.2 2188.3v0.4M899.3 2202.5v0.4M901.3 2181.3v0.4M903.4 2194.5v0.4M905.4 2221v0.4M907.5 2196.5v0.4M909.6 2223v0.4M911.6 2186.3v0.4M913.7 2204.9v0.4M915.7 2207.6v0.4M917.8 2217.5v0.4M919.9 2179.4v0.4M921.9 2207v0.4M924 2212.5v0.4M926.1 2211v0.4M928.1 2193.3v0.4M930.2 2196.6v0.4M932.2 2195.7v0.4M934.3 2195.3v0.4M936.4 2161.1v0.4M938.4 2212.1v0.4M940.5 2214.2v0.4M942.5 2220.3v0.4M944.6 2191.7v0.4M946.7 2181.4v0.4M948.7 2206.3v0.4M950.8 2220.9v0.4M952.8 2220.5v0.4M954.9 2191.1v0.4M957 2189.2v0.4M959 2193.2v0.4M961.1 2217.4v0.4M963.1 2199.5v0.4M965.2 2201.8v0.4M967.3 2199.8v0.4M969.3 2186.7v0.4M971.4 2199.7v0.4M973.5 2190.6v0.4M975.5 2202.8v0.4M977.6 2198.4v0.4M979.6 2191.6v0.4M981.7 2233.4v0.4M983.8 2210.6v0.4M985.8 2213.6v0.4M987.9 2217v0.4M989.9 2209.7v0.4M992 2174.3v0.4M994.1 2221.5v0.4M996.1 2184.9v0.4M998.2 2237.9v0.4M1000.2 2210.9v0.4M1002.3 2201v0.4M1004.4 2192.5v0.4M1006.4 2190v0.4M1008.5 2188.3v0.4M1010.6 2211.1v0.4M1012.6 2213.4v0.4M1014.7 2187v0.4M1016.7 2207.9v0.4M1018.8 2229.6v0.4M1020.9 2226.7v0.4M1022.9 2222.4v0.4M1025 2194v0.4M1027 2201.1v0.4M1029.1 2190.1v0.4M1031.2 2212.4v0.4M1033.2 2200.6v0.4M1035.3 2191.2v0.4M1037.3 2209.8v0.4M1039.4 2194.4v0.4M1041.5 2216.7v0.4M1043.5 2210.6v0.4M1045.6 2210.9v0.4M1047.6 2227.1v0.4M1049.7 2193.3v0.4M1051.8 2212.3v0.4M1053.8 2202.5v0.4M1055.9 2193v0.4M1058 2193.5v0.4M1060 2189v0.4M1062.1 2204.1v0.4M1064.1 2210.4v0.4M1066.2 2203.3v0.4M1068.3 2235.2v0.4M1070.3 2230.1v0.4M1072.4 2227.4v0.4M1074.4 2220.6v0.4M1076.5 2192.3v0.4M1078.6 2218.1v0.4M1080.6 2207.2v0.4M1082.7 2173.3v0.4M1084.7 2206v0.4M1086.8 2183.8v0.4M1088.9 2216.8v0.4M1090.9 2201.9v0.4M1093 2216.4v0.4M1095.1 2203.8v0.4M1097.1 2179.8v0.4M1099.2 2230.8v0.4M1101.2 2187.1v0.4M1103.3 2190.7v0.4M1105.4 2206.9v0.4M1107.4 2223.6v0.4M1109.5 2192.8v0.4M1111.5 2204.5v0.4M1113.6 2188.9v0.4M1115.7 2192.7v0.4M1117.7 2160.7v0.4M1119.8 2197.2v0.4M1121.8 2212.5v0.4M1123.9 2188.1v0.4M1126 2186.9v0.4M1128 2163.7v0.4M1130.1 2173.9v0.4M1132.2 2183.1v0.4M1134.2 2160.6v0.4M1136.3 2213.3v0.4M1138.3 2202v0.4M1140.4 2207.4v0.4M1142.5 2196.3v0.4M1144.5 2215.7v0.4M1146.6 2175.2v0.4M1148.6 2192v0.4M1150.7 2216.6v0.4M1152.8 2207.2v0.4M1154.8 2180.2v0.4M1156.9 2169.4v0.4M1158.9 2145.8v0.4M1161 2135.4v0.4M1163.1 2176.7v0.4M1165.1 2204.4v0.4M1167.2 2226.8v0.4M1169.2 2178.3v0.4M1171.3 2199.5v0.4M1173.4 2191v0.4M1175.4 2194.5v0.4M1177.5 2184.5v0.4M1179.6 2159.9v0.4M1181.6 2177.5v0.4M1183.7 2183.2v0.4M1185.7 2200.1v0.4M1187.8 2212.3v0.4M1189.9 2187.9v0.4M1191.9 2178.6v0.4M1194 2141.5v0.4M1196 2173.5v0.4M1198.1 2155.8v0.4M1200.2 2184.7v0.4M1202.2 2197.7v0.4M1204.3 2192.5v0.4M1206.3 2186.9v0.4M1208.4 2128.9v0.4M1210.5 2187v0.4M1212.5 2152.9v0.4M1214.6 2186.8v0.4M1216.7 2149.2v0.4M1218.7 2159.2v0.4M1220.8 2169.2v0.4M1222.8 2166v0.4M1224.9 2177.4v0.4M1227 2154.5v0.4M1229 2171.8v0.4M1231.1 2186.4v0.4M1233.1 2186.5v0.4M1235.2 2156.5v0.4M1237.3 2127.3v0.4M1239.3 2154.5v0.4M1241.4 2158.8v0.4M1243.4 2149.4v0.4M1245.5 2127.5v0.4M1247.6 2147.8v0.4M1249.6 2158.9v0.4M1251.7 2127v0.4M1253.7 2138.9v0.4M1255.8 2115.1v0.4M1257.9 2140.4v0.4M1259.9 2166.8v0.4M1262 2168v0.4M1264.1 2105.8v0.4M1266.1 2102.5v0.4M1268.2 2138.7v0.4M1270.2 2140.8v0.4M1272.3 2101.8v0.4M1274.4 2151.2v0.4M1276.4 2144.9v0.4M1278.5 2112.1v0.4M1280.5 2131v0.4M1282.6 2121.5v0.4M1284.7 2123.3v0.4M1286.7 2112.4v0.4M1288.8 2090.5v0.4M1290.8 2116.8v0.4M1292.9 2106.1v0.4M1295 2160.8v0.4M1297 2122v0.4M1299.1 2139.5v0.4M1301.2 2149.1v0.4M1303.2 2144.7v0.4M1305.3 2136.5v0.4M1307.3 2114.2v0.4M1309.4 2161.9v0.4M1311.5 2137.4v0.4M1313.5 2150.3v0.4M1315.6 2149.5v0.4M1317.6 2125.2v0.4M1319.7 2136.8v0.4M1321.8 2122.9v0.4M1323.8 2154.4v0.4M1325.9 2166.3v0.4M1327.9 2157.5v0.4M1330 2148v0.4M1332.1 2148.5v0.4M1334.1 2172.1v0.4M1336.2 2147v0.4M1338.3 2142v0.4M1340.3 2095.1v0.4M1342.4 2104.1v0.4M1344.4 2152.1v0.4M1346.5 2136.2v0.4M1348.6 2150.3v0.4M1350.6 2125.9v0.4M1352.7 2101.9v0.4M1354.7 2080.2v0.4M1356.8 2107.1v0.4M1358.9 2100.8v0.4M1360.9 2119.3v0.4M1363 2085.3v0.4M1365 2095.5v0.4M1367.1 2085.5v0.4M1369.2 2088.8v0.4M1371.2 2077.2v0.4M1373.3 2102.8v0.4M1375.3 2104.3v0.4M1377.4 2060.6v0.4M1379.5 2121v0.4M1381.5 2131.2v0.4M1383.6 2100v0.4M1385.7 2103.3v0.4M1387.7 2177.5v0.4M1389.8 2175.2v0.4M1391.8 2171.3v0.4M1393.9 2153.1v0.4M1396 2208.7v0.4M1398 2198.9v0.4M1400.1 2181.2v0.4M1402.1 2188.1v0.4M1404.2 2204v0.4M1406.3 2199.1v0.4M1408.3 2223.4v0.4M1410.4 2200.6v0.4M1412.4 2200.6v0.4M1414.5 2190.1v0.4M1416.6 2205.2v0.4M1418.6 2183.9v0.4M1420.7 2172.3v0.4M1422.8 2188.3v0.4M1424.8 2183.1v0.4M1426.9 2187.7v0.4M1428.9 2187.2v0.4M1431 2200v0.4M1433.1 2177.6v0.4M1435.1 2184.2v0.4M1437.2 2138.8v0.4M1439.2 2147.8v0.4M1441.3 2170.3v0.4M1443.4 2192v0.4M1445.4 2197.7v0.4M1447.5 2150.3v0.4M1449.5 2167.6v0.4M1451.6 2161.9v0.4M1453.7 2205.1v0.4M1455.7 2150.3v0.4M1457.8 2158.4v0.4M1459.8 2188.4v0.4M1461.9 2174.3v0.4M1464 2158.3v0.4M1466 2161.2v0.4M1468.1 2166.8v0.4M1470.2 2161.8v0.4M1472.2 2163.6v0.4M1474.3 2154.3v0.4M1476.3 2126.9v0.4M1478.4 2205.3v0.4M1480.5 2159v0.4M1482.5 2149.9v0.4M1484.6 2146.6v0.4M1486.6 2159.2v0.4M1488.7 2186.1v0.4M1490.8 2143.7v0.4M1492.8 2115.1v0.4M1494.9 2179.7v0.4M1496.9 2131.1v0.4M1499 2154.4v0.4M1501.1 2148.5v0.4M1503.1 2167.8v0.4M1505.2 2152.9v0.4M1507.3 2119.6v0.4M1509.3 2133.3v0.4M1511.4 2109.6v0.4M1513.4 2120v0.4M1515.5 2133.9v0.4M1517.6 2107v0.4M1519.6 2132.1v0.4M1521.7 2123.3v0.4M1523.7 2144.7v0.4M1525.8 2136.2v0.4M1527.9 2150.1v0.4M1529.9 2114.8v0.4M1532 2156.6v0.4M1534 2115.5v0.4M1536.1 2133v0.4M1538.2 2103.6v0.4M1540.2 2109.7v0.4M1542.3 2085.8v0.4M1544.4 2104.9v0.4M1546.4 2148.2v0.4M1548.5 2115.3v0.4M1550.5 2134.5v0.4M1552.6 2118.3v0.4M1554.7 2074.5v0.4M1556.7 2088.6v0.4M1558.8 2111.8v0.4M1560.8 2114.5v0.4M1562.9 2089.9v0.4M1565 2111.1v0.4M1567 2096.3v0.4M1569.1 2072.7v0.4M1571.1 2051.7v0.4M1573.2 2058.3v0.4M1575.3 2111.6v0.4M1577.3 2054.8v0.4M1579.4 2054.3v0.4M1581.4 2042.2v0.4M1583.5 2012.8v0.4M1585.6 2080.9v0.4M1587.6 2046.2v0.4M1589.7 2017.4v0.4M1591.8 2056.1v0.4M1593.8 1990.7v0.4M1595.9 2009.1v0.4M1597.9 1996.4v0.4M1600 2022.2v0.4M1602.1 1992.5v0.4M1604.1 1986v0.4M1606.2 2002v0.4M1608.2 2001.8v0.4M1610.3 2001.8v0.4M1612.4 2026.1v0.4M1614.4 2014.3v0.4M1616.5 2017.6v0.4M1618.5 2010.8v0.4M1620.6 2003v0.4M1622.7 2048.9v0.4M1624.7 2035.1v0.4M1626.8 2008v0.4M1628.9 2057.4v0.4M1630.9 2063.8v0.4M1633 2047.9v0.4M1635 2039.5v0.4M1637.1 2060.2v0.4M1639.2 2038.2v0.4M1641.2 2051.2v0.4M1643.3 2054.6v0.4M1645.3 2062.2v0.4M1647.4 2029.1v0.4M1649.5 2077v0.4M1651.5 2108.6v0.4M1653.6 2040.1v0.4M1655.6 2072.7v0.4M1657.7 2056.8v0.4M1659.8 2029.5v0.4M1661.8 2064.1v0.4M1663.9 2045.5v0.4M1665.9 2035.4v0.4M1668 2009.9v0.4M1670.1 1981.3v0.4M1672.1 1969.2v0.4M1674.2 1963.2v0.4M1676.3 1972.5v0.4M1678.3 1974.7v0.4M1680.4 1946.6v0.4M1682.4 1948.1v0.4M1684.5 1945.4v0.4M1686.6 1952.8v0.4M1688.6 1981.4v0.4M1690.7 2013.1v0.4M1692.7 2061.3v0.4M1694.8 2094.7v0.4M1696.9 2141.7v0.4M1698.9 2158.4v0.4M1701 2169.8v0.4M1703 2169.8v0.4M1705.1 2197.5v0.4M1707.2 2186.1v0.4M1709.2 2203.6v0.4M1711.3 2202.7v0.4M1713.4 2185.3v0.4M1715.4 2240.3v0.4M1717.5 2227.5v0.4M1719.5 2231.7v0.4M1721.6 2249v0.4M1723.7 2216.6v0.4M1725.7 2188.4v0.4M1727.8 2209.3v0.4M1729.8 2199.8v0.4M1731.9 2182.2v0.4M1734 2177.6v0.4M1736 2205.7v0.4M1738.1 2177.3v0.4M1740.1 2202.7v0.4M1742.2 2221.3v0.4M1744.3 2216.5v0.4M1746.3 2234.3v0.4M1748.4 2222.5v0.4M1750.5 2212v0.4M1752.5 2188.8v0.4M1754.6 2170.5v0.4M1756.6 2232.6v0.4M1758.7 2197.1v0.4M1760.8 2225.8v0.4M1762.8 2195.5v0.4M1764.9 2207.6v0.4M1766.9 2241.7v0.4M1769 2186.5v0.4M1771.1 2217.2v0.4M1773.1 2215.8v0.4M1775.2 2226.5v0.4M1777.2 2218.2v0.4M1779.3 2196.6v0.4M1781.4 2209v0.4M1783.4 2198.6v0.4M1785.5 2198v0.4" stroke="#f00" stroke-width="6.6" stroke-linecap="round" fill="none"/>
<path d="M1032.7 2439.7 1049.7 2439.2 1063.6 2438 1076 2436.1 1086.8 2433.5 1096.6 2430.1 1106.9 2425.6 1136.3 2409.5 1146.6 2404.6 1157.4 2401.1 1167.7 2400 1178 2401.2 1188.8 2404.7 1199.1 2409.6 1228.5 2425.7 1238.3 2430 1248.1 2433.4 1259.4 2436.1 1271.3 2438 1285.2 2439.1 1302.7 2439.7 L1302.7 2440 L1032.7 2440Z" fill="#A8F2D8"/>
<path d="M1172.9 2439.7 1183.7 2439.2 1191.9 2438.1 1199.1 2436.5 1205.8 2434.1 1211.5 2431.3 1217.7 2427.5 1236.2 2413.2 1242.4 2409 1249.1 2406 1255.3 2405 1261.5 2405.9 1268.2 2408.9 1274.9 2413.4 1292.9 2427.4 1299.1 2431.2 1305.3 2434.2 1312 2436.6 1319.2 2438.2 1327.4 2439.2 1337.7 2439.7 L1337.7 2440 L1172.9 2440Z" fill="#A8F2D8"/>
<path d="M1217.2 2439.7 1227.5 2438.9 1235.2 2437.2 1241.9 2434.3 1248.1 2429.9 1253.2 2424.7 1258.9 2417.1 1274.9 2390 1280 2382.3 1285.7 2376.5 1288.8 2374.9 1291.4 2374.5 1293.9 2375 1296.5 2376.3 1299.1 2378.4 1302.2 2381.9 1307.9 2390.3 1323.3 2416.6 1329 2424.3 1334.1 2429.6 1340.3 2434.1 1347 2437.1 1354.7 2438.9 1365.6 2439.7 L1365.6 2440 L1217.2 2440Z" fill="#A8F2D8"/>
<path d="M1357.3 2439.7 1376.4 2438.9 1391.3 2437.3 1404.2 2434.4 1415.5 2430.2 1425.3 2425.1 1435.6 2418.2 1444.9 2410.7 1465.5 2392.6 1475.3 2385.3 1481 2382 1486.1 2379.8 1491.3 2378.4 1496.4 2378 1501.1 2378.4 1506.2 2379.7 1511.4 2381.9 1517 2385.1 1527.3 2392.8 1548 2410.9 1557.2 2418.3 1567.5 2425.3 1577.3 2430.3 1588.7 2434.5 1601.5 2437.3 1616.5 2439 1635.5 2439.7 L1635.5 2440 L1357.3 2440Z" fill="#A8F2D8"/>
<path d="M1461.4 2439.7 1477.4 2438.8 1489.2 2437 1499 2434 1508.3 2429.3 1516 2423.6 1524.3 2415.8 1532 2407 1548.5 2386.5 1556.2 2378.4 1560.3 2375 1564.4 2372.5 1568.6 2370.9 1572.7 2370.4 1576.3 2370.8 1580.4 2372.3 1584.5 2374.8 1589.2 2378.5 1596.9 2386.7 1613.4 2407.2 1620.6 2415.5 1628.9 2423.4 1637.1 2429.4 1646.4 2434.1 1656.2 2437 1668 2438.9 1684 2439.7 L1684 2440 L1461.4 2440Z" fill="#A8F2D8"/>
<path d="M1535.6 2439.7 1547.4 2438.4 1552.1 2437.1 1556.2 2435.3 1559.8 2432.9 1563.4 2429.6 1569.6 2421.1 1574.7 2410.8 1580.4 2395.8 1585.6 2379.2 1596.4 2340.9 1601.5 2325.3 1604.6 2318.1 1607.2 2313.6 1609.8 2310.8 1612.4 2309.8 1614.9 2310.6 1617.5 2313.1 1620.1 2317.3 1623.2 2324.3 1628.3 2339.6 1644.3 2394.5 1650 2409.8 1655.6 2421.2 1661.8 2429.7 1665.4 2433 1669 2435.3 1673.2 2437.2 1677.8 2438.5 1689.7 2439.7 L1689.7 2440 L1535.6 2440Z" fill="#A8F2D8"/>
<path d="M870.4 2440 1026.5 2439.8 1049.7 2439.2 1067.2 2437.6 1081.7 2434.8 1095.1 2430.7 1110 2424.1 1135.8 2409.8 1146.1 2404.8 1157.4 2401.1 1167.7 2400 1178 2401.2 1189.3 2404.9 1199.1 2409.6 1226.4 2424.7 1235.2 2428.7 1243.4 2431.9 1252.2 2434.5 1261.5 2436.5 1271.3 2438 1282.6 2439 1301.7 2439.7 1332.1 2440 1785.5 2440" fill="none" stroke="#00CC5A" stroke-width="4.2" stroke-linejoin="round"/>
<path d="M870.4 2440 1153.8 2440 1172.3 2439.8 1184.2 2439.1 1197.1 2437 1202.7 2435.3 1208.4 2432.9 1218.7 2426.8 1235.7 2413.6 1241.9 2409.3 1248.6 2406.2 1255.3 2405 1262 2406.1 1268.7 2409.2 1274.9 2413.4 1292.4 2427 1303.2 2433.3 1308.9 2435.6 1315.1 2437.4 1330 2439.4 1362.5 2440 1785.5 2440" fill="none" stroke="#00CC5A" stroke-width="4.2" stroke-linejoin="round"/>
<path d="M870.4 2440 1201.2 2440 1218.2 2439.7 1228.5 2438.7 1235.2 2437.2 1240.9 2434.9 1246 2431.6 1250.7 2427.5 1255.3 2422.1 1259.9 2415.5 1274.9 2390 1280 2382.3 1285.7 2376.5 1288.8 2374.9 1291.4 2374.5 1293.9 2375 1297 2376.7 1302.7 2382.6 1307.9 2390.3 1322.8 2415.9 1327.4 2422.4 1332.1 2427.7 1337.2 2432.1 1342.9 2435.5 1349.1 2437.7 1355.8 2439 1366.1 2439.8 1383.6 2440 1785.5 2440" fill="none" stroke="#00CC5A" stroke-width="4.2" stroke-linejoin="round"/>
<path d="M870.4 2440 1333.1 2440 1363 2439.6 1382 2438.5 1393.4 2436.9 1403.2 2434.7 1411.9 2431.8 1420.7 2427.7 1428.9 2422.9 1437.7 2416.6 1465 2393 1475.3 2385.3 1481 2382 1486.1 2379.8 1491.3 2378.4 1496.4 2378 1501.6 2378.5 1506.7 2379.9 1512.4 2382.4 1518.1 2385.8 1527.9 2393.2 1553.6 2415.5 1560.8 2420.9 1568.1 2425.6 1580.9 2431.8 1588.1 2434.3 1595.4 2436.1 1612.4 2438.6 1635.5 2439.7 1785.5 2440" fill="none" stroke="#00CC5A" stroke-width="4.2" stroke-linejoin="round"/>
<path d="M870.4 2440 1436.1 2440 1461.9 2439.7 1477.4 2438.8 1487.7 2437.3 1496.4 2434.9 1504.2 2431.6 1511.9 2426.8 1518.6 2421.4 1525.8 2414.1 1548 2387.1 1555.7 2378.8 1560.3 2375 1564.4 2372.5 1568.6 2370.9 1572.7 2370.4 1576.3 2370.8 1579.9 2372.1 1587.1 2376.7 1595.4 2384.9 1615.5 2409.7 1625.8 2420.6 1631.4 2425.4 1637.6 2429.7 1643.8 2433 1650 2435.4 1656.2 2437 1663.4 2438.3 1680.9 2439.7 1785.5 2440" fill="none" stroke="#00CC5A" stroke-width="4.2" stroke-linejoin="round"/>
<path d="M870.4 2440 1517 2440 1535.6 2439.7 1545.9 2438.7 1553.6 2436.5 1560.3 2432.5 1566 2426.5 1571.7 2417.3 1576.3 2407.1 1581.4 2392.6 1596.4 2340.9 1601.5 2325.3 1604.6 2318.1 1607.2 2313.6 1609.8 2310.8 1612.4 2309.8 1614.9 2310.6 1618 2313.8 1620.6 2318.3 1623.7 2325.6 1628.9 2341.3 1642.8 2389.8 1650.5 2411 1654.1 2418.5 1657.7 2424.5 1661.8 2429.7 1665.9 2433.4 1670.1 2435.9 1675.2 2437.8 1680.9 2439 1687.6 2439.6 1785.5 2440" fill="none" stroke="#00CC5A" stroke-width="4.2" stroke-linejoin="round"/>
<path d="M870.4 2438.2 1023.9 2437 1048.2 2436 1064.1 2434.3 1070.3 2432.7 1077.5 2430.1 1116.2 2413.2 1127.5 2407.6 1144.5 2397.9 1152.2 2394.8 1158.9 2394.2 1174.9 2395.4 1182.1 2396.7 1195.5 2400.1 1204.3 2401.2 1213.6 2400.9 1221.8 2398.7 1232.6 2393.5 1242.4 2386.7 1249.6 2380.4 1268.7 2361.3 1274.4 2356.3 1279.5 2353.4 1284.1 2352.5 1288.3 2353 1291.9 2354.6 1295.5 2357.3 1299.1 2361.3 1308.9 2376.1 1320.2 2397.5 1325.4 2406.1 1333.6 2416.9 1341.3 2424.8 1344.4 2427.1 1349.6 2430 1353.7 2431.7 1357.8 2432.8 1366.1 2432.8 1377.9 2430.5 1384.1 2428.7 1397 2423.4 1410.4 2419.3 1421.2 2414.4 1435.1 2405.8 1456.2 2389.7 1475.3 2379.7 1488.2 2372.3 1498.5 2368.2 1515 2364.1 1522.7 2361.6 1532 2357.4 1539.2 2352.7 1551 2342.2 1554.7 2337.7 1559.3 2330.7 1576.3 2302.5 1582 2290.6 1590.7 2270 1592.8 2266.4 1594.8 2263.9 1597.4 2262.2 1606.2 2259.5 1608.2 2260 1609.8 2261 1613.4 2265.4 1617.5 2273.4 1621.1 2282.6 1628.9 2308.4 1643.8 2364.7 1648.4 2379.7 1652.6 2390.9 1657.7 2402.2 1662.9 2411.7 1669 2420.5 1674.7 2427 1679.3 2430.8 1685.5 2434 1692.2 2436.5 1698.9 2437.9 1736.5 2439.7 1785.5 2440" fill="none" stroke="#000" stroke-width="4.2" stroke-linejoin="round" stroke-linecap="butt"/>
<path d="M874.5 2436.2v0.4M876.6 2433.1v0.4M878.6 2441.9v0.4M880.7 2444.2v0.4M882.8 2451.7v0.4M884.8 2430.9v0.4M886.9 2437.6v0.4M889 2436.2v0.4M891 2443.1v0.4M893.1 2429.1v0.4M895.1 2431v0.4M897.2 2438.4v0.4M899.3 2441.5v0.4M901.3 2440.1v0.4M903.4 2443.1v0.4M905.4 2437.3v0.4M907.5 2441.8v0.4M909.6 2433.4v0.4M911.6 2440v0.4M913.7 2439.9v0.4M915.7 2426.7v0.4M917.8 2442.5v0.4M919.9 2448.4v0.4M921.9 2434.8v0.4M924 2451.9v0.4M926.1 2435.5v0.4M928.1 2430.5v0.4M930.2 2436.9v0.4M932.2 2437.3v0.4M934.3 2451.7v0.4M936.4 2433.4v0.4M938.4 2434.5v0.4M940.5 2445.5v0.4M942.5 2423.9v0.4M944.6 2445.9v0.4M946.7 2449v0.4M948.7 2449.9v0.4M950.8 2437.1v0.4M952.8 2434.9v0.4M954.9 2434.2v0.4M957 2439.6v0.4M959 2442.9v0.4M961.1 2431.3v0.4M963.1 2443.5v0.4M965.2 2445.7v0.4M967.3 2427.4v0.4M969.3 2436v0.4M971.4 2433.9v0.4M973.5 2432.8v0.4M975.5 2441.2v0.4M977.6 2440.9v0.4M979.6 2432.7v0.4M981.7 2441.5v0.4M983.8 2434.8v0.4M985.8 2437.8v0.4M987.9 2445.5v0.4M989.9 2430.3v0.4M992 2446.1v0.4M994.1 2435.5v0.4M996.1 2436.6v0.4M998.2 2428.2v0.4M1000.2 2444.9v0.4M1002.3 2440.8v0.4M1004.4 2437.7v0.4M1006.4 2435.7v0.4M1008.5 2430.9v0.4M1010.6 2434.8v0.4M1012.6 2436.8v0.4M1014.7 2429.7v0.4M1016.7 2422.2v0.4M1018.8 2446.3v0.4M1020.9 2436.9v0.4M1022.9 2431.5v0.4M1025 2436.1v0.4M1027 2426.7v0.4M1029.1 2439v0.4M1031.2 2443.7v0.4M1033.2 2430.4v0.4M1035.3 2454v0.4M1037.3 2439.7v0.4M1039.4 2419.7v0.4M1041.5 2436v0.4M1043.5 2433.6v0.4M1045.6 2442.7v0.4M1047.6 2436v0.4M1049.7 2436.7v0.4M1051.8 2422.6v0.4M1053.8 2442.5v0.4M1055.9 2452.7v0.4M1058 2432.2v0.4M1060 2423.9v0.4M1062.1 2439.3v0.4M1064.1 2446.9v0.4M1066.2 2441.2v0.4M1068.3 2430.1v0.4M1070.3 2436.5v0.4M1072.4 2431.6v0.4M1074.4 2447.6v0.4M1076.5 2434v0.4M1078.6 2424v0.4M1080.6 2430.5v0.4M1082.7 2434.9v0.4M1084.7 2419.4v0.4M1086.8 2418.9v0.4M1088.9 2428.1v0.4M1090.9 2429.1v0.4M1093 2414v0.4M1095.1 2425.8v0.4M1097.1 2422.2v0.4M1099.2 2407.5v0.4M1101.2 2418v0.4M1103.3 2421.9v0.4M1105.4 2431.4v0.4M1107.4 2416.5v0.4M1109.5 2416.5v0.4M1111.5 2419.4v0.4M1113.6 2407.6v0.4M1115.7 2422.2v0.4M1117.7 2423.4v0.4M1119.8 2416.8v0.4M1121.8 2410.7v0.4M1123.9 2420v0.4M1126 2416.7v0.4M1128 2413.3v0.4M1130.1 2406.6v0.4M1132.2 2410.2v0.4M1134.2 2397.2v0.4M1136.3 2418.4v0.4M1138.3 2398.9v0.4M1140.4 2404.7v0.4M1142.5 2396.2v0.4M1144.5 2384.5v0.4M1146.6 2397.9v0.4M1148.6 2395.1v0.4M1150.7 2389.9v0.4M1152.8 2404.5v0.4M1154.8 2390.2v0.4M1156.9 2389v0.4M1158.9 2395.6v0.4M1161 2390.2v0.4M1163.1 2394v0.4M1165.1 2400.4v0.4M1167.2 2404.5v0.4M1169.2 2388.5v0.4M1171.3 2383v0.4M1173.4 2401.2v0.4M1175.4 2393.3v0.4M1177.5 2404.7v0.4M1179.6 2399.9v0.4M1181.6 2400.5v0.4M1183.7 2405.4v0.4M1185.7 2398.5v0.4M1187.8 2391.6v0.4M1189.9 2395.2v0.4M1191.9 2403.3v0.4M1194 2390.2v0.4M1196 2399v0.4M1198.1 2388.3v0.4M1200.2 2410.3v0.4M1202.2 2383.3v0.4M1204.3 2402.8v0.4M1206.3 2409.9v0.4M1208.4 2409.1v0.4M1210.5 2395v0.4M1212.5 2395v0.4M1214.6 2395.4v0.4M1216.7 2396.4v0.4M1218.7 2408v0.4M1220.8 2400.4v0.4M1222.8 2414.8v0.4M1224.9 2403.9v0.4M1227 2392.1v0.4M1229 2408.9v0.4M1231.1 2378.1v0.4M1233.1 2384.6v0.4M1235.2 2400.2v0.4M1237.3 2385.7v0.4M1239.3 2385.4v0.4M1241.4 2388.7v0.4M1243.4 2381.9v0.4M1245.5 2386.2v0.4M1247.6 2382.6v0.4M1249.6 2376.7v0.4M1251.7 2375.2v0.4M1253.7 2374.1v0.4M1255.8 2371.9v0.4M1257.9 2365.5v0.4M1259.9 2364.6v0.4M1262 2376.3v0.4M1264.1 2371.1v0.4M1266.1 2353.5v0.4M1268.2 2350.7v0.4M1270.2 2355.7v0.4M1272.3 2359.7v0.4M1274.4 2350.4v0.4M1276.4 2350v0.4M1278.5 2364.5v0.4M1280.5 2352.4v0.4M1282.6 2362.2v0.4M1284.7 2355.5v0.4M1286.7 2352.3v0.4M1288.8 2340.9v0.4M1290.8 2368.6v0.4M1292.9 2357.5v0.4M1295 2351.8v0.4M1297 2354v0.4M1299.1 2355.1v0.4M1301.2 2370.9v0.4M1303.2 2367.8v0.4M1305.3 2373.3v0.4M1307.3 2364.2v0.4M1309.4 2377.8v0.4M1311.5 2380.4v0.4M1313.5 2383v0.4M1315.6 2397.6v0.4M1317.6 2388.9v0.4M1319.7 2404.1v0.4M1321.8 2398.8v0.4M1323.8 2408.6v0.4M1325.9 2398.3v0.4M1327.9 2409.4v0.4M1330 2398.8v0.4M1332.1 2430.5v0.4M1334.1 2407.7v0.4M1336.2 2413.6v0.4M1338.3 2419.7v0.4M1340.3 2408.3v0.4M1342.4 2435.5v0.4M1344.4 2425.5v0.4M1346.5 2419.4v0.4M1348.6 2425v0.4M1350.6 2432.9v0.4M1352.7 2426.6v0.4M1354.7 2434.7v0.4M1356.8 2434.7v0.4M1358.9 2437.3v0.4M1360.9 2425.5v0.4M1363 2430.6v0.4M1365 2415.2v0.4M1367.1 2426.5v0.4M1369.2 2442.6v0.4M1371.2 2426.2v0.4M1373.3 2439v0.4M1375.3 2432.9v0.4M1377.4 2429.4v0.4M1379.5 2437.6v0.4M1381.5 2432.9v0.4M1383.6 2433.4v0.4M1385.7 2426.9v0.4M1387.7 2427.6v0.4M1389.8 2426.9v0.4M1391.8 2413.3v0.4M1393.9 2420.6v0.4M1396 2420.5v0.4M1398 2415.2v0.4M1400.1 2409.2v0.4M1402.1 2412v0.4M1404.2 2428.5v0.4M1406.3 2416.8v0.4M1408.3 2414.4v0.4M1410.4 2412.3v0.4M1412.4 2419.3v0.4M1414.5 2416.9v0.4M1416.6 2422.7v0.4M1418.6 2418.1v0.4M1420.7 2422.6v0.4M1422.8 2404.4v0.4M1424.8 2415.8v0.4M1426.9 2417.5v0.4M1428.9 2407.6v0.4M1431 2407.6v0.4M1433.1 2411.8v0.4M1435.1 2402.9v0.4M1437.2 2408.5v0.4M1439.2 2399v0.4M1441.3 2401.2v0.4M1443.4 2397.9v0.4M1445.4 2400.4v0.4M1447.5 2400.8v0.4M1449.5 2392.6v0.4M1451.6 2403.7v0.4M1453.7 2381.5v0.4M1455.7 2393v0.4M1457.8 2374v0.4M1459.8 2382.6v0.4M1461.9 2386.9v0.4M1464 2389.4v0.4M1466 2380.5v0.4M1468.1 2379.9v0.4M1470.2 2379.1v0.4M1472.2 2375.2v0.4M1474.3 2379.2v0.4M1476.3 2370.9v0.4M1478.4 2383.1v0.4M1480.5 2377.8v0.4M1482.5 2370.8v0.4M1484.6 2379.4v0.4M1486.6 2372.5v0.4M1488.7 2361.1v0.4M1490.8 2370.1v0.4M1492.8 2373.3v0.4M1494.9 2361.3v0.4M1496.9 2376.4v0.4M1499 2370.2v0.4M1501.1 2359.8v0.4M1503.1 2372.1v0.4M1505.2 2364.4v0.4M1507.3 2366.2v0.4M1509.3 2354.3v0.4M1511.4 2374.7v0.4M1513.4 2368.1v0.4M1515.5 2366v0.4M1517.6 2360.5v0.4M1519.6 2358.6v0.4M1521.7 2358.8v0.4M1523.7 2351v0.4M1525.8 2355.4v0.4M1527.9 2368.2v0.4M1529.9 2368.4v0.4M1532 2360.9v0.4M1534 2359.7v0.4M1536.1 2357.7v0.4M1538.2 2345.9v0.4M1540.2 2356.1v0.4M1542.3 2342.3v0.4M1544.4 2340.3v0.4M1546.4 2346.3v0.4M1548.5 2348.2v0.4M1550.5 2333.5v0.4M1552.6 2346.1v0.4M1554.7 2334.2v0.4M1556.7 2332.6v0.4M1558.8 2322.2v0.4M1560.8 2325.5v0.4M1562.9 2324.4v0.4M1565 2313.7v0.4M1567 2320.4v0.4M1569.1 2310.6v0.4M1571.1 2310.4v0.4M1573.2 2307.7v0.4M1575.3 2314.7v0.4M1577.3 2300.4v0.4M1579.4 2303.2v0.4M1581.4 2287.9v0.4M1583.5 2270.3v0.4M1585.6 2283.6v0.4M1587.6 2270.7v0.4M1589.7 2265.1v0.4M1591.8 2275.9v0.4M1593.8 2259.9v0.4M1595.9 2265.1v0.4M1597.9 2264.8v0.4M1600 2255.3v0.4M1602.1 2264.4v0.4M1604.1 2263.3v0.4M1606.2 2254v0.4M1608.2 2250.8v0.4M1610.3 2260.8v0.4M1612.4 2259v0.4M1614.4 2276.9v0.4M1616.5 2271.7v0.4M1618.5 2272.5v0.4M1620.6 2286.9v0.4M1622.7 2282.5v0.4M1624.7 2291.7v0.4M1626.8 2298.9v0.4M1628.9 2299.9v0.4M1630.9 2307v0.4M1633 2332.2v0.4M1635 2336.3v0.4M1637.1 2336.1v0.4M1639.2 2349.9v0.4M1641.2 2341.4v0.4M1643.3 2355v0.4M1645.3 2375.5v0.4M1647.4 2381.7v0.4M1649.5 2391.4v0.4M1651.5 2385.5v0.4M1653.6 2397.4v0.4M1655.6 2402.4v0.4M1657.7 2410.8v0.4M1659.8 2399.8v0.4M1661.8 2415v0.4M1663.9 2419.5v0.4M1665.9 2429.3v0.4M1668 2416.1v0.4M1670.1 2420v0.4M1672.1 2418.9v0.4M1674.2 2416.2v0.4M1676.3 2426.8v0.4M1678.3 2432.3v0.4M1680.4 2442.4v0.4M1682.4 2431.6v0.4M1684.5 2430.9v0.4M1686.6 2432.5v0.4M1688.6 2448.7v0.4M1690.7 2427.2v0.4M1692.7 2432.1v0.4M1694.8 2439.7v0.4M1696.9 2439.4v0.4M1698.9 2451.1v0.4M1701 2435.6v0.4M1703 2440.4v0.4M1705.1 2446.1v0.4M1707.2 2424.5v0.4M1709.2 2427.6v0.4M1711.3 2433.5v0.4M1713.4 2438.8v0.4M1715.4 2447.4v0.4M1717.5 2439v0.4M1719.5 2435.7v0.4M1721.6 2439.8v0.4M1723.7 2439.4v0.4M1725.7 2437.9v0.4M1727.8 2447.3v0.4M1729.8 2433.6v0.4M1731.9 2432.3v0.4M1734 2442.5v0.4M1736 2444.4v0.4M1738.1 2424.7v0.4M1740.1 2431.6v0.4M1742.2 2455.9v0.4M1744.3 2440.4v0.4M1746.3 2446.8v0.4M1748.4 2446.1v0.4M1750.5 2444.6v0.4M1752.5 2439.5v0.4M1754.6 2440.7v0.4M1756.6 2448.9v0.4M1758.7 2447.4v0.4M1760.8 2454.2v0.4M1762.8 2440.4v0.4M1764.9 2437.9v0.4M1766.9 2433.8v0.4M1769 2432.9v0.4M1771.1 2439.1v0.4M1773.1 2442.6v0.4M1775.2 2424.8v0.4M1777.2 2446.3v0.4M1779.3 2449.3v0.4M1781.4 2443v0.4M1783.4 2438.4v0.4M1785.5 2430.3v0.4" stroke="#f00" stroke-width="6.6" stroke-linecap="round" fill="none"/>
<rect x="129.2" y="142.0" width="44.4" height="44.6" fill="#FF8080"/>
<rect x="129.2" y="204.0" width="44.4" height="44.6" fill="#8080FF"/>
<rect x="129.2" y="265.0" width="44.4" height="44.6" fill="#E6E678"/>
<rect x="129.2" y="326.0" width="44.4" height="44.6" fill="#C080E8"/>
<rect x="129.2" y="387.0" width="44.4" height="44.6" fill="#48CCCC"/>
<rect x="129.2" y="448.0" width="44.4" height="44.6" fill="#FF80B4"/>
<text x="182.17" y="184.30" font-family='"Liberation Sans", Arial, sans-serif' font-size="53.70" fill="#000" style="font-kerning:none;letter-spacing:-1.861px;stroke:#000;stroke-width:1.1px">C sp<tspan font-size="31.15" dy="-22.02">2</tspan></text>
<text x="182.17" y="245.50" font-family='"Liberation Sans", Arial, sans-serif' font-size="53.70" fill="#000" style="font-kerning:none;letter-spacing:-1.333px;stroke:#000;stroke-width:1.1px">C sp<tspan font-size="31.15" dy="-22.02">3</tspan><tspan dy="22.02">, C</tspan><tspan font-size="32.76" dy="9.67">adv</tspan></text>
<text x="182.17" y="302.70" font-family='"Liberation Sans", Arial, sans-serif' font-size="53.70" fill="#000" style="font-kerning:none;letter-spacing:-2.581px;stroke:#000;stroke-width:1.1px">C-O-C</text>
<text x="182.17" y="365.50" font-family='"Liberation Sans", Arial, sans-serif' font-size="53.70" fill="#000" style="font-kerning:none;letter-spacing:-2.208px;stroke:#000;stroke-width:1.1px">C-OH, C-NH</text>
<text x="182.17" y="427.80" font-family='"Liberation Sans", Arial, sans-serif' font-size="53.70" fill="#000" style="font-kerning:none;letter-spacing:-3.207px;stroke:#000;stroke-width:1.1px">C=O</text>
<text x="182.17" y="490.30" font-family='"Liberation Sans", Arial, sans-serif' font-size="53.70" fill="#000" style="font-kerning:none;letter-spacing:-1.614px;stroke:#000;stroke-width:1.1px">COO<tspan font-size="31.15" dy="-22.02">-</tspan><tspan dy="22.02">, COOH</tspan></text>
<rect x="863.0" y="127.0" width="44.6" height="44.7" fill="#808080"/>
<rect x="863.0" y="196.0" width="44.6" height="44.7" fill="#FFAA80"/>
<rect x="863.0" y="266.0" width="44.6" height="44.7" fill="#A0FFB8"/>
<rect x="863.0" y="336.0" width="44.6" height="44.7" fill="#B0E8FF"/>
<text x="659.47" y="163.00" font-family='"Liberation Sans", Arial, sans-serif' font-size="53.50" fill="#000" style="font-kerning:none;letter-spacing:-2.343px;stroke:#000;stroke-width:1.1px"><tspan font-family="DejaVu Sans, sans-serif">π</tspan> - <tspan font-family="DejaVu Sans, sans-serif">π</tspan>* sat</text>
<text x="684.18" y="234.00" font-family='"Liberation Sans", Arial, sans-serif' font-size="53.50" fill="#000" style="font-kerning:none;letter-spacing:-1.895px;stroke:#000;stroke-width:1.1px">CH<tspan font-size="32.63" dy="9.63">3</tspan><tspan dy="-9.63">(im)</tspan></text>
<text x="580.91" y="304.00" font-family='"Liberation Sans", Arial, sans-serif' font-size="53.50" fill="#000" style="font-kerning:none;letter-spacing:-2.067px;stroke:#000;stroke-width:1.1px">N-C-C-N(im)</text>
<text x="633.41" y="373.80" font-family='"Liberation Sans", Arial, sans-serif' font-size="53.50" fill="#000" style="font-kerning:none;letter-spacing:-2.090px;stroke:#000;stroke-width:1.1px">N-C-N(im)</text>
<text x="132.96" y="109.00" font-family='"DejaVu Sans", Verdana, sans-serif' font-size="57.50" fill="#000" style="font-kerning:none;letter-spacing:0.900px;stroke:#000;stroke-width:1.2px">(a) C 1s</text>
<text x="928.53" y="107.00" font-family='"Liberation Sans", Arial, sans-serif' font-size="59.20" fill="#000" style="font-kerning:none;letter-spacing:-1.531px;stroke:#000;stroke-width:1.1px">(b) N 1s</text>
<text x="1345.07" y="90.60" font-family='"Liberation Sans", Arial, sans-serif' font-size="53.50" fill="#000" style="font-kerning:none;letter-spacing:-1.690px;stroke:#000;stroke-width:1.1px">Surface pyridyl N</text>
<text x="1466.61" y="159.70" font-family='"Liberation Sans", Arial, sans-serif' font-size="53.50" fill="#000" style="font-kerning:none;letter-spacing:-1.869px;stroke:#000;stroke-width:1.1px">N-Zn, N-Co</text>
<text x="1462.05" y="227.50" font-family='"Liberation Sans", Arial, sans-serif' font-size="53.50" fill="#000" style="font-kerning:none;letter-spacing:-1.431px;stroke:#000;stroke-width:1.1px">nitrite, -NO<tspan font-size="32.63" dy="9.63">2</tspan></text>
<rect x="1735.0" y="50.0" width="45.0" height="44.0" fill="#A8F0BE"/>
<rect x="1735.0" y="117.0" width="45.0" height="44.2" fill="#E4C0F8"/>
<rect x="1735.0" y="184.7" width="45.0" height="45.0" fill="#B8D0F8"/>
<text x="129.27" y="1413.70" font-family='"Liberation Sans", Arial, sans-serif' font-size="58.60" fill="#000" style="font-kerning:none;letter-spacing:-1.295px;stroke:#000;stroke-width:1.1px">(c) Zn 2p</text>
<text x="608.32" y="1386.90" font-family='"Liberation Sans", Arial, sans-serif' font-size="53.00" fill="#000" style="font-kerning:none;letter-spacing:-1.166px;stroke:#000;stroke-width:1.1px">Zn 2p<tspan font-size="32.33" dy="9.54">3/2</tspan></text>
<text x="608.32" y="1451.00" font-family='"Liberation Sans", Arial, sans-serif' font-size="53.00" fill="#000" style="font-kerning:none;letter-spacing:-1.166px;stroke:#000;stroke-width:1.1px">Zn 2p<tspan font-size="32.33" dy="9.54">1/2</tspan></text>
<rect x="810.0" y="1353.0" width="45.0" height="44.8" fill="#C0C0FF"/>
<rect x="810.0" y="1418.0" width="45.0" height="43.6" fill="#FFD4C0"/>
<text x="879.22" y="1414.00" font-family='"Liberation Sans", Arial, sans-serif' font-size="57.80" fill="#000" style="font-kerning:none;letter-spacing:-0.991px;stroke:#000;stroke-width:1.1px">(d) Co 2p</text>
<text x="1473.31" y="1404.00" font-family='"Liberation Sans", Arial, sans-serif' font-size="53.00" fill="#000" style="font-kerning:none;letter-spacing:-1.506px;stroke:#000;stroke-width:1.1px">Co metal</text>
<text x="1547.61" y="1468.30" font-family='"Liberation Sans", Arial, sans-serif' font-size="53.00" fill="#000" style="font-kerning:none;letter-spacing:-1.104px;stroke:#000;stroke-width:1.1px">Co(II)</text>
<rect x="1704.0" y="1362.0" width="43.8" height="44.8" fill="#B8D0FA"/>
<rect x="1704.0" y="1426.0" width="43.8" height="44.5" fill="#A8F2D8"/>
<text x="1627.46" y="1546.00" font-family='"Liberation Sans", Arial, sans-serif' font-size="50.50" fill="#000" style="font-kerning:none;letter-spacing:0.774px;stroke:#000;stroke-width:1.1px">2p<tspan font-size="30.80" dy="9.09">3/2</tspan></text>
<text x="1287.61" y="1690.00" font-family='"Liberation Sans", Arial, sans-serif' font-size="51.50" fill="#000" style="font-kerning:none;letter-spacing:0.354px;stroke:#000;stroke-width:1.1px">2p<tspan font-size="31.41" dy="9.27">1/2</tspan></text>
<text x="131.26" y="554.00" font-family='"Liberation Sans", Arial, sans-serif' font-size="48.40" fill="#000" style="font-kerning:none;letter-spacing:2.000px;stroke:#000;stroke-width:1.1px">i)</text>
<text x="131.26" y="739.00" font-family='"Liberation Sans", Arial, sans-serif' font-size="48.40" fill="#000" style="font-kerning:none;letter-spacing:2.000px;stroke:#000;stroke-width:1.1px">ii)</text>
<text x="129.76" y="932.50" font-family='"Liberation Sans", Arial, sans-serif' font-size="48.40" fill="#000" style="font-kerning:none;letter-spacing:2.000px;stroke:#000;stroke-width:1.1px">iii)</text>
<text x="129.76" y="1129.00" font-family='"Liberation Sans", Arial, sans-serif' font-size="48.40" fill="#000" style="font-kerning:none;letter-spacing:2.000px;stroke:#000;stroke-width:1.1px">iv)</text>
<text x="922.46" y="436.00" font-family='"Liberation Sans", Arial, sans-serif' font-size="48.40" fill="#000" style="font-kerning:none;letter-spacing:2.000px;stroke:#000;stroke-width:1.1px">i)</text>
<text x="922.16" y="775.00" font-family='"Liberation Sans", Arial, sans-serif' font-size="48.40" fill="#000" style="font-kerning:none;letter-spacing:2.000px;stroke:#000;stroke-width:1.1px">ii)</text>
<text x="922.16" y="1122.00" font-family='"Liberation Sans", Arial, sans-serif' font-size="48.40" fill="#000" style="font-kerning:none;letter-spacing:2.000px;stroke:#000;stroke-width:1.1px">iii)</text>
<text x="120.06" y="1733.70" font-family='"Liberation Sans", Arial, sans-serif' font-size="48.40" fill="#000" style="font-kerning:none;letter-spacing:2.000px;stroke:#000;stroke-width:1.1px">i)</text>
<text x="120.06" y="2045.80" font-family='"Liberation Sans", Arial, sans-serif' font-size="48.40" fill="#000" style="font-kerning:none;letter-spacing:2.000px;stroke:#000;stroke-width:1.1px">ii)</text>
<text x="120.26" y="2391.80" font-family='"Liberation Sans", Arial, sans-serif' font-size="48.40" fill="#000" style="font-kerning:none;letter-spacing:2.000px;stroke:#000;stroke-width:1.1px">iii)</text>
<text x="906.16" y="1787.70" font-family='"Liberation Sans", Arial, sans-serif' font-size="48.40" fill="#000" style="font-kerning:none;letter-spacing:2.000px;stroke:#000;stroke-width:1.1px">i)</text>
<text x="906.16" y="2125.00" font-family='"Liberation Sans", Arial, sans-serif' font-size="48.40" fill="#000" style="font-kerning:none;letter-spacing:2.000px;stroke:#000;stroke-width:1.1px">ii)</text>
<text x="280.82" y="1276.00" font-family='"Liberation Sans", Arial, sans-serif' font-size="51.00" fill="#000" style="font-kerning:none;letter-spacing:-0.615px;stroke:#000;stroke-width:1.1px">Binding Energy (eV)</text>
<text x="1106.32" y="1274.40" font-family='"Liberation Sans", Arial, sans-serif' font-size="51.00" fill="#000" style="font-kerning:none;letter-spacing:-0.587px;stroke:#000;stroke-width:1.1px">Binding Energy (eV)</text>
<text x="220.82" y="2566.80" font-family='"Liberation Sans", Arial, sans-serif' font-size="51.00" fill="#000" style="font-kerning:none;letter-spacing:-0.576px;stroke:#000;stroke-width:1.1px">Binding Energy (eV)</text>
<text x="1140.52" y="2565.80" font-family='"Liberation Sans", Arial, sans-serif' font-size="51.00" fill="#000" style="font-kerning:none;letter-spacing:-0.570px;stroke:#000;stroke-width:1.1px">Binding Energy (eV)</text>
<text transform="translate(84.30,938.00) rotate(-90)" x="-4.41" y="0" font-family='"Liberation Sans", Arial, sans-serif' font-size="53.80" fill="#000" style="font-kerning:none;letter-spacing:-1.803px;stroke:#000;stroke-width:1.1px">Normalised Intensity (arb. units)</text>
<text transform="translate(84.30,2201.70) rotate(-90)" x="-4.41" y="0" font-family='"Liberation Sans", Arial, sans-serif' font-size="53.80" fill="#000" style="font-kerning:none;letter-spacing:-1.844px;stroke:#000;stroke-width:1.1px">Normalised Intensity (arb. units)</text>
<text x="230.21" y="1229.00" font-family='"Liberation Sans", Arial, sans-serif' font-size="50.50" fill="#000" style="font-kerning:none;letter-spacing:0.202px;stroke:#000;stroke-width:1.1px">295</text>
<text x="427.46" y="1229.00" font-family='"Liberation Sans", Arial, sans-serif' font-size="50.50" fill="#000" style="font-kerning:none;letter-spacing:0.128px;stroke:#000;stroke-width:1.1px">290</text>
<text x="625.46" y="1229.00" font-family='"Liberation Sans", Arial, sans-serif' font-size="50.50" fill="#000" style="font-kerning:none;letter-spacing:0.202px;stroke:#000;stroke-width:1.1px">285</text>
<text x="1038.24" y="1227.50" font-family='"Liberation Sans", Arial, sans-serif' font-size="50.50" fill="#000" style="font-kerning:none;letter-spacing:-0.809px;stroke:#000;stroke-width:1.1px">404</text>
<text x="1319.84" y="1227.50" font-family='"Liberation Sans", Arial, sans-serif' font-size="50.50" fill="#000" style="font-kerning:none;letter-spacing:-0.563px;stroke:#000;stroke-width:1.1px">400</text>
<text x="1599.68" y="1227.50" font-family='"Liberation Sans", Arial, sans-serif' font-size="50.50" fill="#000" style="font-kerning:none;letter-spacing:-0.057px;stroke:#000;stroke-width:1.1px">396</text>
<text x="124.58" y="2513.00" font-family='"Liberation Sans", Arial, sans-serif' font-size="51.50" fill="#000" style="font-kerning:none;letter-spacing:1.789px;stroke:#000;stroke-width:1.1px">1060</text>
<text x="269.08" y="2513.00" font-family='"Liberation Sans", Arial, sans-serif' font-size="51.50" fill="#000" style="font-kerning:none;letter-spacing:1.789px;stroke:#000;stroke-width:1.1px">1050</text>
<text x="413.58" y="2513.00" font-family='"Liberation Sans", Arial, sans-serif' font-size="51.50" fill="#000" style="font-kerning:none;letter-spacing:1.789px;stroke:#000;stroke-width:1.1px">1040</text>
<text x="558.08" y="2513.00" font-family='"Liberation Sans", Arial, sans-serif' font-size="51.50" fill="#000" style="font-kerning:none;letter-spacing:1.789px;stroke:#000;stroke-width:1.1px">1030</text>
<text x="702.48" y="2513.00" font-family='"Liberation Sans", Arial, sans-serif' font-size="51.50" fill="#000" style="font-kerning:none;letter-spacing:1.789px;stroke:#000;stroke-width:1.1px">1020</text>
<text x="984.31" y="2514.60" font-family='"Liberation Sans", Arial, sans-serif' font-size="50.50" fill="#000" style="font-kerning:none;letter-spacing:-0.045px;stroke:#000;stroke-width:1.1px">810</text>
<text x="1190.31" y="2514.60" font-family='"Liberation Sans", Arial, sans-serif' font-size="50.50" fill="#000" style="font-kerning:none;letter-spacing:-0.045px;stroke:#000;stroke-width:1.1px">800</text>
<text x="1396.41" y="2514.60" font-family='"Liberation Sans", Arial, sans-serif' font-size="50.50" fill="#000" style="font-kerning:none;letter-spacing:0.152px;stroke:#000;stroke-width:1.1px">790</text>
<text x="1602.31" y="2514.60" font-family='"Liberation Sans", Arial, sans-serif' font-size="50.50" fill="#000" style="font-kerning:none;letter-spacing:0.152px;stroke:#000;stroke-width:1.1px">780</text>
<line x1="83" y1="2437.6" x2="112" y2="2437.6" stroke="#E8C8E8" stroke-width="1.6"/>
<line x1="839" y1="2439" x2="864" y2="2439" stroke="#A8E8D8" stroke-width="1.6"/>
<rect x="122.7" y="38.0" width="1663.3" height="1128.7" fill="none" stroke="#000" stroke-width="3.7"/>
<line x1="913.0" y1="38.0" x2="913.0" y2="1166.7" stroke="#000" stroke-width="3.7"/>
<rect x="112.0" y="1336.0" width="1677.0" height="1118.0" fill="none" stroke="#000" stroke-width="3.7"/>
<line x1="864.0" y1="1336.0" x2="864.0" y2="2454.0" stroke="#000" stroke-width="3.7"/>
<line x1="272.8" y1="1168.5" x2="272.8" y2="1190.0" stroke="#000" stroke-width="3.6"/>
<line x1="470.4" y1="1168.5" x2="470.4" y2="1190.0" stroke="#000" stroke-width="3.6"/>
<line x1="668.0" y1="1168.5" x2="668.0" y2="1190.0" stroke="#000" stroke-width="3.6"/>
<line x1="371.6" y1="1168.5" x2="371.6" y2="1179.5" stroke="#000" stroke-width="3.6"/>
<line x1="569.2" y1="1168.5" x2="569.2" y2="1179.5" stroke="#000" stroke-width="3.6"/>
<line x1="766.8" y1="1168.5" x2="766.8" y2="1179.5" stroke="#000" stroke-width="3.6"/>
<line x1="1079.4" y1="1168.5" x2="1079.4" y2="1190.0" stroke="#000" stroke-width="3.6"/>
<line x1="1361.0" y1="1168.5" x2="1361.0" y2="1190.0" stroke="#000" stroke-width="3.6"/>
<line x1="1642.6" y1="1168.5" x2="1642.6" y2="1190.0" stroke="#000" stroke-width="3.6"/>
<line x1="938.6" y1="1168.5" x2="938.6" y2="1179.5" stroke="#000" stroke-width="3.6"/>
<line x1="1220.2" y1="1168.5" x2="1220.2" y2="1179.5" stroke="#000" stroke-width="3.6"/>
<line x1="1501.8" y1="1168.5" x2="1501.8" y2="1179.5" stroke="#000" stroke-width="3.6"/>
<line x1="183.4" y1="2455.8" x2="183.4" y2="2477.3" stroke="#000" stroke-width="3.6"/>
<line x1="327.9" y1="2455.8" x2="327.9" y2="2477.3" stroke="#000" stroke-width="3.6"/>
<line x1="472.4" y1="2455.8" x2="472.4" y2="2477.3" stroke="#000" stroke-width="3.6"/>
<line x1="616.9" y1="2455.8" x2="616.9" y2="2477.3" stroke="#000" stroke-width="3.6"/>
<line x1="761.4" y1="2455.8" x2="761.4" y2="2477.3" stroke="#000" stroke-width="3.6"/>
<line x1="255.6" y1="2455.8" x2="255.6" y2="2466.8" stroke="#000" stroke-width="3.6"/>
<line x1="400.1" y1="2455.8" x2="400.1" y2="2466.8" stroke="#000" stroke-width="3.6"/>
<line x1="544.6" y1="2455.8" x2="544.6" y2="2466.8" stroke="#000" stroke-width="3.6"/>
<line x1="689.1" y1="2455.8" x2="689.1" y2="2466.8" stroke="#000" stroke-width="3.6"/>
<line x1="1029.1" y1="2455.8" x2="1029.1" y2="2477.3" stroke="#000" stroke-width="3.6"/>
<line x1="1235.2" y1="2455.8" x2="1235.2" y2="2477.3" stroke="#000" stroke-width="3.6"/>
<line x1="1441.3" y1="2455.8" x2="1441.3" y2="2477.3" stroke="#000" stroke-width="3.6"/>
<line x1="1647.4" y1="2455.8" x2="1647.4" y2="2477.3" stroke="#000" stroke-width="3.6"/>
</svg></body></html>
